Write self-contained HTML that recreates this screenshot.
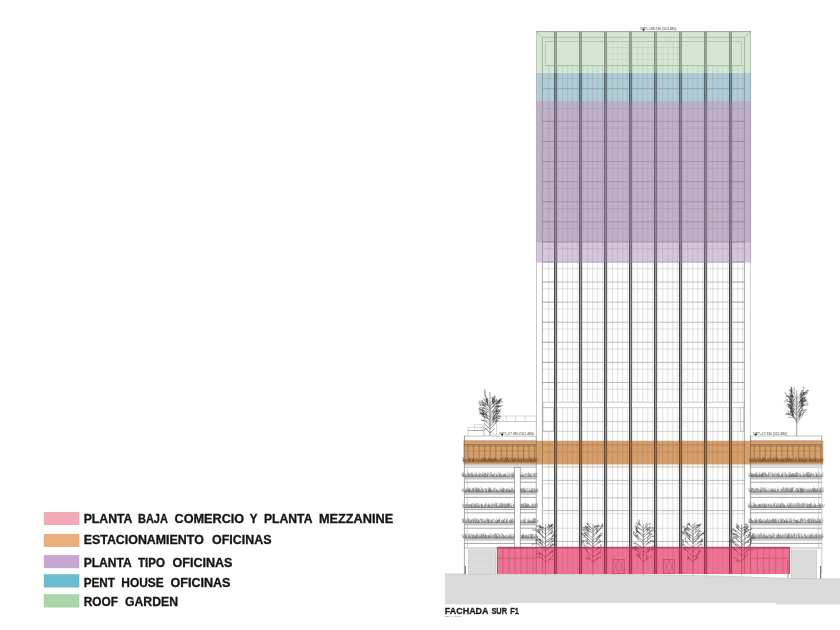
<!DOCTYPE html>
<html lang="es"><head><meta charset="utf-8"><title>Fachada Sur F1</title>
<style>html,body{margin:0;padding:0;background:#fff}body{width:840px;height:630px;overflow:hidden;font-family:"Liberation Sans",sans-serif}svg{display:block}</style>
</head><body>
<svg width="840" height="630" viewBox="0 0 840 630">
<rect width="840" height="630" fill="#fff"/>
<polygon points="445,574 600,574 720,576 790,578.5 840,579 840,604.6 776,604.6 776,603.0 510,603.0 510,604.3 445,604.3" fill="#dcdcdc"/>
<clipPath id="gc"><polygon points="445,574 600,574 720,576 790,578.5 840,579 840,604.6 776,604.6 776,603.0 510,603.0 510,604.3 445,604.3"/></clipPath>
<g stroke="#d3d3d3" stroke-width="0.5" clip-path="url(#gc)">
<line x1="400" y1="606" x2="434" y2="572"/>
<line x1="403" y1="606" x2="437" y2="572"/>
<line x1="406" y1="606" x2="440" y2="572"/>
<line x1="409" y1="606" x2="443" y2="572"/>
<line x1="412" y1="606" x2="446" y2="572"/>
<line x1="415" y1="606" x2="449" y2="572"/>
<line x1="418" y1="606" x2="452" y2="572"/>
<line x1="421" y1="606" x2="455" y2="572"/>
<line x1="424" y1="606" x2="458" y2="572"/>
<line x1="427" y1="606" x2="461" y2="572"/>
<line x1="430" y1="606" x2="464" y2="572"/>
<line x1="433" y1="606" x2="467" y2="572"/>
<line x1="436" y1="606" x2="470" y2="572"/>
<line x1="439" y1="606" x2="473" y2="572"/>
<line x1="442" y1="606" x2="476" y2="572"/>
<line x1="445" y1="606" x2="479" y2="572"/>
<line x1="448" y1="606" x2="482" y2="572"/>
<line x1="451" y1="606" x2="485" y2="572"/>
<line x1="454" y1="606" x2="488" y2="572"/>
<line x1="457" y1="606" x2="491" y2="572"/>
<line x1="460" y1="606" x2="494" y2="572"/>
<line x1="463" y1="606" x2="497" y2="572"/>
<line x1="466" y1="606" x2="500" y2="572"/>
<line x1="469" y1="606" x2="503" y2="572"/>
<line x1="472" y1="606" x2="506" y2="572"/>
<line x1="475" y1="606" x2="509" y2="572"/>
<line x1="478" y1="606" x2="512" y2="572"/>
<line x1="481" y1="606" x2="515" y2="572"/>
<line x1="484" y1="606" x2="518" y2="572"/>
<line x1="487" y1="606" x2="521" y2="572"/>
<line x1="490" y1="606" x2="524" y2="572"/>
<line x1="493" y1="606" x2="527" y2="572"/>
<line x1="496" y1="606" x2="530" y2="572"/>
<line x1="499" y1="606" x2="533" y2="572"/>
<line x1="502" y1="606" x2="536" y2="572"/>
<line x1="505" y1="606" x2="539" y2="572"/>
<line x1="508" y1="606" x2="542" y2="572"/>
<line x1="511" y1="606" x2="545" y2="572"/>
<line x1="514" y1="606" x2="548" y2="572"/>
<line x1="517" y1="606" x2="551" y2="572"/>
<line x1="520" y1="606" x2="554" y2="572"/>
<line x1="523" y1="606" x2="557" y2="572"/>
<line x1="526" y1="606" x2="560" y2="572"/>
<line x1="529" y1="606" x2="563" y2="572"/>
<line x1="532" y1="606" x2="566" y2="572"/>
<line x1="535" y1="606" x2="569" y2="572"/>
<line x1="538" y1="606" x2="572" y2="572"/>
<line x1="541" y1="606" x2="575" y2="572"/>
<line x1="544" y1="606" x2="578" y2="572"/>
<line x1="547" y1="606" x2="581" y2="572"/>
<line x1="550" y1="606" x2="584" y2="572"/>
<line x1="553" y1="606" x2="587" y2="572"/>
<line x1="556" y1="606" x2="590" y2="572"/>
<line x1="559" y1="606" x2="593" y2="572"/>
<line x1="562" y1="606" x2="596" y2="572"/>
<line x1="565" y1="606" x2="599" y2="572"/>
<line x1="568" y1="606" x2="602" y2="572"/>
<line x1="571" y1="606" x2="605" y2="572"/>
<line x1="574" y1="606" x2="608" y2="572"/>
<line x1="577" y1="606" x2="611" y2="572"/>
<line x1="580" y1="606" x2="614" y2="572"/>
<line x1="583" y1="606" x2="617" y2="572"/>
<line x1="586" y1="606" x2="620" y2="572"/>
<line x1="589" y1="606" x2="623" y2="572"/>
<line x1="592" y1="606" x2="626" y2="572"/>
<line x1="595" y1="606" x2="629" y2="572"/>
<line x1="598" y1="606" x2="632" y2="572"/>
<line x1="601" y1="606" x2="635" y2="572"/>
<line x1="604" y1="606" x2="638" y2="572"/>
<line x1="607" y1="606" x2="641" y2="572"/>
<line x1="610" y1="606" x2="644" y2="572"/>
<line x1="613" y1="606" x2="647" y2="572"/>
<line x1="616" y1="606" x2="650" y2="572"/>
<line x1="619" y1="606" x2="653" y2="572"/>
<line x1="622" y1="606" x2="656" y2="572"/>
<line x1="625" y1="606" x2="659" y2="572"/>
<line x1="628" y1="606" x2="662" y2="572"/>
<line x1="631" y1="606" x2="665" y2="572"/>
<line x1="634" y1="606" x2="668" y2="572"/>
<line x1="637" y1="606" x2="671" y2="572"/>
<line x1="640" y1="606" x2="674" y2="572"/>
<line x1="643" y1="606" x2="677" y2="572"/>
<line x1="646" y1="606" x2="680" y2="572"/>
<line x1="649" y1="606" x2="683" y2="572"/>
<line x1="652" y1="606" x2="686" y2="572"/>
<line x1="655" y1="606" x2="689" y2="572"/>
<line x1="658" y1="606" x2="692" y2="572"/>
<line x1="661" y1="606" x2="695" y2="572"/>
<line x1="664" y1="606" x2="698" y2="572"/>
<line x1="667" y1="606" x2="701" y2="572"/>
<line x1="670" y1="606" x2="704" y2="572"/>
<line x1="673" y1="606" x2="707" y2="572"/>
<line x1="676" y1="606" x2="710" y2="572"/>
<line x1="679" y1="606" x2="713" y2="572"/>
<line x1="682" y1="606" x2="716" y2="572"/>
<line x1="685" y1="606" x2="719" y2="572"/>
<line x1="688" y1="606" x2="722" y2="572"/>
<line x1="691" y1="606" x2="725" y2="572"/>
<line x1="694" y1="606" x2="728" y2="572"/>
<line x1="697" y1="606" x2="731" y2="572"/>
<line x1="700" y1="606" x2="734" y2="572"/>
<line x1="703" y1="606" x2="737" y2="572"/>
<line x1="706" y1="606" x2="740" y2="572"/>
<line x1="709" y1="606" x2="743" y2="572"/>
<line x1="712" y1="606" x2="746" y2="572"/>
<line x1="715" y1="606" x2="749" y2="572"/>
<line x1="718" y1="606" x2="752" y2="572"/>
<line x1="721" y1="606" x2="755" y2="572"/>
<line x1="724" y1="606" x2="758" y2="572"/>
<line x1="727" y1="606" x2="761" y2="572"/>
<line x1="730" y1="606" x2="764" y2="572"/>
<line x1="733" y1="606" x2="767" y2="572"/>
<line x1="736" y1="606" x2="770" y2="572"/>
<line x1="739" y1="606" x2="773" y2="572"/>
<line x1="742" y1="606" x2="776" y2="572"/>
<line x1="745" y1="606" x2="779" y2="572"/>
<line x1="748" y1="606" x2="782" y2="572"/>
<line x1="751" y1="606" x2="785" y2="572"/>
<line x1="754" y1="606" x2="788" y2="572"/>
<line x1="757" y1="606" x2="791" y2="572"/>
<line x1="760" y1="606" x2="794" y2="572"/>
<line x1="763" y1="606" x2="797" y2="572"/>
<line x1="766" y1="606" x2="800" y2="572"/>
<line x1="769" y1="606" x2="803" y2="572"/>
<line x1="772" y1="606" x2="806" y2="572"/>
<line x1="775" y1="606" x2="809" y2="572"/>
<line x1="778" y1="606" x2="812" y2="572"/>
<line x1="781" y1="606" x2="815" y2="572"/>
<line x1="784" y1="606" x2="818" y2="572"/>
<line x1="787" y1="606" x2="821" y2="572"/>
<line x1="790" y1="606" x2="824" y2="572"/>
<line x1="793" y1="606" x2="827" y2="572"/>
<line x1="796" y1="606" x2="830" y2="572"/>
<line x1="799" y1="606" x2="833" y2="572"/>
<line x1="802" y1="606" x2="836" y2="572"/>
<line x1="805" y1="606" x2="839" y2="572"/>
<line x1="808" y1="606" x2="842" y2="572"/>
<line x1="811" y1="606" x2="845" y2="572"/>
<line x1="814" y1="606" x2="848" y2="572"/>
<line x1="817" y1="606" x2="851" y2="572"/>
<line x1="820" y1="606" x2="854" y2="572"/>
<line x1="823" y1="606" x2="857" y2="572"/>
<line x1="826" y1="606" x2="860" y2="572"/>
<line x1="829" y1="606" x2="863" y2="572"/>
<line x1="832" y1="606" x2="866" y2="572"/>
<line x1="835" y1="606" x2="869" y2="572"/>
<line x1="838" y1="606" x2="872" y2="572"/>
<line x1="841" y1="606" x2="875" y2="572"/>
<line x1="844" y1="606" x2="878" y2="572"/>
<line x1="847" y1="606" x2="881" y2="572"/>
<line x1="850" y1="606" x2="884" y2="572"/>
<line x1="853" y1="606" x2="887" y2="572"/>
<line x1="856" y1="606" x2="890" y2="572"/>
<line x1="859" y1="606" x2="893" y2="572"/>
</g>
<polyline points="445,574 600,574 720,576 790,578.5 840,579" fill="none" stroke="#c4c4c4" stroke-width="0.7"/>
<g id="tower">
<rect x="536.50" y="31.60" width="214.50" height="542.40" fill="#fff"/>
<g stroke="#8a8a8a" stroke-width="0.26">
<line x1="557.60" y1="65.7" x2="557.60" y2="574.0"/>
<line x1="562.62" y1="65.7" x2="562.62" y2="574.0"/>
<line x1="567.64" y1="65.7" x2="567.64" y2="574.0"/>
<line x1="572.66" y1="65.7" x2="572.66" y2="574.0"/>
<line x1="577.68" y1="65.7" x2="577.68" y2="574.0"/>
<line x1="582.63" y1="65.7" x2="582.63" y2="574.0"/>
<line x1="587.65" y1="65.7" x2="587.65" y2="574.0"/>
<line x1="592.67" y1="65.7" x2="592.67" y2="574.0"/>
<line x1="597.69" y1="65.7" x2="597.69" y2="574.0"/>
<line x1="602.71" y1="65.7" x2="602.71" y2="574.0"/>
<line x1="607.66" y1="65.7" x2="607.66" y2="574.0"/>
<line x1="612.68" y1="65.7" x2="612.68" y2="574.0"/>
<line x1="617.70" y1="65.7" x2="617.70" y2="574.0"/>
<line x1="622.72" y1="65.7" x2="622.72" y2="574.0"/>
<line x1="627.74" y1="65.7" x2="627.74" y2="574.0"/>
<line x1="632.69" y1="65.7" x2="632.69" y2="574.0"/>
<line x1="637.71" y1="65.7" x2="637.71" y2="574.0"/>
<line x1="642.73" y1="65.7" x2="642.73" y2="574.0"/>
<line x1="647.75" y1="65.7" x2="647.75" y2="574.0"/>
<line x1="652.77" y1="65.7" x2="652.77" y2="574.0"/>
<line x1="657.72" y1="65.7" x2="657.72" y2="574.0"/>
<line x1="662.74" y1="65.7" x2="662.74" y2="574.0"/>
<line x1="667.76" y1="65.7" x2="667.76" y2="574.0"/>
<line x1="672.78" y1="65.7" x2="672.78" y2="574.0"/>
<line x1="677.80" y1="65.7" x2="677.80" y2="574.0"/>
<line x1="682.75" y1="65.7" x2="682.75" y2="574.0"/>
<line x1="687.77" y1="65.7" x2="687.77" y2="574.0"/>
<line x1="692.79" y1="65.7" x2="692.79" y2="574.0"/>
<line x1="697.81" y1="65.7" x2="697.81" y2="574.0"/>
<line x1="702.83" y1="65.7" x2="702.83" y2="574.0"/>
<line x1="707.78" y1="65.7" x2="707.78" y2="574.0"/>
<line x1="712.80" y1="65.7" x2="712.80" y2="574.0"/>
<line x1="717.82" y1="65.7" x2="717.82" y2="574.0"/>
<line x1="722.84" y1="65.7" x2="722.84" y2="574.0"/>
<line x1="727.86" y1="65.7" x2="727.86" y2="574.0"/>
<line x1="732.81" y1="65.7" x2="732.81" y2="574.0"/>
<line x1="737.83" y1="65.7" x2="737.83" y2="574.0"/>
<line x1="742.85" y1="65.7" x2="742.85" y2="574.0"/>
<line x1="548.70" y1="65.7" x2="548.70" y2="574.0"/>
</g>
<g stroke="#747474" stroke-width="0.45">
<line x1="542.4" y1="78.60" x2="744.6" y2="78.60" stroke-opacity="0.5"/>
<line x1="542.4" y1="88.70" x2="744.6" y2="88.70"/>
<line x1="542.4" y1="108.60" x2="744.6" y2="108.60" stroke-opacity="0.5"/>
<line x1="542.4" y1="121.40" x2="744.6" y2="121.40"/>
<line x1="542.4" y1="128.20" x2="744.6" y2="128.20" stroke-opacity="0.5"/>
<line x1="542.4" y1="141.48" x2="744.6" y2="141.48"/>
<line x1="542.4" y1="148.28" x2="744.6" y2="148.28" stroke-opacity="0.5"/>
<line x1="542.4" y1="161.56" x2="744.6" y2="161.56"/>
<line x1="542.4" y1="168.36" x2="744.6" y2="168.36" stroke-opacity="0.5"/>
<line x1="542.4" y1="181.64" x2="744.6" y2="181.64"/>
<line x1="542.4" y1="188.44" x2="744.6" y2="188.44" stroke-opacity="0.5"/>
<line x1="542.4" y1="201.72" x2="744.6" y2="201.72"/>
<line x1="542.4" y1="208.52" x2="744.6" y2="208.52" stroke-opacity="0.5"/>
<line x1="542.4" y1="221.80" x2="744.6" y2="221.80"/>
<line x1="542.4" y1="228.60" x2="744.6" y2="228.60" stroke-opacity="0.5"/>
<line x1="542.4" y1="241.88" x2="744.6" y2="241.88"/>
<line x1="542.4" y1="248.68" x2="744.6" y2="248.68" stroke-opacity="0.5"/>
<line x1="542.4" y1="261.96" x2="744.6" y2="261.96"/>
<line x1="542.4" y1="268.76" x2="744.6" y2="268.76" stroke-opacity="0.5"/>
<line x1="542.4" y1="282.04" x2="744.6" y2="282.04"/>
<line x1="542.4" y1="288.84" x2="744.6" y2="288.84" stroke-opacity="0.5"/>
<line x1="542.4" y1="302.12" x2="744.6" y2="302.12"/>
<line x1="542.4" y1="308.92" x2="744.6" y2="308.92" stroke-opacity="0.5"/>
<line x1="542.4" y1="322.20" x2="744.6" y2="322.20"/>
<line x1="542.4" y1="329.00" x2="744.6" y2="329.00" stroke-opacity="0.5"/>
<line x1="542.4" y1="342.28" x2="744.6" y2="342.28"/>
<line x1="542.4" y1="349.08" x2="744.6" y2="349.08" stroke-opacity="0.5"/>
<line x1="542.4" y1="362.36" x2="744.6" y2="362.36"/>
<line x1="542.4" y1="369.16" x2="744.6" y2="369.16" stroke-opacity="0.5"/>
<line x1="542.4" y1="382.44" x2="744.6" y2="382.44"/>
<line x1="542.4" y1="389.24" x2="744.6" y2="389.24" stroke-opacity="0.5"/>
<line x1="542.4" y1="445.00" x2="744.6" y2="445.00"/>
<line x1="542.4" y1="452.00" x2="744.6" y2="452.00" stroke-opacity="0.5"/>
<line x1="542.4" y1="466.90" x2="744.6" y2="466.90"/>
<line x1="542.4" y1="480.40" x2="744.6" y2="480.40"/>
<line x1="542.4" y1="483.90" x2="744.6" y2="483.90" stroke-opacity="0.5"/>
<line x1="542.4" y1="497.90" x2="744.6" y2="497.90"/>
<line x1="542.4" y1="510.60" x2="744.6" y2="510.60"/>
<line x1="542.4" y1="513.70" x2="744.6" y2="513.70" stroke-opacity="0.5"/>
<line x1="542.4" y1="528.30" x2="744.6" y2="528.30" stroke-opacity="0.5"/>
<line x1="542.4" y1="541.50" x2="744.6" y2="541.50"/>
</g>
<g stroke="#888" stroke-width="0.4">
<line x1="542.4" y1="121.40" x2="554.50" y2="121.40"/>
<line x1="732.51" y1="121.40" x2="744.6" y2="121.40"/>
<line x1="542.4" y1="141.48" x2="554.50" y2="141.48"/>
<line x1="732.51" y1="141.48" x2="744.6" y2="141.48"/>
<line x1="542.4" y1="161.56" x2="554.50" y2="161.56"/>
<line x1="732.51" y1="161.56" x2="744.6" y2="161.56"/>
<line x1="542.4" y1="181.64" x2="554.50" y2="181.64"/>
<line x1="732.51" y1="181.64" x2="744.6" y2="181.64"/>
<line x1="542.4" y1="201.72" x2="554.50" y2="201.72"/>
<line x1="732.51" y1="201.72" x2="744.6" y2="201.72"/>
<line x1="542.4" y1="221.80" x2="554.50" y2="221.80"/>
<line x1="732.51" y1="221.80" x2="744.6" y2="221.80"/>
<line x1="542.4" y1="241.88" x2="554.50" y2="241.88"/>
<line x1="732.51" y1="241.88" x2="744.6" y2="241.88"/>
<line x1="542.4" y1="261.96" x2="554.50" y2="261.96"/>
<line x1="732.51" y1="261.96" x2="744.6" y2="261.96"/>
<line x1="542.4" y1="282.04" x2="554.50" y2="282.04"/>
<line x1="732.51" y1="282.04" x2="744.6" y2="282.04"/>
<line x1="542.4" y1="302.12" x2="554.50" y2="302.12"/>
<line x1="732.51" y1="302.12" x2="744.6" y2="302.12"/>
<line x1="542.4" y1="322.20" x2="554.50" y2="322.20"/>
<line x1="732.51" y1="322.20" x2="744.6" y2="322.20"/>
<line x1="542.4" y1="342.28" x2="554.50" y2="342.28"/>
<line x1="732.51" y1="342.28" x2="744.6" y2="342.28"/>
<line x1="542.4" y1="362.36" x2="554.50" y2="362.36"/>
<line x1="732.51" y1="362.36" x2="744.6" y2="362.36"/>
<line x1="542.4" y1="382.44" x2="554.50" y2="382.44"/>
<line x1="732.51" y1="382.44" x2="744.6" y2="382.44"/>
</g>
<rect x="543.00" y="402.20" width="201.00" height="5.60" fill="#fff" stroke="#aaa" stroke-width="0.6"/>
<rect x="543.00" y="407.80" width="10.40" height="23.40" fill="#fff" stroke="#aaa" stroke-width="0.6"/>
<rect x="740.30" y="407.80" width="3.40" height="23.40" fill="#fff" stroke="#aaa" stroke-width="0.6"/>
<line x1="542.40" y1="421.70" x2="744.60" y2="421.70" stroke="#999" stroke-width="0.5"/>
<line x1="542.40" y1="431.40" x2="744.60" y2="431.40" stroke="#aaa" stroke-width="0.5"/>
<line x1="536.50" y1="31.60" x2="542.40" y2="37.30" stroke="#888" stroke-width="0.5"/>
<line x1="751.00" y1="31.60" x2="744.60" y2="37.30" stroke="#888" stroke-width="0.5"/>
<line x1="542.40" y1="37.30" x2="744.60" y2="37.30" stroke="#888" stroke-width="0.5"/>
<rect x="545.80" y="41.60" width="195.40" height="24.10" fill="none" stroke="#999" stroke-width="0.5"/>
<line x1="542.40" y1="65.70" x2="744.60" y2="65.70" stroke="#aaa" stroke-width="0.4"/>
<g stroke="#aab8a8" stroke-width="0.25">
<line x1="607.66" y1="41.6" x2="607.66" y2="65.7"/>
<line x1="612.68" y1="41.6" x2="612.68" y2="65.7"/>
<line x1="617.70" y1="41.6" x2="617.70" y2="65.7"/>
<line x1="622.72" y1="41.6" x2="622.72" y2="65.7"/>
<line x1="627.74" y1="41.6" x2="627.74" y2="65.7"/>
<line x1="632.76" y1="41.6" x2="632.76" y2="65.7"/>
<line x1="637.78" y1="41.6" x2="637.78" y2="65.7"/>
<line x1="642.80" y1="41.6" x2="642.80" y2="65.7"/>
<line x1="647.82" y1="41.6" x2="647.82" y2="65.7"/>
<line x1="652.84" y1="41.6" x2="652.84" y2="65.7"/>
<line x1="657.86" y1="41.6" x2="657.86" y2="65.7"/>
<line x1="662.88" y1="41.6" x2="662.88" y2="65.7"/>
<line x1="667.90" y1="41.6" x2="667.90" y2="65.7"/>
<line x1="672.92" y1="41.6" x2="672.92" y2="65.7"/>
<line x1="677.94" y1="41.6" x2="677.94" y2="65.7"/>
<line x1="605.96" y1="47.5" x2="681.05" y2="47.5"/>
<line x1="605.96" y1="53.5" x2="681.05" y2="53.5"/>
<line x1="605.96" y1="59.5" x2="681.05" y2="59.5"/>
</g>
<line x1="536.50" y1="31.60" x2="536.50" y2="574.00" stroke="#aaa" stroke-width="0.6"/>
<line x1="750.30" y1="31.60" x2="750.30" y2="574.00" stroke="#aaa" stroke-width="0.6"/>
<line x1="542.40" y1="37.30" x2="542.40" y2="574.00" stroke="#777" stroke-width="0.6"/>
<line x1="744.60" y1="37.30" x2="744.60" y2="574.00" stroke="#777" stroke-width="0.6"/>
<line x1="536.50" y1="31.60" x2="751.00" y2="31.60" stroke="#777" stroke-width="0.7"/>
<rect x="554.00" y="73.00" width="2.90" height="189.50" fill="#8e8e8e"/>
<rect x="554.00" y="262.50" width="2.90" height="311.50" fill="#a6a6a6"/>
<rect x="554.00" y="73.00" width="1.00" height="501.00" fill="#464646"/>
<rect x="555.90" y="73.00" width="1.00" height="501.00" fill="#5c5c5c"/>
<rect x="554.00" y="31.60" width="2.90" height="41.40" fill="#a4a4a4"/>
<rect x="554.00" y="31.60" width="1.00" height="41.40" fill="#7c7c7c"/>
<rect x="555.90" y="31.60" width="1.00" height="41.40" fill="#8a8a8a"/>
<rect x="579.00" y="73.00" width="2.90" height="189.50" fill="#8e8e8e"/>
<rect x="579.00" y="262.50" width="2.90" height="311.50" fill="#a6a6a6"/>
<rect x="579.00" y="73.00" width="1.00" height="501.00" fill="#464646"/>
<rect x="580.90" y="73.00" width="1.00" height="501.00" fill="#5c5c5c"/>
<rect x="579.00" y="31.60" width="2.90" height="41.40" fill="#a4a4a4"/>
<rect x="579.00" y="31.60" width="1.00" height="41.40" fill="#7c7c7c"/>
<rect x="580.90" y="31.60" width="1.00" height="41.40" fill="#8a8a8a"/>
<rect x="604.00" y="73.00" width="2.90" height="189.50" fill="#8e8e8e"/>
<rect x="604.00" y="262.50" width="2.90" height="311.50" fill="#a6a6a6"/>
<rect x="604.00" y="73.00" width="1.00" height="501.00" fill="#464646"/>
<rect x="605.90" y="73.00" width="1.00" height="501.00" fill="#5c5c5c"/>
<rect x="604.00" y="31.60" width="2.90" height="41.40" fill="#a4a4a4"/>
<rect x="604.00" y="31.60" width="1.00" height="41.40" fill="#7c7c7c"/>
<rect x="605.90" y="31.60" width="1.00" height="41.40" fill="#8a8a8a"/>
<rect x="629.00" y="73.00" width="2.90" height="189.50" fill="#8e8e8e"/>
<rect x="629.00" y="262.50" width="2.90" height="311.50" fill="#a6a6a6"/>
<rect x="629.00" y="73.00" width="1.00" height="501.00" fill="#464646"/>
<rect x="630.90" y="73.00" width="1.00" height="501.00" fill="#5c5c5c"/>
<rect x="629.00" y="31.60" width="2.90" height="41.40" fill="#a4a4a4"/>
<rect x="629.00" y="31.60" width="1.00" height="41.40" fill="#7c7c7c"/>
<rect x="630.90" y="31.60" width="1.00" height="41.40" fill="#8a8a8a"/>
<rect x="654.00" y="73.00" width="2.90" height="189.50" fill="#8e8e8e"/>
<rect x="654.00" y="262.50" width="2.90" height="311.50" fill="#a6a6a6"/>
<rect x="654.00" y="73.00" width="1.00" height="501.00" fill="#464646"/>
<rect x="655.90" y="73.00" width="1.00" height="501.00" fill="#5c5c5c"/>
<rect x="654.00" y="31.60" width="2.90" height="41.40" fill="#a4a4a4"/>
<rect x="654.00" y="31.60" width="1.00" height="41.40" fill="#7c7c7c"/>
<rect x="655.90" y="31.60" width="1.00" height="41.40" fill="#8a8a8a"/>
<rect x="679.00" y="73.00" width="2.90" height="189.50" fill="#8e8e8e"/>
<rect x="679.00" y="262.50" width="2.90" height="311.50" fill="#a6a6a6"/>
<rect x="679.00" y="73.00" width="1.00" height="501.00" fill="#464646"/>
<rect x="680.90" y="73.00" width="1.00" height="501.00" fill="#5c5c5c"/>
<rect x="679.00" y="31.60" width="2.90" height="41.40" fill="#a4a4a4"/>
<rect x="679.00" y="31.60" width="1.00" height="41.40" fill="#7c7c7c"/>
<rect x="680.90" y="31.60" width="1.00" height="41.40" fill="#8a8a8a"/>
<rect x="704.00" y="73.00" width="2.90" height="189.50" fill="#8e8e8e"/>
<rect x="704.00" y="262.50" width="2.90" height="311.50" fill="#a6a6a6"/>
<rect x="704.00" y="73.00" width="1.00" height="501.00" fill="#464646"/>
<rect x="705.90" y="73.00" width="1.00" height="501.00" fill="#5c5c5c"/>
<rect x="704.00" y="31.60" width="2.90" height="41.40" fill="#a4a4a4"/>
<rect x="704.00" y="31.60" width="1.00" height="41.40" fill="#7c7c7c"/>
<rect x="705.90" y="31.60" width="1.00" height="41.40" fill="#8a8a8a"/>
<rect x="729.00" y="73.00" width="2.90" height="189.50" fill="#8e8e8e"/>
<rect x="729.00" y="262.50" width="2.90" height="311.50" fill="#a6a6a6"/>
<rect x="729.00" y="73.00" width="1.00" height="501.00" fill="#464646"/>
<rect x="730.90" y="73.00" width="1.00" height="501.00" fill="#5c5c5c"/>
<rect x="729.00" y="31.60" width="2.90" height="41.40" fill="#a4a4a4"/>
<rect x="729.00" y="31.60" width="1.00" height="41.40" fill="#7c7c7c"/>
<rect x="730.90" y="31.60" width="1.00" height="41.40" fill="#8a8a8a"/>
</g>
<rect x="464.40" y="436.00" width="71.80" height="138.00" fill="#fff"/>
<rect x="464.40" y="436.00" width="71.80" height="4.80" fill="#fff" stroke="#999" stroke-width="0.6"/>
<line x1="464.40" y1="444.50" x2="536.20" y2="444.50" stroke="#555" stroke-width="0.5"/>
<line x1="464.40" y1="446.00" x2="536.20" y2="446.00" stroke="#555" stroke-width="0.5"/>
<line x1="464.40" y1="451.00" x2="536.20" y2="451.00" stroke="#999" stroke-width="0.4"/>
<g stroke="#444" stroke-width="0.45">
<line x1="468.0" y1="445.3" x2="468.0" y2="461"/>
<line x1="473.6" y1="445.3" x2="473.6" y2="461"/>
<line x1="479.1" y1="445.3" x2="479.1" y2="461"/>
<line x1="484.7" y1="445.3" x2="484.7" y2="461"/>
<line x1="490.2" y1="445.3" x2="490.2" y2="461"/>
<line x1="495.8" y1="445.3" x2="495.8" y2="461"/>
<line x1="501.3" y1="445.3" x2="501.3" y2="461"/>
<line x1="506.9" y1="445.3" x2="506.9" y2="461"/>
<line x1="512.4" y1="445.3" x2="512.4" y2="461"/>
<line x1="518.0" y1="445.3" x2="518.0" y2="461"/>
<line x1="523.5" y1="445.3" x2="523.5" y2="461"/>
<line x1="529.0" y1="445.3" x2="529.0" y2="461"/>
<line x1="534.6" y1="445.3" x2="534.6" y2="461"/>
</g>
<path d="M463.4 461.6q0.5 -2.6 -0.2 -4.3M463.4 461.6q0.2 -1.0 -0.1 -1.7M463.4 461.6q-0.9 -1.5 -0.7 -2.5M464.7 461.6q1.3 -1.5 1.7 -2.6M464.7 461.6q0.4 -1.6 0.5 -2.6M464.7 461.6q-1.0 -2.5 -1.6 -4.2M464.7 461.6q0.0 -1.6 1.0 -2.6M465.9 461.6q-1.0 -1.4 -0.7 -2.3M465.9 461.6q0.6 -0.9 -0.8 -1.6M467.4 461.6q0.3 -2.3 0.9 -3.8M467.4 461.6q0.1 -0.9 1.0 -1.5M468.8 461.6q-0.4 -1.3 1.3 -2.2M468.8 461.6q0.7 -1.5 -0.1 -2.5M468.8 461.6q-0.4 -1.8 0.2 -3.0M470.0 461.6q-0.7 -1.3 -1.7 -2.2M470.0 461.6q-0.9 -2.6 -0.9 -4.4M470.0 461.6q-0.3 -1.3 -1.2 -2.2M471.1 461.6q-0.3 -2.7 -0.3 -4.6M471.1 461.6q0.0 -1.8 -1.8 -3.0M472.6 461.6q-0.5 -1.7 -1.0 -2.8M472.6 461.6q-0.6 -1.8 0.3 -3.0M472.6 461.6q0.2 -1.4 -0.9 -2.4M472.6 461.6q-0.8 -1.7 -0.4 -2.9M473.4 461.6q0.1 -1.1 -0.5 -1.8M473.4 461.6q0.1 -1.0 -0.1 -1.6M473.4 461.6q-0.2 -2.6 0.5 -4.3M473.4 461.6q-0.8 -1.1 -0.9 -1.8M474.7 461.6q0.6 -1.5 1.4 -2.5M474.7 461.6q-0.4 -1.9 -1.4 -3.1M474.7 461.6q-0.2 -1.1 0.7 -1.9M474.7 461.6q0.0 -1.7 -0.0 -2.9M476.2 461.6q0.6 -1.4 0.2 -2.3M476.2 461.6q0.4 -2.2 -1.0 -3.6M477.5 461.6q-1.0 -1.6 -0.9 -2.7M477.5 461.6q-0.5 -1.1 0.3 -1.9M478.5 461.6q0.3 -1.9 0.8 -3.2M478.5 461.6q-1.3 -1.9 -1.7 -3.1M478.5 461.6q-0.9 -1.8 -0.7 -3.1M479.6 461.6q-0.8 -1.4 -0.7 -2.3M479.6 461.6q0.4 -1.3 0.2 -2.2M481.1 461.6q1.0 -2.3 1.1 -3.9M481.1 461.6q-0.7 -1.2 -0.1 -2.0M481.1 461.6q0.5 -2.5 1.3 -4.2M481.1 461.6q-0.9 -2.2 -0.4 -3.6M481.8 461.6q0.8 -2.2 1.4 -3.7M481.8 461.6q0.1 -1.3 0.7 -2.1M482.9 461.6q-0.3 -0.9 -1.7 -1.6M482.9 461.6q-0.1 -2.0 1.6 -3.3M482.9 461.6q0.1 -1.7 1.5 -2.8M482.9 461.6q-0.2 -1.2 -1.3 -2.0M484.0 461.6q-0.4 -2.2 -0.0 -3.7M484.0 461.6q-0.4 -1.8 -1.1 -3.1M484.0 461.6q0.2 -2.5 1.4 -4.1M485.2 461.6q0.5 -1.5 -0.0 -2.5M485.2 461.6q0.3 -1.8 -1.6 -2.9M485.2 461.6q-0.4 -2.5 -0.2 -4.1M486.0 461.6q-0.3 -1.3 -0.0 -2.1M486.0 461.6q-0.7 -1.8 -0.2 -2.9M486.0 461.6q-0.2 -0.9 -1.7 -1.5M487.2 461.6q-1.1 -1.5 -1.7 -2.6M487.2 461.6q-0.1 -1.9 1.0 -3.2M487.2 461.6q-0.1 -2.4 1.7 -4.0M488.0 461.6q0.8 -2.2 1.7 -3.7M488.0 461.6q0.1 -1.5 -0.9 -2.5M488.0 461.6q-0.3 -1.7 0.8 -2.8M488.0 461.6q0.8 -1.6 0.1 -2.7M489.1 461.6q-0.2 -1.3 1.5 -2.1M489.1 461.6q-0.2 -1.9 -0.4 -3.1M489.9 461.6q0.2 -1.3 0.5 -2.1M489.9 461.6q0.2 -2.5 -0.1 -4.1M490.8 461.6q-0.1 -1.8 1.5 -3.0M490.8 461.6q1.3 -1.6 1.7 -2.6M490.8 461.6q0.1 -2.0 -0.9 -3.4M490.8 461.6q-0.5 -0.9 -1.5 -1.4M491.9 461.6q0.3 -2.0 -1.0 -3.3M491.9 461.6q-0.6 -1.9 -1.2 -3.1M491.9 461.6q0.8 -2.4 -0.1 -4.0M493.4 461.6q0.5 -1.8 -0.2 -2.9M493.4 461.6q-0.9 -1.5 -1.5 -2.5M493.4 461.6q0.5 -2.0 1.2 -3.4M493.4 461.6q0.5 -1.0 1.2 -1.7M494.3 461.6q0.2 -1.9 -1.1 -3.1M494.3 461.6q-0.2 -1.9 -0.8 -3.2M494.3 461.6q0.2 -1.8 0.0 -3.1M495.0 461.6q0.8 -2.0 0.2 -3.3M495.0 461.6q-0.5 -1.4 0.7 -2.3M496.2 461.6q-0.3 -2.6 -0.8 -4.4M496.2 461.6q1.1 -1.4 1.4 -2.3M496.2 461.6q-0.7 -1.8 -0.7 -3.1M497.4 461.6q-1.1 -1.4 -1.7 -2.3M497.4 461.6q-0.4 -1.2 -0.6 -2.0M497.4 461.6q0.1 -2.2 -0.0 -3.6M498.7 461.6q0.8 -1.6 0.7 -2.7M498.7 461.6q-0.0 -0.9 -0.3 -1.4M498.7 461.6q0.4 -1.4 1.3 -2.4M498.7 461.6q0.6 -1.5 1.3 -2.6M500.1 461.6q1.0 -1.8 1.1 -3.1M500.1 461.6q-0.1 -1.7 1.4 -2.8M501.5 461.6q-0.2 -2.6 1.4 -4.3M501.5 461.6q0.1 -1.3 -1.5 -2.2M502.5 461.6q0.6 -1.4 0.5 -2.3M502.5 461.6q0.9 -0.9 0.7 -1.6M502.5 461.6q0.4 -2.7 0.7 -4.5M502.5 461.6q0.8 -1.2 1.2 -2.0M503.6 461.6q0.8 -0.9 0.4 -1.5M503.6 461.6q-0.8 -2.0 -1.1 -3.3M504.9 461.6q-0.5 -2.6 0.3 -4.4M504.9 461.6q0.0 -2.3 1.0 -3.8M504.9 461.6q-0.6 -1.3 -0.5 -2.2M505.9 461.6q-0.4 -2.3 -1.1 -3.8M505.9 461.6q0.6 -2.4 1.5 -3.9M505.9 461.6q-0.9 -1.3 -0.6 -2.2M505.9 461.6q0.6 -1.8 1.6 -2.9M506.8 461.6q-0.9 -2.7 -0.8 -4.6M506.8 461.6q0.2 -2.4 1.1 -3.9M506.8 461.6q0.6 -1.8 0.7 -3.0M506.8 461.6q-0.8 -2.4 -1.1 -4.0M508.1 461.6q1.2 -1.9 1.4 -3.2M508.1 461.6q0.4 -2.6 -1.0 -4.3M508.1 461.6q-0.5 -2.2 -1.0 -3.7M509.0 461.6q0.5 -1.8 0.5 -3.0M509.0 461.6q-0.3 -1.7 -1.7 -2.8M510.3 461.6q-1.0 -1.3 -1.6 -2.2M510.3 461.6q-0.6 -1.8 -0.9 -3.0M510.3 461.6q0.8 -1.2 0.0 -2.0M511.4 461.6q-0.3 -1.5 -1.5 -2.6M511.4 461.6q0.6 -2.4 -0.4 -4.0M512.4 461.6q-0.6 -1.8 0.4 -3.0M512.4 461.6q-0.4 -2.7 -0.8 -4.5M513.4 461.6q0.4 -1.2 -0.8 -1.9M513.4 461.6q-1.0 -1.6 -0.7 -2.6M513.4 461.6q-0.0 -1.6 0.5 -2.6M513.4 461.6q0.8 -2.3 1.4 -3.8M514.1 461.6q-0.1 -2.7 1.1 -4.5M514.1 461.6q0.1 -2.3 1.7 -3.9M514.1 461.6q-0.1 -1.4 1.5 -2.4M514.1 461.6q-0.5 -2.7 0.4 -4.5M515.3 461.6q-0.7 -1.4 -0.5 -2.3M515.3 461.6q0.1 -1.8 0.6 -2.9M515.3 461.6q-0.0 -1.1 0.7 -1.9M516.6 461.6q-0.4 -1.9 -1.3 -3.1M516.6 461.6q0.5 -2.0 1.0 -3.3M517.6 461.6q0.2 -1.5 0.2 -2.5M517.6 461.6q-0.7 -2.2 -1.1 -3.6M517.6 461.6q-0.3 -2.7 1.4 -4.5M518.4 461.6q-0.5 -1.6 0.4 -2.7M518.4 461.6q0.9 -2.0 0.9 -3.4M518.4 461.6q-0.1 -1.5 0.5 -2.4M519.4 461.6q0.8 -1.7 0.9 -2.9M519.4 461.6q0.5 -1.3 -0.2 -2.2M520.8 461.6q0.2 -1.3 -0.9 -2.2M520.8 461.6q0.5 -1.2 1.2 -2.1M521.7 461.6q-0.3 -2.5 -0.3 -4.1M521.7 461.6q-1.1 -1.4 -1.5 -2.3M521.7 461.6q0.3 -2.1 1.1 -3.5M521.7 461.6q-0.9 -2.5 -1.5 -4.1M523.0 461.6q0.6 -2.3 0.8 -3.8M523.0 461.6q-0.1 -1.6 -1.0 -2.7M523.9 461.6q0.7 -1.7 0.2 -2.8M523.9 461.6q0.4 -2.7 -0.2 -4.4M524.9 461.6q0.0 -1.1 1.4 -1.8M524.9 461.6q-0.2 -1.8 -1.7 -2.9M524.9 461.6q0.0 -2.1 0.9 -3.5M525.9 461.6q-1.0 -1.8 -1.2 -2.9M525.9 461.6q-0.1 -1.9 1.1 -3.2M526.6 461.6q0.7 -2.1 0.5 -3.5M526.6 461.6q-0.1 -0.9 -0.7 -1.5M527.6 461.6q-0.2 -2.3 -1.5 -3.9M527.6 461.6q0.2 -1.0 1.1 -1.7M527.6 461.6q0.3 -2.3 1.0 -3.9M528.9 461.6q0.2 -1.7 0.6 -2.9M528.9 461.6q-0.3 -1.4 -1.5 -2.4M528.9 461.6q-1.0 -0.9 -0.5 -1.5M529.9 461.6q0.2 -1.8 0.5 -3.0M529.9 461.6q-0.2 -2.3 -0.3 -3.8M530.7 461.6q-0.7 -1.0 -0.4 -1.7M530.7 461.6q-0.3 -1.5 0.1 -2.5M530.7 461.6q-0.8 -2.6 -0.7 -4.3M530.7 461.6q0.9 -2.2 1.5 -3.7M531.5 461.6q-0.7 -2.6 -0.7 -4.4M531.5 461.6q0.1 -1.2 -1.0 -2.1M531.5 461.6q0.6 -2.1 -0.2 -3.5M532.5 461.6q-0.4 -1.5 -0.1 -2.5M532.5 461.6q0.6 -2.6 0.6 -4.3M532.5 461.6q-0.6 -1.3 -0.4 -2.2M533.3 461.6q0.8 -1.9 1.0 -3.2M533.3 461.6q1.0 -1.3 1.4 -2.2M533.3 461.6q0.7 -2.6 1.1 -4.4M534.5 461.6q0.3 -1.8 -1.3 -3.1M534.5 461.6q0.9 -2.5 0.5 -4.1M535.4 461.6q-0.5 -0.9 1.0 -1.5M535.4 461.6q-0.3 -2.5 1.2 -4.1M535.4 461.6q0.7 -1.1 0.1 -1.9M535.4 461.6q0.6 -2.3 1.6 -3.8M536.8 461.6q0.6 -1.2 -0.3 -2.0M536.8 461.6q-0.2 -1.3 -1.0 -2.2M536.8 461.6q1.2 -2.0 1.6 -3.4" fill="none" stroke="#333" stroke-width="0.3"/>
<path d="M463.4 459.8l0.2 1.2M464.5 460.9l-1.3 -0.9M465.6 459.0l0.7 0.7M466.2 459.7l1.1 0.5M467.1 460.2l-1.2 0.7M468.4 458.5l0.7 1.0M469.0 459.2l1.3 0.6M470.4 458.8l0.2 -1.0M471.1 459.9l-1.2 -0.5M471.8 459.6l0.4 -0.1M472.7 460.8l0.4 -0.9M473.7 460.5l-0.9 -1.1M474.6 458.9l-1.2 -1.1M476.0 459.8l0.8 -0.4M477.3 458.2l-1.1 -0.7M477.9 459.0l-0.1 1.0M479.0 458.8l0.3 -0.4M480.2 460.3l1.5 0.1M480.9 460.5l-0.6 -0.1M481.9 460.5l-0.5 -0.5M482.5 458.9l-0.7 0.1M483.3 460.4l0.3 0.0M484.3 460.5l1.3 1.2M485.4 458.2l0.2 -1.1M486.5 458.7l-1.1 -0.1M487.4 460.1l-1.2 0.9M488.1 458.4l-0.1 0.6M488.9 459.3l0.1 -1.0M490.2 460.6l0.7 1.0M491.0 460.6l1.3 -1.2M492.1 460.0l0.8 -0.3M492.7 459.2l0.9 -0.1M493.6 458.7l1.3 1.2M494.2 458.8l1.0 1.0M495.3 459.1l0.8 -0.8M496.2 461.0l0.1 -0.9M497.0 460.1l-1.1 -0.6M498.4 460.9l0.9 0.5M499.6 459.9l-0.0 -1.0M500.4 458.3l1.2 0.2M501.2 460.2l1.2 -0.1M502.6 459.0l1.0 -0.9M503.2 458.2l-0.5 0.0M504.0 461.0l1.2 -0.5M505.1 459.8l-0.4 -0.4M506.3 458.4l1.1 -0.6M507.6 460.3l1.1 1.1M508.5 460.8l1.2 0.1M509.6 458.2l1.1 1.2M510.7 458.4l-0.4 0.1M511.8 460.6l0.4 -0.2M512.4 460.9l0.1 -0.9M513.7 459.3l-0.1 -0.5M514.8 461.0l-1.0 -0.1M515.7 459.5l-1.1 0.5M516.4 460.2l-0.1 -0.4M517.2 460.7l0.8 0.7M518.5 460.5l1.1 0.5M519.1 460.1l1.1 1.0M519.6 459.1l0.6 0.1M520.6 460.4l1.3 1.1M521.6 460.2l1.0 1.1M522.4 459.8l1.1 -0.4M523.8 458.7l-0.3 -0.8M525.0 460.7l0.6 -0.6M526.2 459.5l-0.6 -0.5M527.4 459.5l-1.2 0.0M528.8 458.3l-1.0 -0.7M529.4 459.0l-0.1 -1.0M530.7 460.9l1.2 -1.2M531.7 459.4l-0.2 0.2M532.4 458.0l-0.9 -0.8M533.6 461.0l0.9 -0.8M534.9 459.2l1.2 0.2M535.4 458.3l-1.3 -1.0M536.6 458.3l-0.5 -0.0M537.1 460.2l1.0 0.3" fill="none" stroke="#444" stroke-width="0.34"/>
<line x1="464.40" y1="462.00" x2="536.20" y2="462.00" stroke="#444" stroke-width="0.6"/>
<rect x="464.40" y="465.00" width="71.80" height="2.40" fill="#dde3ea" stroke="#aaa" stroke-width="0.4"/>
<path d="M462.9 477.0q0.5 -3.0 0.3 -5.0M462.9 477.0q-0.4 -1.4 -1.0 -2.4M462.9 477.0q-0.1 -1.9 1.0 -3.1M462.9 477.0q0.5 -2.1 1.3 -3.6M463.8 477.0q-0.6 -1.6 -1.6 -2.7M463.8 477.0q-1.1 -2.9 -1.3 -4.8M464.9 477.0q0.2 -1.5 -0.9 -2.5M464.9 477.0q0.1 -1.3 0.2 -2.2M464.9 477.0q-0.6 -2.7 0.4 -4.5M465.9 477.0q0.7 -1.3 0.9 -2.1M465.9 477.0q0.1 -2.7 -1.5 -4.4M465.9 477.0q-0.3 -1.5 -0.9 -2.5M465.9 477.0q-0.4 -1.7 1.0 -2.9M467.0 477.0q-0.2 -1.8 1.7 -3.0M467.0 477.0q-0.0 -1.5 1.8 -2.5M467.0 477.0q-0.3 -1.5 1.7 -2.4M468.0 477.0q0.0 -1.5 0.2 -2.5M468.0 477.0q0.5 -3.0 0.6 -5.0M468.0 477.0q-0.7 -2.2 -1.0 -3.6M468.0 477.0q-0.8 -2.3 -0.3 -3.8M468.9 477.0q-0.8 -1.3 -1.0 -2.2M468.9 477.0q0.4 -2.3 0.9 -3.9M468.9 477.0q-0.1 -2.1 1.5 -3.4M470.3 477.0q-0.6 -1.9 -1.0 -3.2M470.3 477.0q0.3 -1.1 1.1 -1.8M471.3 477.0q-0.0 -2.1 -0.1 -3.5M471.3 477.0q-0.1 -2.4 1.3 -4.0M471.3 477.0q-0.8 -1.9 -1.6 -3.2M471.3 477.0q-1.0 -2.1 -1.7 -3.5M472.2 477.0q-0.1 -1.6 0.8 -2.7M472.2 477.0q0.7 -1.9 0.8 -3.2M472.2 477.0q0.9 -1.5 0.8 -2.4M472.9 477.0q0.2 -2.8 -1.5 -4.7M472.9 477.0q-0.1 -1.3 0.6 -2.1M472.9 477.0q-1.1 -2.4 -1.7 -3.9M474.1 477.0q-0.0 -1.6 -0.3 -2.7M474.1 477.0q-0.2 -1.0 0.2 -1.7M475.2 477.0q0.4 -1.5 1.2 -2.5M475.2 477.0q0.5 -2.1 -0.4 -3.4M475.2 477.0q0.0 -1.6 -0.5 -2.7M476.0 477.0q0.6 -2.6 0.2 -4.4M476.0 477.0q-0.5 -3.1 0.6 -5.1M477.4 477.0q0.0 -1.8 -1.4 -2.9M477.4 477.0q0.2 -1.3 -0.9 -2.2M477.4 477.0q-0.7 -1.4 -1.6 -2.4M477.4 477.0q-0.2 -1.8 0.7 -3.1M478.8 477.0q0.2 -2.1 -0.5 -3.5M478.8 477.0q-0.3 -1.5 -0.6 -2.6M479.6 477.0q0.5 -1.2 -0.7 -2.0M479.6 477.0q-0.8 -2.9 -0.5 -4.9M479.6 477.0q0.4 -2.0 -0.4 -3.3M479.6 477.0q-0.6 -1.2 -0.6 -2.1M480.3 477.0q-0.3 -1.8 0.2 -3.0M480.3 477.0q-0.0 -2.5 0.5 -4.1M480.3 477.0q-0.2 -1.9 -1.7 -3.1M481.2 477.0q0.2 -1.7 0.2 -2.8M481.2 477.0q1.0 -1.3 1.2 -2.2M482.2 477.0q-0.2 -1.3 0.7 -2.1M482.2 477.0q-0.0 -2.2 1.7 -3.6M482.2 477.0q-0.7 -1.6 -0.9 -2.6M483.3 477.0q-0.3 -3.1 -0.9 -5.1M483.3 477.0q0.1 -1.7 -1.5 -2.9M483.3 477.0q0.2 -2.0 1.7 -3.4M483.3 477.0q0.1 -1.9 -0.7 -3.1M484.6 477.0q-0.2 -1.5 1.2 -2.5M484.6 477.0q-0.0 -2.4 1.1 -4.0M484.6 477.0q0.3 -2.0 0.9 -3.3M484.6 477.0q0.2 -1.7 -0.5 -2.8M486.0 477.0q1.0 -1.4 1.8 -2.4M486.0 477.0q-0.5 -2.9 -1.4 -4.8M486.0 477.0q-0.3 -2.7 -1.7 -4.5M486.0 477.0q-0.9 -2.0 -1.6 -3.3M487.1 477.0q-0.1 -1.4 0.5 -2.3M487.1 477.0q0.2 -2.5 -0.6 -4.2M487.1 477.0q-0.1 -2.8 0.2 -4.7M487.1 477.0q-0.1 -1.8 0.9 -3.0M488.0 477.0q0.0 -1.3 -0.7 -2.2M488.0 477.0q0.8 -3.1 0.3 -5.1M489.4 477.0q0.1 -1.7 -0.3 -2.9M489.4 477.0q-0.2 -1.4 1.8 -2.3M490.7 477.0q0.1 -2.9 -0.8 -4.8M490.7 477.0q0.5 -3.1 -0.3 -5.2M492.1 477.0q0.3 -1.5 -0.7 -2.5M492.1 477.0q0.1 -2.8 -1.0 -4.7M492.1 477.0q0.3 -2.0 1.7 -3.3M493.3 477.0q0.5 -1.7 -0.2 -2.9M493.3 477.0q0.3 -2.3 1.4 -3.8M493.3 477.0q-0.1 -1.5 -0.8 -2.5M493.3 477.0q-0.7 -1.7 -0.8 -2.9M494.4 477.0q-1.2 -1.6 -1.6 -2.6M494.4 477.0q-0.6 -2.9 0.6 -4.9M494.4 477.0q0.1 -1.8 1.8 -3.1M495.8 477.0q0.2 -1.3 1.1 -2.1M495.8 477.0q0.6 -0.9 0.4 -1.5M495.8 477.0q1.1 -1.7 1.6 -2.8M497.3 477.0q0.1 -1.6 -1.6 -2.7M497.3 477.0q-1.1 -2.1 -1.4 -3.5M497.3 477.0q-0.2 -1.3 -0.7 -2.2M498.0 477.0q-0.5 -1.3 -1.8 -2.2M498.0 477.0q-0.3 -1.9 -0.0 -3.2M499.1 477.0q0.4 -2.7 1.6 -4.5M499.1 477.0q0.4 -2.8 -0.9 -4.7M499.1 477.0q-0.7 -0.9 -1.3 -1.5M499.1 477.0q0.7 -1.8 0.6 -3.0M500.1 477.0q0.4 -2.1 -0.8 -3.4M500.1 477.0q-0.7 -1.8 -0.8 -3.0M500.1 477.0q0.3 -1.5 0.9 -2.6M500.1 477.0q-0.7 -2.5 -0.5 -4.2M501.1 477.0q-0.8 -2.0 -0.4 -3.4M501.1 477.0q0.8 -1.0 1.2 -1.6M501.8 477.0q0.4 -1.3 -1.4 -2.1M501.8 477.0q0.4 -2.0 -0.0 -3.4M503.2 477.0q0.2 -1.3 1.6 -2.2M503.2 477.0q-0.8 -1.6 0.1 -2.6M503.2 477.0q0.1 -1.8 -0.4 -3.0M504.1 477.0q0.6 -1.9 1.3 -3.1M504.1 477.0q-0.1 -1.5 1.5 -2.5M504.1 477.0q0.2 -1.8 -0.2 -3.1M504.1 477.0q-0.2 -2.0 0.0 -3.3M505.2 477.0q-0.0 -2.2 0.1 -3.6M505.2 477.0q0.8 -1.7 0.3 -2.9M506.1 477.0q-0.0 -1.8 0.9 -3.1M506.1 477.0q0.5 -1.8 -0.4 -3.1M506.1 477.0q-0.9 -1.4 -1.4 -2.4M507.5 477.0q0.8 -2.8 0.0 -4.7M507.5 477.0q-0.2 -1.3 0.8 -2.2M508.9 477.0q-0.1 -1.6 1.3 -2.7M508.9 477.0q-0.9 -1.2 -0.9 -2.0M508.9 477.0q-0.3 -2.0 1.4 -3.4M510.0 477.0q-0.2 -1.9 1.7 -3.1M510.0 477.0q-0.6 -3.0 -1.2 -5.0M511.4 477.0q0.1 -2.8 -0.3 -4.7M511.4 477.0q0.8 -0.9 0.4 -1.5M512.2 477.0q0.5 -1.1 -0.7 -1.9M512.2 477.0q0.1 -2.1 0.6 -3.6M512.2 477.0q0.8 -1.2 0.7 -2.0M512.2 477.0q0.4 -2.1 0.4 -3.5M513.0 477.0q-0.6 -1.1 -0.1 -1.8M513.0 477.0q-0.1 -1.4 0.4 -2.4M513.9 477.0q0.8 -1.8 0.8 -2.9M513.9 477.0q-0.2 -2.7 -1.3 -4.5M514.9 477.0q-1.0 -2.0 -1.3 -3.3M514.9 477.0q-0.2 -1.0 0.7 -1.6M514.9 477.0q0.2 -2.3 -1.4 -3.9M514.9 477.0q0.1 -3.0 0.6 -5.0M516.3 477.0q0.0 -1.6 0.4 -2.6M516.3 477.0q-0.0 -1.3 -0.6 -2.2M516.3 477.0q0.1 -2.5 -0.7 -4.1M517.6 477.0q0.2 -1.2 -1.3 -2.0M517.6 477.0q-0.9 -1.7 -0.8 -2.8M519.0 477.0q0.2 -1.0 -1.4 -1.6M519.0 477.0q-1.3 -1.4 -1.7 -2.3M519.0 477.0q0.5 -1.6 -0.6 -2.7M519.0 477.0q-0.4 -3.0 0.6 -5.0M519.7 477.0q0.2 -2.1 -0.1 -3.5M519.7 477.0q1.3 -1.3 1.7 -2.2M520.8 477.0q-1.1 -1.7 -1.4 -2.9M520.8 477.0q0.1 -2.2 -0.4 -3.6M521.6 477.0q0.4 -1.6 1.2 -2.7M521.6 477.0q0.2 -1.4 -1.8 -2.3M521.6 477.0q0.7 -1.8 1.5 -3.0M521.6 477.0q-0.3 -3.1 1.0 -5.1M522.7 477.0q1.1 -1.9 1.6 -3.2M522.7 477.0q0.0 -1.2 -0.3 -2.1M524.2 477.0q-0.6 -1.2 0.2 -2.1M524.2 477.0q-0.4 -1.2 -1.5 -1.9M525.1 477.0q0.7 -1.7 -0.1 -2.8M525.1 477.0q-0.0 -2.3 0.2 -3.9M526.5 477.0q0.4 -1.9 -1.2 -3.2M526.5 477.0q0.9 -2.2 0.4 -3.7M527.8 477.0q0.2 -2.0 -1.0 -3.3M527.8 477.0q-0.3 -1.0 0.8 -1.6M528.9 477.0q0.5 -2.0 -0.7 -3.3M528.9 477.0q-0.4 -2.4 -0.4 -4.1M529.8 477.0q-0.2 -1.4 -0.6 -2.4M529.8 477.0q0.6 -1.7 1.6 -2.9M529.8 477.0q-0.4 -2.2 -0.4 -3.6M529.8 477.0q-1.0 -2.6 -1.0 -4.4M531.1 477.0q-0.8 -1.9 -0.6 -3.1M531.1 477.0q-0.4 -1.3 -1.6 -2.1M531.1 477.0q0.6 -2.3 1.1 -3.8M532.4 477.0q0.5 -1.8 1.6 -3.0M532.4 477.0q-0.7 -1.5 -1.8 -2.6M533.8 477.0q0.3 -2.5 1.7 -4.2M533.8 477.0q-0.1 -2.3 1.2 -3.9M535.2 477.0q0.0 -1.8 -1.4 -3.0M535.2 477.0q-0.2 -1.9 -1.0 -3.1M536.5 477.0q-0.4 -2.4 -0.4 -4.1M536.5 477.0q-0.6 -2.5 -0.4 -4.2M536.5 477.0q0.3 -1.7 -0.7 -2.8" fill="none" stroke="#5a5a5a" stroke-width="0.28"/>
<path d="M462.9 474.1l-1.3 0.6M463.4 474.2l0.2 1.0M464.5 476.4l1.3 0.6M465.5 476.5l0.7 -0.2M466.7 472.9l1.3 -1.0M467.9 474.9l0.8 -0.3M468.8 474.9l-1.1 -0.4M469.9 476.2l-1.2 0.8M471.0 474.5l-1.2 -0.9M471.8 473.0l0.2 1.0M472.5 475.0l0.1 0.8M473.1 473.3l-0.1 -1.1M474.0 475.1l0.5 1.0M474.9 473.9l-0.3 0.7M475.5 473.8l-1.0 0.2M476.2 475.2l-1.0 -0.4M477.2 474.6l-0.3 0.2M478.5 475.2l0.3 -0.0M479.9 475.3l0.6 -0.6M480.6 473.8l0.2 -0.6M481.2 473.4l-0.4 0.5M482.1 474.2l0.2 1.1M483.4 474.8l-0.0 -0.6M484.6 476.1l-0.6 0.8M485.1 473.9l0.2 0.1M485.9 475.9l1.4 0.6M487.1 476.1l0.9 -0.7M487.8 474.5l0.3 -0.9M489.0 474.3l1.2 1.0M490.1 475.2l1.4 0.5M490.9 473.3l0.7 -0.6M491.6 476.4l0.1 -0.6M492.4 475.6l-1.1 -0.0M493.1 475.4l-0.7 0.0M494.4 475.9l1.1 0.9M495.4 474.5l0.7 0.1M496.5 473.1l0.8 -0.6M497.1 473.0l-0.4 0.7M497.8 474.8l-0.4 0.6M499.1 474.6l0.2 -0.4M499.8 473.0l-1.2 1.1M500.9 476.2l1.2 -1.0M501.9 476.1l1.5 -0.5M503.2 476.3l0.5 -1.0M503.8 474.4l1.4 0.4M505.0 473.6l0.1 -1.0M506.0 475.8l0.1 -0.3M507.0 475.8l0.6 -0.2M507.9 476.2l-0.0 0.1M509.3 474.4l-1.1 -0.5M510.1 473.9l1.3 1.1M511.4 473.1l1.1 1.0M511.9 474.7l0.3 0.4M513.0 474.2l1.3 -1.0M514.0 472.9l-1.4 -0.9M515.2 473.0l-1.4 -1.1M516.5 474.0l0.1 0.2M517.7 473.5l-1.5 -1.0M518.9 472.9l1.0 -0.2M519.7 475.2l-1.5 0.6M520.4 474.3l0.1 -0.4M521.5 474.8l-0.8 0.9M522.2 475.9l-0.7 -0.1M523.4 475.3l-0.8 0.4M524.1 474.6l-0.7 0.9M524.8 475.6l-0.6 -0.4M525.9 474.0l0.9 0.1M526.5 473.7l-0.8 -0.7M527.4 472.8l-0.4 -0.3M528.7 472.8l-0.3 -0.9M529.9 473.6l-0.5 0.7M530.8 475.4l0.3 0.6M531.7 473.5l-1.5 -0.0M532.5 476.3l1.2 -0.9M533.2 473.3l1.4 1.0M534.0 473.1l-1.1 0.5M535.4 475.8l-1.1 0.4M536.7 473.8l1.3 -0.1M537.5 476.1l-0.7 1.1" fill="none" stroke="#666" stroke-width="0.32"/>
<line x1="464.40" y1="477.00" x2="536.20" y2="477.00" stroke="#444" stroke-width="0.6"/>
<line x1="464.40" y1="478.80" x2="536.20" y2="478.80" stroke="#666" stroke-width="0.6"/>
<line x1="464.40" y1="482.20" x2="536.20" y2="482.20" stroke="#666" stroke-width="0.6"/>
<path d="M462.9 492.2q-0.8 -1.8 -1.6 -3.0M462.9 492.2q-0.2 -1.6 -0.8 -2.6M464.3 492.2q-0.9 -1.9 -0.9 -3.1M464.3 492.2q-0.8 -2.5 -1.5 -4.1M464.3 492.2q-0.5 -1.9 0.0 -3.1M465.2 492.2q1.1 -1.4 1.1 -2.3M465.2 492.2q0.5 -1.5 1.8 -2.4M465.2 492.2q1.2 -1.3 1.6 -2.1M465.2 492.2q-0.8 -0.9 -0.4 -1.5M466.0 492.2q-0.3 -2.0 1.7 -3.3M466.0 492.2q-0.6 -2.0 0.4 -3.4M466.8 492.2q0.2 -1.2 1.7 -2.0M466.8 492.2q-0.2 -2.0 -0.5 -3.3M466.8 492.2q-0.9 -2.4 -1.2 -4.0M467.9 492.2q-0.3 -1.4 0.3 -2.3M467.9 492.2q0.4 -3.0 -1.0 -5.0M467.9 492.2q-0.4 -2.0 -1.2 -3.3M467.9 492.2q1.0 -3.1 1.0 -5.2M468.9 492.2q-0.0 -2.3 0.7 -3.9M468.9 492.2q-0.0 -1.7 0.7 -2.8M468.9 492.2q0.7 -2.3 0.9 -3.8M468.9 492.2q-0.5 -1.7 -1.8 -2.9M469.8 492.2q-0.7 -2.0 -0.1 -3.3M469.8 492.2q-1.0 -2.2 -1.6 -3.6M469.8 492.2q-0.7 -0.9 -0.2 -1.5M469.8 492.2q-0.1 -2.7 0.3 -4.6M470.5 492.2q-0.7 -2.1 -1.4 -3.4M470.5 492.2q-0.0 -1.3 -0.0 -2.2M471.5 492.2q0.7 -2.2 1.5 -3.6M471.5 492.2q1.1 -2.5 1.1 -4.2M471.5 492.2q0.1 -2.1 -0.9 -3.5M471.5 492.2q-0.2 -1.7 1.1 -2.9M472.8 492.2q-0.3 -2.6 1.5 -4.3M472.8 492.2q0.2 -2.2 -0.1 -3.6M472.8 492.2q0.7 -2.5 1.6 -4.2M473.6 492.2q1.1 -1.5 1.7 -2.5M473.6 492.2q0.6 -1.8 0.4 -3.0M473.6 492.2q-0.5 -1.2 0.4 -2.0M473.6 492.2q-0.2 -2.6 -0.2 -4.3M474.6 492.2q0.1 -2.3 0.5 -3.8M474.6 492.2q0.1 -1.9 -1.7 -3.2M475.7 492.2q0.6 -1.2 1.0 -1.9M475.7 492.2q0.3 -2.2 -0.1 -3.7M476.4 492.2q0.5 -2.5 -0.6 -4.2M476.4 492.2q0.2 -3.0 0.1 -4.9M476.4 492.2q0.0 -1.8 1.0 -3.0M477.3 492.2q0.1 -3.1 -1.7 -5.2M477.3 492.2q0.3 -2.2 0.9 -3.7M477.3 492.2q-0.3 -1.2 -0.5 -2.0M477.3 492.2q-0.7 -2.0 -1.6 -3.3M478.4 492.2q-0.5 -2.2 -0.3 -3.7M478.4 492.2q-0.5 -2.1 -1.4 -3.5M478.4 492.2q0.3 -1.8 0.2 -2.9M478.4 492.2q-0.0 -3.0 0.3 -5.0M479.2 492.2q-0.4 -1.6 0.4 -2.6M479.2 492.2q0.8 -2.1 0.3 -3.6M480.1 492.2q-0.2 -1.3 -0.2 -2.1M480.1 492.2q-0.7 -1.4 -1.1 -2.3M480.1 492.2q-0.8 -2.1 -1.5 -3.4M480.1 492.2q1.2 -2.5 1.3 -4.2M481.2 492.2q0.3 -1.2 -0.9 -1.9M481.2 492.2q-0.4 -2.0 0.8 -3.3M481.2 492.2q-0.3 -1.3 -0.4 -2.2M481.2 492.2q-0.7 -1.8 -0.1 -3.1M482.6 492.2q1.1 -1.5 1.3 -2.5M482.6 492.2q-0.7 -2.4 -0.7 -4.0M482.6 492.2q0.5 -2.0 0.3 -3.3M482.6 492.2q0.2 -2.9 -0.9 -4.8M483.9 492.2q-0.1 -1.1 -0.2 -1.9M483.9 492.2q0.1 -1.3 -1.7 -2.1M483.9 492.2q-0.1 -2.4 -0.2 -4.0M485.3 492.2q1.2 -1.7 1.4 -2.9M485.3 492.2q-0.3 -2.7 1.4 -4.5M485.3 492.2q1.0 -1.6 0.8 -2.7M486.5 492.2q-0.3 -2.1 0.6 -3.5M486.5 492.2q0.5 -1.9 0.3 -3.1M486.5 492.2q-0.7 -2.3 -1.7 -3.8M486.5 492.2q-0.6 -2.7 -1.5 -4.5M487.9 492.2q0.2 -3.1 0.9 -5.2M487.9 492.2q0.9 -2.2 1.2 -3.6M487.9 492.2q0.9 -1.4 1.7 -2.3M488.9 492.2q0.0 -2.3 -0.9 -3.9M488.9 492.2q-0.1 -2.0 1.8 -3.3M488.9 492.2q0.3 -2.7 1.1 -4.5M489.6 492.2q0.5 -1.9 -0.6 -3.1M489.6 492.2q-0.2 -2.7 0.6 -4.5M489.6 492.2q-0.5 -2.7 0.6 -4.6M489.6 492.2q0.8 -1.3 0.1 -2.2M490.8 492.2q-0.8 -1.9 -1.5 -3.1M490.8 492.2q-0.6 -1.8 -0.5 -2.9M490.8 492.2q-0.1 -2.6 -0.5 -4.3M491.5 492.2q-0.7 -2.0 -1.3 -3.3M491.5 492.2q-0.8 -2.0 -0.9 -3.4M491.5 492.2q-0.6 -1.4 0.5 -2.4M492.3 492.2q0.4 -1.5 0.3 -2.5M492.3 492.2q0.0 -1.8 -1.0 -2.9M493.6 492.2q0.7 -2.8 1.2 -4.6M493.6 492.2q-0.2 -0.9 -0.8 -1.5M493.6 492.2q-0.1 -1.3 -1.0 -2.2M494.4 492.2q-0.9 -2.7 -1.2 -4.5M494.4 492.2q0.1 -2.3 -0.1 -3.9M494.4 492.2q-0.0 -1.9 1.3 -3.1M495.4 492.2q-0.2 -1.5 -1.6 -2.5M495.4 492.2q0.2 -0.9 0.2 -1.5M496.2 492.2q0.7 -2.3 0.4 -3.9M496.2 492.2q0.6 -1.3 -0.3 -2.2M497.4 492.2q-0.1 -1.2 -1.3 -2.0M497.4 492.2q-1.1 -1.3 -1.0 -2.2M497.4 492.2q-0.6 -1.7 -0.9 -2.8M497.4 492.2q-0.3 -1.7 -0.5 -2.8M498.2 492.2q-0.0 -1.4 -0.1 -2.4M498.2 492.2q0.2 -1.3 1.1 -2.1M499.5 492.2q-0.5 -2.0 -0.5 -3.3M499.5 492.2q0.5 -1.4 0.1 -2.4M500.9 492.2q-1.0 -1.7 -0.7 -2.9M500.9 492.2q-0.0 -1.9 -0.2 -3.2M501.9 492.2q0.6 -1.8 -0.5 -2.9M501.9 492.2q0.7 -1.0 0.2 -1.6M501.9 492.2q-0.9 -3.1 -1.5 -5.2M501.9 492.2q0.0 -2.1 -0.3 -3.6M502.6 492.2q-0.6 -2.2 0.1 -3.7M502.6 492.2q0.6 -2.9 0.8 -4.8M502.6 492.2q0.2 -2.1 0.3 -3.4M503.4 492.2q-0.1 -1.5 0.9 -2.6M503.4 492.2q0.7 -2.2 0.5 -3.6M503.4 492.2q-0.7 -2.2 0.4 -3.6M503.4 492.2q-0.3 -2.6 0.4 -4.3M504.3 492.2q0.8 -2.1 0.1 -3.5M504.3 492.2q0.7 -1.6 1.1 -2.6M505.6 492.2q-0.3 -1.3 1.1 -2.2M505.6 492.2q0.9 -1.6 0.9 -2.6M506.8 492.2q-0.1 -1.9 -1.1 -3.2M506.8 492.2q-0.4 -1.7 -1.6 -2.8M506.8 492.2q0.1 -1.4 -0.9 -2.3M507.7 492.2q-0.6 -2.5 -0.9 -4.1M507.7 492.2q-0.8 -2.1 -1.5 -3.5M507.7 492.2q0.3 -2.5 -0.8 -4.2M509.0 492.2q0.9 -1.7 0.7 -2.9M509.0 492.2q-0.5 -1.8 -1.6 -3.0M509.0 492.2q-0.9 -1.4 -0.9 -2.3M509.0 492.2q-0.4 -1.3 -0.5 -2.2M509.8 492.2q-0.3 -1.7 -1.2 -2.8M509.8 492.2q-0.3 -1.5 0.2 -2.5M509.8 492.2q-0.4 -1.1 -1.6 -1.8M509.8 492.2q-0.4 -3.0 -1.1 -5.1M511.1 492.2q0.6 -1.9 0.9 -3.2M511.1 492.2q-0.9 -1.3 -1.3 -2.2M511.1 492.2q-0.0 -1.3 -0.9 -2.1M511.1 492.2q0.1 -1.0 -1.6 -1.7M512.3 492.2q-0.7 -2.3 -0.8 -3.9M512.3 492.2q-0.4 -1.4 -1.5 -2.4M513.1 492.2q-0.3 -2.7 -1.3 -4.5M513.1 492.2q-0.8 -2.2 -1.8 -3.6M513.1 492.2q-0.6 -3.1 -1.1 -5.2M513.1 492.2q0.0 -0.9 1.3 -1.4M514.0 492.2q0.9 -1.5 1.1 -2.4M514.0 492.2q-0.3 -3.0 1.5 -5.0M514.0 492.2q0.5 -1.7 -0.9 -2.9M514.0 492.2q-0.0 -1.0 1.5 -1.6M515.0 492.2q-0.5 -2.7 0.2 -4.4M515.0 492.2q0.0 -1.4 -0.5 -2.3M515.0 492.2q0.1 -2.1 1.4 -3.5M515.9 492.2q-0.5 -1.7 -1.3 -2.9M515.9 492.2q0.5 -2.3 1.0 -3.8M515.9 492.2q-0.5 -1.4 -0.8 -2.4M517.1 492.2q1.2 -1.2 1.3 -2.0M517.1 492.2q0.2 -1.7 0.0 -2.8M518.2 492.2q0.5 -1.1 0.4 -1.8M518.2 492.2q-0.8 -1.0 -1.8 -1.7M518.2 492.2q-0.5 -1.2 0.5 -2.0M519.5 492.2q0.8 -2.7 0.8 -4.6M519.5 492.2q-0.2 -3.0 -0.8 -5.0M520.4 492.2q0.2 -2.6 0.1 -4.4M520.4 492.2q0.0 -2.1 1.7 -3.4M520.4 492.2q0.1 -2.4 0.7 -4.0M520.4 492.2q0.4 -2.0 0.8 -3.3M521.6 492.2q-0.1 -1.3 1.6 -2.2M521.6 492.2q0.3 -2.5 0.7 -4.2M521.6 492.2q-0.2 -2.8 1.6 -4.7M521.6 492.2q-1.0 -2.4 -1.0 -4.1M522.5 492.2q-0.2 -1.5 -1.3 -2.5M522.5 492.2q0.2 -2.8 1.5 -4.6M523.7 492.2q-0.3 -2.0 0.5 -3.4M523.7 492.2q0.2 -0.9 1.7 -1.5M523.7 492.2q-0.5 -1.9 -0.3 -3.1M524.7 492.2q-0.7 -1.5 -1.2 -2.5M524.7 492.2q0.4 -2.2 0.4 -3.7M524.7 492.2q-0.3 -2.2 -0.8 -3.6M525.8 492.2q-0.2 -1.4 -0.1 -2.3M525.8 492.2q-1.1 -2.1 -1.5 -3.5M525.8 492.2q-0.2 -1.8 -1.5 -3.0M526.7 492.2q0.5 -2.3 0.4 -3.8M526.7 492.2q-0.4 -2.1 -0.7 -3.4M528.1 492.2q-0.6 -1.2 -0.1 -2.0M528.1 492.2q0.4 -1.0 0.8 -1.7M528.1 492.2q0.1 -1.5 -0.2 -2.5M528.1 492.2q-0.7 -1.3 -0.6 -2.2M529.4 492.2q-0.3 -1.6 -0.6 -2.6M529.4 492.2q1.0 -3.0 1.2 -4.9M530.3 492.2q-0.1 -1.8 -1.0 -3.0M530.3 492.2q0.7 -1.3 1.6 -2.2M530.3 492.2q0.6 -1.3 -0.3 -2.1M531.7 492.2q0.1 -1.2 0.1 -1.9M531.7 492.2q-0.2 -1.7 0.2 -2.9M531.7 492.2q-0.7 -1.1 -0.9 -1.8M531.7 492.2q0.0 -1.7 1.6 -2.9M532.5 492.2q-0.4 -1.4 -0.9 -2.3M532.5 492.2q-0.4 -2.8 -0.5 -4.7M532.5 492.2q-0.5 -1.1 0.4 -1.8M532.5 492.2q0.8 -1.8 0.1 -3.0M533.9 492.2q1.2 -1.4 1.7 -2.3M533.9 492.2q-0.1 -2.7 0.5 -4.5M533.9 492.2q0.6 -1.9 1.1 -3.1M535.2 492.2q-0.6 -2.5 -0.9 -4.2M535.2 492.2q0.1 -1.4 1.5 -2.3M535.2 492.2q1.0 -1.9 0.7 -3.2M536.4 492.2q0.3 -1.4 1.0 -2.3M536.4 492.2q-0.2 -1.4 -0.5 -2.3M536.4 492.2q1.0 -1.6 1.6 -2.6M536.4 492.2q-0.3 -1.8 -1.7 -3.0M537.7 492.2q-1.1 -2.2 -1.4 -3.6M537.7 492.2q-0.4 -1.9 0.2 -3.2M537.7 492.2q-0.9 -2.1 -0.7 -3.5" fill="none" stroke="#5a5a5a" stroke-width="0.28"/>
<path d="M462.9 490.4l1.4 -0.3M464.2 488.5l0.2 -0.9M465.5 491.4l0.2 -1.0M466.0 490.2l-1.0 1.2M467.1 488.4l1.4 0.6M468.1 489.9l0.8 0.4M468.8 489.7l-0.3 0.0M469.9 489.2l0.2 0.7M471.2 491.4l-1.1 -1.1M471.8 488.2l-0.6 -0.1M472.7 489.6l-0.7 0.7M473.5 488.6l0.9 -1.2M474.5 491.4l1.2 -1.0M475.3 488.9l0.3 0.4M476.1 489.8l-0.9 -0.1M476.9 489.2l-1.2 -0.9M477.5 489.7l0.2 -1.2M478.9 488.6l-0.4 -0.8M480.2 488.1l-1.0 0.6M481.4 488.2l-0.9 -0.9M482.1 490.8l1.2 1.0M483.0 491.2l-0.4 -0.6M484.1 489.0l0.8 -0.2M485.0 490.0l-0.4 -0.1M486.1 489.1l-0.5 0.2M486.7 491.5l-0.3 -0.3M487.3 491.4l-0.2 1.1M488.5 491.6l-0.5 -0.3M489.3 491.2l0.3 0.8M490.1 491.0l-1.2 -1.2M491.3 490.8l0.7 0.7M491.9 491.0l-0.6 0.6M493.1 490.6l-0.1 -0.3M494.0 488.8l-0.7 0.7M495.3 489.5l1.4 1.1M496.0 488.0l-0.9 0.7M496.6 490.6l-0.2 0.8M497.7 490.9l1.2 0.9M498.7 491.5l-0.6 -0.5M499.5 488.2l0.3 0.8M500.1 490.8l0.7 -0.4M500.8 491.5l-1.3 -0.2M501.8 490.2l0.2 -0.5M502.3 489.2l-0.5 -0.0M503.1 490.7l-1.3 -0.5M503.9 491.3l-1.4 -0.0M504.4 488.4l-0.4 -0.1M505.4 491.6l-1.2 0.7M506.4 489.9l-0.5 0.6M507.4 488.8l1.0 0.9M508.5 489.2l-0.1 0.1M509.5 489.8l1.0 0.9M510.1 488.9l0.3 0.2M511.4 491.5l-0.1 -0.3M512.7 491.1l0.2 -0.9M513.9 489.9l0.7 -0.5M515.2 491.7l-0.8 0.6M516.5 488.8l-0.7 -1.0M517.7 489.0l-1.3 1.0M518.6 491.6l-0.1 -0.4M519.2 488.4l1.3 -0.9M520.1 490.7l0.5 -0.9M520.9 490.2l-0.1 -0.2M522.0 488.2l1.3 1.0M523.2 490.9l-0.8 -0.1M524.3 489.5l-0.5 1.2M525.1 491.6l-1.2 -0.7M526.2 488.6l-1.4 -0.6M526.9 488.8l1.2 -0.6M527.5 488.1l1.4 0.5M528.5 488.9l0.8 0.0M529.2 489.8l0.5 -0.4M530.3 491.2l1.4 -0.7M531.0 488.1l1.4 1.0M532.2 488.6l1.0 0.2M532.8 489.0l1.0 0.8M533.3 491.5l0.7 -0.0M534.6 488.0l-0.2 0.4M535.7 489.1l-0.4 0.3M536.3 488.4l0.7 0.7M537.2 490.9l-0.1 0.4" fill="none" stroke="#666" stroke-width="0.32"/>
<line x1="464.40" y1="492.20" x2="536.20" y2="492.20" stroke="#444" stroke-width="0.6"/>
<line x1="464.40" y1="494.00" x2="536.20" y2="494.00" stroke="#666" stroke-width="0.6"/>
<line x1="464.40" y1="497.40" x2="536.20" y2="497.40" stroke="#666" stroke-width="0.6"/>
<path d="M462.9 507.6q1.0 -1.5 1.5 -2.5M462.9 507.6q0.5 -1.5 1.2 -2.4M463.7 507.6q0.5 -1.7 0.4 -2.9M463.7 507.6q-0.2 -2.4 -1.5 -4.0M464.7 507.6q0.7 -2.0 1.5 -3.3M464.7 507.6q1.0 -2.4 1.7 -3.9M466.2 507.6q0.3 -1.9 0.4 -3.1M466.2 507.6q-0.8 -2.0 -0.5 -3.3M466.2 507.6q0.9 -2.4 0.4 -4.1M467.4 507.6q0.6 -2.7 -0.1 -4.5M467.4 507.6q0.7 -2.0 0.2 -3.3M468.1 507.6q0.1 -2.0 -1.6 -3.3M468.1 507.6q-0.7 -1.6 -0.4 -2.7M468.1 507.6q-0.9 -2.3 -0.5 -3.9M468.1 507.6q-0.3 -1.7 -1.1 -2.8M469.0 507.6q0.1 -2.2 1.4 -3.7M469.0 507.6q0.4 -1.5 0.4 -2.5M470.0 507.6q0.9 -1.9 1.6 -3.1M470.0 507.6q-0.7 -1.9 -1.3 -3.2M470.0 507.6q-0.0 -1.9 -1.3 -3.2M471.3 507.6q-0.3 -2.7 1.2 -4.5M471.3 507.6q0.4 -2.0 -1.3 -3.4M471.3 507.6q-0.6 -2.2 -1.6 -3.6M471.3 507.6q-0.2 -1.9 0.6 -3.2M472.2 507.6q0.1 -2.1 -0.6 -3.5M472.2 507.6q1.1 -2.9 1.4 -4.9M472.2 507.6q-0.3 -1.7 -1.5 -2.8M473.0 507.6q-0.1 -1.5 -1.3 -2.5M473.0 507.6q-0.2 -2.2 1.2 -3.7M474.4 507.6q-0.1 -2.2 -0.0 -3.6M474.4 507.6q0.7 -1.2 0.1 -2.0M474.4 507.6q-0.7 -2.5 -0.6 -4.2M474.4 507.6q0.4 -1.4 1.0 -2.3M475.4 507.6q-0.1 -2.8 0.7 -4.7M475.4 507.6q-0.6 -1.4 -0.5 -2.3M475.4 507.6q1.0 -1.2 0.9 -2.0M475.4 507.6q0.6 -2.3 -0.1 -3.9M476.6 507.6q-0.9 -2.4 -0.8 -4.0M476.6 507.6q-0.2 -1.2 -1.2 -2.1M476.6 507.6q0.2 -1.4 1.6 -2.3M478.0 507.6q-0.3 -2.0 -1.7 -3.4M478.0 507.6q-0.9 -2.9 -0.9 -4.8M478.0 507.6q-0.6 -1.3 -1.1 -2.1M478.0 507.6q1.1 -2.2 1.5 -3.6M479.1 507.6q-0.8 -2.8 -1.6 -4.6M479.1 507.6q1.0 -1.3 1.3 -2.1M479.9 507.6q-0.5 -1.2 -1.0 -1.9M479.9 507.6q0.4 -1.8 -0.2 -3.0M479.9 507.6q-0.4 -1.7 -0.9 -2.8M481.2 507.6q0.4 -2.2 0.1 -3.7M481.2 507.6q0.8 -2.1 -0.1 -3.5M482.0 507.6q-0.2 -1.6 0.0 -2.7M482.0 507.6q0.3 -2.0 -1.4 -3.3M482.0 507.6q0.7 -2.0 -0.4 -3.3M482.8 507.6q-1.1 -1.4 -1.0 -2.4M482.8 507.6q0.4 -1.4 -0.6 -2.4M482.8 507.6q-0.2 -2.8 -1.4 -4.7M482.8 507.6q-0.9 -1.5 -1.7 -2.4M484.3 507.6q-0.2 -1.5 -0.2 -2.4M484.3 507.6q0.7 -1.5 1.3 -2.6M484.3 507.6q-0.1 -2.8 1.4 -4.6M484.3 507.6q-0.1 -1.5 1.1 -2.5M485.2 507.6q0.7 -2.1 -0.1 -3.4M485.2 507.6q1.0 -1.8 1.0 -2.9M486.2 507.6q-0.1 -2.9 -0.7 -4.8M486.2 507.6q-0.6 -2.2 0.0 -3.6M487.3 507.6q0.2 -1.9 0.9 -3.2M487.3 507.6q0.3 -1.6 1.3 -2.7M488.4 507.6q-0.1 -3.0 0.3 -5.0M488.4 507.6q-0.3 -1.5 0.8 -2.5M489.5 507.6q-1.1 -2.0 -1.4 -3.4M489.5 507.6q-0.5 -1.3 0.2 -2.2M489.5 507.6q0.3 -1.2 0.3 -2.0M489.5 507.6q-0.8 -2.4 -1.7 -4.0M490.3 507.6q-1.0 -2.1 -1.6 -3.5M490.3 507.6q0.6 -1.6 -0.3 -2.7M490.3 507.6q-0.5 -1.6 -1.0 -2.7M490.3 507.6q-1.1 -1.4 -1.2 -2.3M491.4 507.6q0.8 -1.6 1.5 -2.6M491.4 507.6q-0.3 -1.2 0.2 -2.0M492.3 507.6q-0.2 -2.0 -1.0 -3.3M492.3 507.6q-0.3 -1.1 0.3 -1.8M492.3 507.6q0.7 -2.4 0.8 -4.1M492.3 507.6q-0.9 -2.3 -0.9 -3.9M493.6 507.6q-0.5 -2.9 -0.8 -4.9M493.6 507.6q1.1 -2.1 1.2 -3.5M494.8 507.6q-0.5 -1.7 0.4 -2.8M494.8 507.6q-0.0 -2.4 -0.9 -3.9M496.2 507.6q-0.7 -2.0 -1.7 -3.4M496.2 507.6q0.4 -1.4 -0.7 -2.4M496.2 507.6q0.3 -2.8 0.6 -4.6M496.2 507.6q-0.1 -2.3 -0.7 -3.8M497.1 507.6q-0.7 -3.0 -1.7 -5.0M497.1 507.6q0.1 -3.0 -1.2 -5.0M497.9 507.6q-0.3 -2.5 -1.8 -4.2M497.9 507.6q-0.1 -1.1 -1.2 -1.8M499.1 507.6q-0.2 -2.7 0.4 -4.5M499.1 507.6q-0.3 -1.5 0.1 -2.4M499.1 507.6q0.2 -1.4 0.4 -2.3M499.1 507.6q0.2 -2.7 -0.7 -4.5M500.2 507.6q1.3 -2.3 1.6 -3.8M500.2 507.6q-0.1 -2.2 0.4 -3.6M500.2 507.6q0.2 -1.4 -0.7 -2.3M500.2 507.6q0.2 -2.8 1.0 -4.7M501.5 507.6q0.3 -2.0 0.2 -3.3M501.5 507.6q0.5 -2.3 1.3 -3.8M501.5 507.6q0.5 -1.3 1.7 -2.2M501.5 507.6q-0.2 -1.1 0.4 -1.8M502.2 507.6q-0.2 -1.1 -1.1 -1.8M502.2 507.6q0.1 -1.6 -1.5 -2.7M502.9 507.6q0.0 -2.9 -1.5 -4.9M502.9 507.6q-0.5 -3.1 -0.5 -5.1M504.2 507.6q-0.5 -2.2 1.1 -3.7M504.2 507.6q0.5 -2.3 -0.6 -3.8M504.2 507.6q-0.1 -2.3 -0.6 -3.9M504.2 507.6q-0.5 -1.6 -0.9 -2.7M505.3 507.6q-0.5 -1.6 -1.0 -2.7M505.3 507.6q0.1 -2.9 0.4 -4.8M505.3 507.6q0.5 -2.7 -0.9 -4.5M506.5 507.6q0.1 -1.9 0.8 -3.2M506.5 507.6q0.3 -2.5 0.4 -4.2M506.5 507.6q-0.2 -1.9 -0.4 -3.2M507.3 507.6q0.9 -2.0 1.6 -3.4M507.3 507.6q-1.2 -1.4 -1.7 -2.3M507.3 507.6q1.0 -2.8 1.7 -4.6M507.3 507.6q-0.4 -3.0 1.2 -5.0M508.1 507.6q-0.2 -2.5 -0.7 -4.2M508.1 507.6q-0.2 -2.1 0.8 -3.6M508.9 507.6q-0.2 -2.5 -0.1 -4.2M508.9 507.6q0.4 -2.6 1.5 -4.3M509.8 507.6q-0.1 -2.6 -0.8 -4.4M509.8 507.6q-0.8 -1.4 -1.6 -2.3M509.8 507.6q0.0 -2.0 -1.0 -3.3M510.9 507.6q-0.0 -1.8 -0.2 -3.1M510.9 507.6q1.0 -1.5 0.9 -2.6M512.3 507.6q0.1 -1.0 -1.7 -1.6M512.3 507.6q-0.6 -1.9 -0.2 -3.2M513.6 507.6q-0.2 -2.4 0.8 -4.0M513.6 507.6q-0.1 -2.6 1.0 -4.4M513.6 507.6q-0.3 -2.7 1.3 -4.5M513.6 507.6q-0.3 -1.1 0.2 -1.9M515.0 507.6q0.4 -2.1 1.6 -3.5M515.0 507.6q0.1 -2.7 1.7 -4.5M515.0 507.6q-0.1 -2.0 0.7 -3.3M516.1 507.6q-0.5 -2.8 1.0 -4.7M516.1 507.6q0.3 -1.5 1.2 -2.5M516.1 507.6q-0.8 -2.3 -1.7 -3.9M517.2 507.6q-0.2 -2.5 0.1 -4.2M517.2 507.6q-0.4 -2.6 -0.0 -4.3M517.2 507.6q0.4 -1.2 -0.1 -2.1M517.2 507.6q0.3 -1.0 1.5 -1.7M518.6 507.6q0.3 -0.9 1.7 -1.5M518.6 507.6q-0.5 -0.9 -0.0 -1.4M518.6 507.6q-0.9 -2.3 -1.6 -3.8M518.6 507.6q-0.8 -2.7 -0.1 -4.5M519.8 507.6q0.1 -2.2 -1.0 -3.7M519.8 507.6q-0.1 -1.2 -0.0 -2.0M521.0 507.6q0.5 -2.4 -0.1 -4.1M521.0 507.6q1.0 -1.9 1.7 -3.2M521.0 507.6q0.5 -1.9 1.5 -3.1M521.0 507.6q-0.2 -2.3 0.6 -3.9M522.2 507.6q-0.5 -2.0 -0.3 -3.4M522.2 507.6q-1.1 -1.2 -1.8 -2.1M522.2 507.6q-0.2 -1.5 -0.2 -2.4M522.2 507.6q0.8 -2.4 1.0 -4.0M523.5 507.6q-0.3 -2.1 0.1 -3.4M523.5 507.6q0.0 -1.6 -0.3 -2.7M523.5 507.6q0.3 -2.2 -0.8 -3.7M524.7 507.6q0.3 -3.0 -1.5 -5.0M524.7 507.6q-1.0 -0.9 -0.8 -1.6M524.7 507.6q0.2 -2.9 1.6 -4.8M524.7 507.6q0.9 -1.7 1.2 -2.8M525.5 507.6q-0.6 -2.9 -1.0 -4.9M525.5 507.6q-0.4 -1.8 0.6 -3.1M525.5 507.6q0.7 -1.7 1.7 -2.8M525.5 507.6q0.6 -1.7 -0.3 -2.9M526.8 507.6q0.4 -2.3 0.1 -3.8M526.8 507.6q-0.5 -1.3 0.6 -2.2M526.8 507.6q0.3 -3.0 -1.0 -5.0M526.8 507.6q0.5 -2.2 1.3 -3.7M527.7 507.6q-0.0 -1.7 -0.5 -2.8M527.7 507.6q-0.5 -1.5 -1.1 -2.5M527.7 507.6q0.1 -2.4 0.9 -4.0M529.1 507.6q0.4 -1.9 -0.8 -3.2M529.1 507.6q0.4 -1.3 -0.9 -2.2M529.1 507.6q-1.1 -2.5 -1.5 -4.2M529.1 507.6q-0.4 -1.8 -0.4 -3.0M530.1 507.6q0.0 -1.1 -1.5 -1.8M530.1 507.6q0.3 -1.3 -1.2 -2.2M531.0 507.6q1.1 -2.6 1.5 -4.3M531.0 507.6q-0.8 -1.4 -0.1 -2.3M532.1 507.6q0.5 -2.4 1.7 -4.0M532.1 507.6q0.5 -2.7 -0.1 -4.5M532.1 507.6q0.2 -2.4 1.6 -4.0M533.4 507.6q-0.4 -1.4 -0.2 -2.3M533.4 507.6q-0.6 -1.8 -0.5 -3.0M534.5 507.6q0.6 -2.5 1.2 -4.1M534.5 507.6q0.8 -1.9 0.8 -3.1M534.5 507.6q-0.7 -1.7 -1.2 -2.8M534.5 507.6q0.0 -1.5 0.7 -2.6M535.8 507.6q0.0 -1.7 -0.1 -2.9M535.8 507.6q0.2 -2.5 -0.7 -4.2M536.9 507.6q0.0 -1.8 -1.7 -3.0M536.9 507.6q0.2 -1.9 0.6 -3.2M536.9 507.6q0.2 -2.0 -1.5 -3.4M536.9 507.6q0.4 -3.0 0.2 -5.0" fill="none" stroke="#5a5a5a" stroke-width="0.28"/>
<path d="M462.9 505.3l-1.0 0.3M463.8 504.6l-1.4 -0.5M464.4 504.3l-0.1 -0.5M465.6 505.2l-0.6 -0.3M466.1 506.9l-1.4 1.1M467.4 505.1l1.3 0.1M468.5 506.7l-0.2 0.3M469.4 504.7l-0.5 0.4M470.1 505.3l-0.2 0.1M470.6 506.2l0.6 -0.8M471.5 503.4l0.3 0.6M472.7 503.5l-0.3 -0.3M473.9 507.0l-0.1 -0.5M474.9 504.4l1.1 0.0M476.0 506.8l0.5 1.0M477.1 505.3l0.0 -0.2M477.8 506.4l0.9 0.0M478.3 504.8l1.0 0.4M479.0 503.6l-1.0 0.0M479.9 506.5l-0.7 -0.8M480.5 506.9l0.4 0.4M481.2 503.6l-0.2 -0.1M482.6 504.7l-0.1 0.6M483.7 506.0l-1.3 0.6M484.9 504.9l-1.1 0.6M485.6 504.1l0.4 0.3M486.1 505.7l0.7 -0.9M486.7 505.6l1.1 0.3M487.4 506.8l1.0 0.8M488.5 506.3l0.8 -1.2M489.2 505.9l1.4 -1.1M489.8 504.4l0.8 -0.6M490.4 503.9l1.4 1.0M491.4 506.8l0.7 0.4M492.6 504.3l0.0 1.1M493.6 505.4l0.4 0.7M494.6 503.6l-0.7 1.0M495.9 505.8l-1.4 0.2M496.9 503.5l0.2 0.5M498.1 506.5l0.5 -0.1M498.8 506.1l-0.4 0.6M499.8 505.9l-1.3 0.7M501.0 504.0l0.9 -1.0M501.7 505.4l-0.6 0.8M502.4 507.0l-0.1 -1.1M503.0 504.9l0.3 0.1M503.5 505.0l0.1 -0.5M504.2 506.5l-0.1 -0.3M505.2 504.6l-0.7 0.3M506.0 504.3l-0.9 0.2M507.1 504.1l0.1 1.0M508.5 504.2l-0.4 -0.6M509.6 506.6l-1.0 -1.0M510.7 505.7l1.3 0.7M511.7 505.8l-0.5 -1.1M512.3 503.9l-0.6 -1.2M513.6 505.7l0.8 -0.1M515.0 506.8l-0.1 0.4M515.5 503.7l-0.5 0.4M516.1 506.8l-1.2 0.7M517.4 503.7l0.1 -1.0M518.6 505.2l0.8 0.3M519.7 506.5l-1.1 -1.0M520.5 506.0l1.4 -1.1M521.7 506.7l-1.2 1.0M522.4 504.9l0.3 -0.2M523.2 506.6l0.6 -0.3M524.3 504.1l-1.3 -0.2M525.1 503.7l0.4 -0.7M526.0 507.0l0.0 -1.0M526.6 505.2l0.1 -0.7M527.7 505.9l0.6 -1.1M528.9 505.4l-1.0 -0.5M530.0 506.7l1.2 -0.7M530.9 506.8l-0.1 1.1M531.5 506.4l0.1 0.3M532.1 506.3l0.3 -0.6M532.7 504.5l1.1 0.7M533.9 506.3l-0.6 0.2M535.0 504.8l0.2 -0.6M535.7 506.8l-1.3 0.2M536.3 503.9l1.4 -0.8M537.7 504.8l-1.5 -0.3" fill="none" stroke="#666" stroke-width="0.32"/>
<line x1="464.40" y1="507.60" x2="536.20" y2="507.60" stroke="#444" stroke-width="0.6"/>
<line x1="464.40" y1="509.40" x2="536.20" y2="509.40" stroke="#666" stroke-width="0.6"/>
<line x1="464.40" y1="512.80" x2="536.20" y2="512.80" stroke="#666" stroke-width="0.6"/>
<path d="M462.9 523.0q-0.8 -2.7 -0.1 -4.5M462.9 523.0q0.4 -2.4 -1.0 -4.0M462.9 523.0q0.5 -2.9 1.8 -4.8M464.3 523.0q-1.0 -2.7 -1.3 -4.5M464.3 523.0q-0.4 -2.7 -0.3 -4.6M464.3 523.0q0.5 -1.3 -0.0 -2.1M465.5 523.0q-0.8 -1.8 -0.1 -3.0M465.5 523.0q1.0 -1.5 1.1 -2.5M466.6 523.0q-1.0 -3.0 -0.9 -5.0M466.6 523.0q0.4 -2.3 0.8 -3.8M466.6 523.0q0.1 -1.2 -1.2 -2.0M467.7 523.0q0.3 -2.1 1.6 -3.5M467.7 523.0q0.3 -1.3 0.4 -2.1M467.7 523.0q-0.2 -1.7 0.5 -2.8M467.7 523.0q0.3 -2.5 -0.9 -4.2M468.8 523.0q0.2 -3.1 -1.0 -5.2M468.8 523.0q0.7 -3.0 0.3 -5.0M469.6 523.0q-0.2 -1.6 1.5 -2.7M469.6 523.0q-1.2 -3.1 -1.3 -5.1M470.7 523.0q1.1 -1.8 1.0 -3.0M470.7 523.0q-0.6 -1.0 -0.7 -1.6M470.7 523.0q0.5 -2.2 -0.7 -3.7M470.7 523.0q-0.2 -1.2 0.3 -2.0M471.5 523.0q-0.3 -1.9 1.1 -3.2M471.5 523.0q-0.1 -2.2 -0.5 -3.6M472.8 523.0q0.7 -1.8 1.0 -3.1M472.8 523.0q0.5 -1.9 1.5 -3.1M473.9 523.0q0.8 -3.0 0.2 -5.0M473.9 523.0q0.3 -1.3 0.2 -2.1M473.9 523.0q-0.7 -1.3 -1.5 -2.2M473.9 523.0q-1.0 -2.5 -1.6 -4.2M475.4 523.0q-1.2 -1.5 -1.8 -2.5M475.4 523.0q-0.1 -1.9 1.5 -3.2M475.4 523.0q0.1 -2.4 -1.1 -4.0M475.4 523.0q-0.1 -2.8 1.6 -4.7M476.4 523.0q0.0 -3.1 -1.7 -5.2M476.4 523.0q-0.2 -2.4 1.4 -4.1M477.4 523.0q0.6 -2.1 1.0 -3.5M477.4 523.0q-0.8 -1.0 -0.3 -1.7M477.4 523.0q-0.3 -2.2 -0.8 -3.7M477.4 523.0q0.2 -1.6 1.3 -2.6M478.7 523.0q-0.4 -1.1 1.0 -1.9M478.7 523.0q0.5 -1.3 -0.3 -2.1M478.7 523.0q0.1 -2.0 -0.1 -3.4M478.7 523.0q-0.5 -1.7 -0.2 -2.8M479.9 523.0q-1.3 -1.7 -1.7 -2.8M479.9 523.0q-0.9 -1.9 -1.7 -3.1M480.8 523.0q0.8 -2.7 0.7 -4.4M480.8 523.0q-0.4 -1.5 -1.8 -2.4M481.9 523.0q-1.3 -2.8 -1.7 -4.7M481.9 523.0q-0.5 -1.8 -0.6 -3.1M483.0 523.0q-0.8 -2.9 -0.3 -4.8M483.0 523.0q-0.5 -2.4 -1.4 -3.9M483.9 523.0q0.6 -1.4 0.8 -2.3M483.9 523.0q-0.3 -1.3 0.5 -2.2M484.7 523.0q1.2 -1.4 1.3 -2.4M484.7 523.0q-1.3 -2.8 -1.7 -4.6M484.7 523.0q0.9 -1.4 0.6 -2.3M484.7 523.0q-0.6 -2.5 0.6 -4.2M486.1 523.0q0.0 -1.3 0.1 -2.1M486.1 523.0q0.2 -1.5 1.2 -2.6M486.1 523.0q0.8 -2.8 1.5 -4.7M487.4 523.0q1.0 -1.7 1.7 -2.8M487.4 523.0q0.9 -2.1 1.7 -3.5M487.4 523.0q0.6 -2.9 -0.3 -4.8M488.6 523.0q0.3 -1.3 -0.6 -2.2M488.6 523.0q0.3 -2.0 0.7 -3.4M488.6 523.0q-0.5 -2.7 0.2 -4.5M488.6 523.0q0.2 -2.8 -1.3 -4.6M490.1 523.0q0.3 -2.2 0.8 -3.6M490.1 523.0q-0.4 -1.9 -0.5 -3.2M490.1 523.0q-0.1 -1.6 1.8 -2.7M491.0 523.0q0.6 -1.2 1.0 -2.1M491.0 523.0q1.0 -1.8 1.6 -3.1M491.8 523.0q-0.0 -2.6 0.9 -4.3M491.8 523.0q-0.5 -1.4 -1.1 -2.3M491.8 523.0q0.3 -1.8 0.7 -2.9M493.0 523.0q0.6 -2.8 0.8 -4.7M493.0 523.0q-0.1 -1.4 -1.6 -2.3M494.4 523.0q-0.3 -1.9 1.4 -3.2M494.4 523.0q0.7 -1.6 1.6 -2.7M495.4 523.0q0.4 -2.1 0.7 -3.4M495.4 523.0q-0.7 -1.5 -0.9 -2.5M496.6 523.0q-0.3 -1.6 1.1 -2.7M496.6 523.0q-0.4 -1.8 0.9 -3.0M496.6 523.0q0.7 -1.6 1.5 -2.6M496.6 523.0q-0.5 -1.2 0.4 -2.0M497.6 523.0q-0.8 -1.4 -0.1 -2.3M497.6 523.0q0.4 -2.2 1.2 -3.7M497.6 523.0q0.2 -3.1 -1.4 -5.2M497.6 523.0q0.4 -2.5 1.0 -4.2M499.0 523.0q-0.6 -1.7 -1.5 -2.9M499.0 523.0q-0.1 -2.3 0.5 -3.9M499.0 523.0q-0.3 -1.4 -1.6 -2.3M499.0 523.0q0.8 -3.0 0.5 -5.0M499.7 523.0q0.5 -2.2 -0.5 -3.7M499.7 523.0q-0.6 -1.5 -1.1 -2.4M501.0 523.0q0.4 -1.7 0.4 -2.8M501.0 523.0q-0.5 -1.3 -1.7 -2.1M501.0 523.0q0.7 -2.1 1.8 -3.5M502.3 523.0q-0.5 -2.2 -0.4 -3.7M502.3 523.0q0.1 -1.8 1.3 -2.9M502.3 523.0q0.8 -1.5 -0.0 -2.5M503.4 523.0q-0.4 -2.6 1.0 -4.4M503.4 523.0q0.3 -2.7 1.2 -4.6M504.2 523.0q-0.7 -2.1 0.1 -3.5M504.2 523.0q1.2 -1.2 1.7 -2.0M504.2 523.0q-0.9 -1.5 -1.8 -2.4M504.2 523.0q0.9 -2.6 0.5 -4.4M505.6 523.0q1.1 -0.9 1.6 -1.6M505.6 523.0q0.6 -2.1 1.0 -3.6M505.6 523.0q0.4 -1.4 1.7 -2.3M506.3 523.0q0.2 -1.4 0.8 -2.4M506.3 523.0q1.0 -3.0 1.0 -5.0M507.7 523.0q-1.1 -3.0 -1.5 -5.0M507.7 523.0q-0.7 -1.0 -0.7 -1.7M507.7 523.0q-0.2 -1.7 -1.6 -2.9M509.1 523.0q1.0 -1.6 0.9 -2.6M509.1 523.0q0.5 -2.0 -0.1 -3.4M509.1 523.0q0.8 -1.9 0.6 -3.2M510.4 523.0q-0.1 -2.2 0.9 -3.6M510.4 523.0q-0.9 -1.6 -1.2 -2.6M511.7 523.0q-0.0 -3.0 1.5 -5.1M511.7 523.0q-0.1 -2.8 -1.4 -4.7M511.7 523.0q-0.2 -2.3 -0.2 -3.8M511.7 523.0q0.5 -1.6 -0.6 -2.7M512.4 523.0q-0.5 -0.9 0.6 -1.4M512.4 523.0q-0.8 -1.4 -0.3 -2.3M513.8 523.0q-1.0 -2.8 -1.7 -4.6M513.8 523.0q-1.3 -1.6 -1.7 -2.7M513.8 523.0q-0.5 -1.9 0.4 -3.2M514.6 523.0q-0.2 -2.6 -0.3 -4.4M514.6 523.0q-0.2 -2.4 -0.1 -4.1M514.6 523.0q-0.3 -1.5 -0.1 -2.4M514.6 523.0q0.6 -3.1 1.2 -5.1M515.5 523.0q0.3 -1.2 1.6 -2.0M515.5 523.0q0.0 -2.9 0.7 -4.8M516.8 523.0q0.2 -1.8 0.0 -3.1M516.8 523.0q0.9 -1.8 1.2 -2.9M516.8 523.0q0.6 -1.1 0.6 -1.9M516.8 523.0q-0.4 -1.6 -1.7 -2.7M518.3 523.0q0.4 -2.1 1.3 -3.4M518.3 523.0q-0.1 -1.4 -0.2 -2.4M518.3 523.0q-0.4 -1.3 -0.4 -2.1M519.0 523.0q0.8 -1.1 0.5 -1.8M519.0 523.0q-0.4 -2.8 0.0 -4.7M519.0 523.0q-0.4 -1.2 -0.0 -2.0M520.2 523.0q0.9 -1.8 1.7 -3.0M520.2 523.0q-0.2 -1.7 -1.3 -2.8M520.2 523.0q0.0 -1.5 -0.4 -2.4M521.1 523.0q-0.6 -1.6 -1.7 -2.6M521.1 523.0q0.3 -1.3 -1.3 -2.1M521.1 523.0q-0.4 -2.1 -1.7 -3.5M521.1 523.0q0.4 -1.7 -0.8 -2.8M522.0 523.0q1.0 -1.4 1.5 -2.3M522.0 523.0q0.8 -1.9 1.6 -3.2M523.4 523.0q0.8 -2.1 0.2 -3.4M523.4 523.0q-0.1 -1.9 -0.7 -3.2M524.4 523.0q0.1 -1.9 -0.0 -3.1M524.4 523.0q0.2 -1.7 0.7 -2.8M525.6 523.0q-0.7 -2.9 -0.2 -4.8M525.6 523.0q-0.4 -2.7 -1.5 -4.5M525.6 523.0q-0.3 -1.2 -1.4 -2.0M526.9 523.0q0.1 -1.2 0.9 -2.0M526.9 523.0q0.1 -0.9 0.9 -1.5M528.0 523.0q0.9 -1.4 0.9 -2.3M528.0 523.0q0.2 -2.9 0.5 -4.8M528.0 523.0q-0.1 -1.8 0.4 -3.0M528.0 523.0q-0.1 -1.1 1.0 -1.8M529.5 523.0q-0.0 -1.7 -0.4 -2.8M529.5 523.0q-0.5 -2.2 0.5 -3.6M530.2 523.0q0.4 -1.3 -1.0 -2.2M530.2 523.0q0.5 -1.8 1.7 -2.9M530.2 523.0q-0.1 -1.6 -0.9 -2.7M531.2 523.0q0.1 -1.5 -0.2 -2.4M531.2 523.0q-0.1 -1.7 -1.4 -2.8M531.2 523.0q-0.7 -0.9 -0.9 -1.5M532.6 523.0q0.4 -2.8 1.2 -4.7M532.6 523.0q-0.9 -1.9 -1.7 -3.2M532.6 523.0q-0.1 -1.3 1.2 -2.2M532.6 523.0q-0.7 -1.2 -1.6 -2.0M533.4 523.0q-0.5 -1.5 -0.2 -2.5M533.4 523.0q0.4 -3.0 -0.4 -5.0M533.4 523.0q0.3 -2.9 -1.0 -4.9M533.4 523.0q0.3 -1.2 -1.6 -2.1M534.1 523.0q0.1 -1.0 0.3 -1.7M534.1 523.0q-0.3 -3.0 1.6 -5.0M535.0 523.0q-0.4 -3.0 -0.7 -5.0M535.0 523.0q-1.1 -1.5 -1.1 -2.6M535.0 523.0q0.1 -2.7 0.9 -4.4M535.0 523.0q0.0 -1.8 0.8 -3.0M536.1 523.0q-0.2 -2.9 -0.9 -4.9M536.1 523.0q1.1 -1.7 1.6 -2.9M537.1 523.0q-0.2 -2.0 0.6 -3.4M537.1 523.0q0.9 -1.6 0.8 -2.6" fill="none" stroke="#5a5a5a" stroke-width="0.28"/>
<path d="M462.9 522.1l0.1 0.6M463.7 521.1l0.8 1.0M464.7 520.7l-0.1 -0.9M465.6 522.0l-0.4 0.3M466.2 521.1l1.4 -1.0M467.2 521.2l-1.2 0.9M468.4 521.4l0.5 0.1M469.5 520.7l0.7 0.4M470.4 521.5l1.1 0.3M471.2 519.7l1.5 0.4M471.8 520.3l-1.5 0.8M472.4 519.8l1.2 -0.7M473.2 519.8l-0.7 0.6M474.1 519.8l0.7 0.8M474.9 519.2l0.0 -1.0M476.1 520.1l0.5 -0.8M477.5 522.5l-0.2 -0.9M478.3 519.3l-0.9 -0.2M479.6 519.3l-0.5 0.1M480.1 519.9l0.9 -0.0M480.7 519.3l1.2 0.6M481.4 520.0l0.9 -0.3M482.4 521.4l1.1 0.3M483.6 521.4l-1.4 -0.0M484.6 521.6l0.9 -0.8M485.3 519.6l0.8 0.0M485.9 520.6l-0.5 -0.7M486.5 520.5l-1.2 -0.7M487.0 520.3l1.3 0.1M487.6 520.1l0.1 0.7M488.7 519.5l-0.2 0.6M489.2 522.4l0.7 1.2M489.9 519.0l0.5 0.7M491.1 519.7l-1.1 0.7M491.9 519.0l1.4 0.2M493.1 519.7l-0.2 0.9M493.8 519.5l-0.5 -0.0M495.1 518.8l0.7 0.2M495.7 522.1l0.3 0.1M496.4 522.1l-1.1 1.1M497.5 520.0l0.9 0.7M498.8 521.3l1.2 0.2M499.8 520.6l-0.9 -0.4M501.2 520.7l-0.2 -1.1M502.3 521.9l-1.2 0.1M503.3 521.6l-1.1 0.7M504.5 521.3l-1.0 0.0M505.4 521.8l-1.1 0.9M506.3 520.4l0.8 0.1M507.5 519.5l0.1 0.9M508.7 520.9l-0.7 0.9M509.7 521.0l0.9 1.2M510.3 520.1l0.9 -0.1M511.4 522.3l-0.5 -0.8M512.2 519.7l0.5 0.9M513.2 520.0l-1.2 -0.1M514.0 519.5l0.9 1.1M515.2 519.3l-0.9 -0.6M516.3 521.5l1.2 0.0M517.2 521.7l0.9 -0.8M518.2 519.0l0.3 1.2M518.9 521.0l1.2 0.7M519.6 520.9l0.6 0.0M520.2 522.4l-0.5 -0.4M520.8 521.0l0.3 1.0M521.3 519.8l-0.5 0.2M522.6 520.4l0.2 0.4M523.7 519.2l0.8 1.1M524.3 519.1l-1.2 -0.8M525.2 521.8l-1.0 1.1M526.4 519.1l1.3 0.3M527.8 520.6l-1.1 0.3M528.9 521.6l-0.7 -1.1M529.8 519.4l-0.4 -1.1M530.6 521.1l-0.8 0.7M531.9 522.4l0.9 0.9M533.1 519.8l-0.8 0.8M534.0 519.3l0.8 0.3M535.2 520.1l-1.1 -0.6M536.2 519.7l-1.3 1.0M537.3 522.4l0.9 -0.5" fill="none" stroke="#666" stroke-width="0.32"/>
<line x1="464.40" y1="523.00" x2="536.20" y2="523.00" stroke="#444" stroke-width="0.6"/>
<line x1="464.40" y1="524.80" x2="536.20" y2="524.80" stroke="#666" stroke-width="0.6"/>
<line x1="464.40" y1="528.20" x2="536.20" y2="528.20" stroke="#666" stroke-width="0.6"/>
<path d="M462.9 538.2q0.5 -1.6 0.4 -2.7M462.9 538.2q-0.5 -2.0 -1.8 -3.4M463.7 538.2q-0.1 -2.5 -1.4 -4.2M463.7 538.2q0.1 -1.1 1.8 -1.8M463.7 538.2q-0.2 -1.1 0.5 -1.8M464.8 538.2q0.3 -2.6 0.1 -4.3M464.8 538.2q-0.4 -1.9 0.7 -3.1M464.8 538.2q0.7 -2.3 -0.2 -3.8M464.8 538.2q0.5 -1.3 1.7 -2.1M465.8 538.2q-0.1 -2.6 0.1 -4.4M465.8 538.2q-0.1 -1.0 1.7 -1.7M466.8 538.2q-0.9 -1.8 -1.7 -3.1M466.8 538.2q-1.1 -2.3 -1.6 -3.9M466.8 538.2q-0.2 -2.1 -0.5 -3.5M468.0 538.2q-0.1 -2.1 1.1 -3.6M468.0 538.2q1.0 -1.2 1.7 -1.9M468.0 538.2q-0.4 -1.6 1.2 -2.6M469.1 538.2q-0.5 -3.0 0.6 -4.9M469.1 538.2q-0.3 -2.8 -0.3 -4.6M469.1 538.2q-0.1 -1.9 -1.0 -3.2M470.4 538.2q-0.2 -2.2 1.7 -3.6M470.4 538.2q-0.7 -1.5 -1.2 -2.5M470.4 538.2q-0.2 -1.5 -0.5 -2.5M471.7 538.2q-0.5 -1.7 -1.7 -2.8M471.7 538.2q-0.1 -2.1 -0.4 -3.5M472.6 538.2q0.9 -2.9 0.8 -4.8M472.6 538.2q0.6 -2.2 1.1 -3.6M472.6 538.2q-0.6 -2.7 -1.2 -4.6M473.4 538.2q-0.7 -0.9 -0.7 -1.4M473.4 538.2q0.2 -1.7 -1.1 -2.8M473.4 538.2q-0.0 -1.7 -0.4 -2.9M473.4 538.2q-0.4 -1.8 0.1 -2.9M474.4 538.2q-0.5 -1.7 -1.2 -2.8M474.4 538.2q1.0 -1.0 1.1 -1.7M475.2 538.2q0.3 -1.4 0.4 -2.4M475.2 538.2q-0.4 -2.0 0.4 -3.4M475.2 538.2q0.4 -1.5 -0.7 -2.6M475.2 538.2q-0.6 -1.9 -0.7 -3.2M476.4 538.2q0.1 -3.1 0.9 -5.1M476.4 538.2q0.2 -1.7 1.3 -2.8M476.4 538.2q-0.7 -2.0 0.1 -3.3M476.4 538.2q-0.2 -1.3 1.7 -2.2M477.2 538.2q0.4 -2.7 -1.1 -4.5M477.2 538.2q-1.1 -2.2 -1.4 -3.7M477.2 538.2q-0.6 -2.9 0.5 -4.8M477.2 538.2q0.0 -0.9 1.2 -1.5M478.7 538.2q-0.2 -1.4 0.4 -2.3M478.7 538.2q-0.5 -3.0 -1.1 -4.9M479.4 538.2q-0.4 -2.5 0.8 -4.2M479.4 538.2q-0.0 -1.4 0.2 -2.3M479.4 538.2q-0.3 -1.1 0.9 -1.8M480.6 538.2q0.9 -2.6 1.5 -4.4M480.6 538.2q1.3 -2.7 1.8 -4.5M480.6 538.2q0.4 -1.7 1.3 -2.8M480.6 538.2q-0.6 -3.0 0.6 -4.9M481.6 538.2q-0.4 -1.3 1.2 -2.1M481.6 538.2q0.1 -2.4 1.2 -4.1M482.6 538.2q-0.4 -2.5 0.7 -4.2M482.6 538.2q0.3 -1.5 -1.0 -2.6M482.6 538.2q0.8 -0.9 0.2 -1.6M484.1 538.2q1.1 -2.0 1.8 -3.3M484.1 538.2q-0.8 -2.0 -1.1 -3.3M484.1 538.2q0.6 -2.6 1.8 -4.3M484.1 538.2q-0.6 -2.5 -0.8 -4.2M484.8 538.2q0.1 -1.4 -0.2 -2.4M484.8 538.2q-0.9 -3.0 -1.4 -5.0M485.8 538.2q0.4 -1.5 -0.9 -2.5M485.8 538.2q-0.5 -2.2 -0.3 -3.6M485.8 538.2q-0.4 -2.6 -0.2 -4.3M485.8 538.2q-0.2 -1.8 -0.3 -3.1M486.8 538.2q-0.1 -1.9 1.0 -3.1M486.8 538.2q0.3 -1.6 -0.8 -2.6M486.8 538.2q-0.0 -2.1 -0.9 -3.6M488.0 538.2q-0.3 -1.2 0.1 -2.1M488.0 538.2q0.1 -3.0 1.7 -5.1M488.8 538.2q-0.5 -1.7 0.7 -2.9M488.8 538.2q-0.6 -1.2 0.5 -2.1M488.8 538.2q-0.2 -2.1 0.6 -3.4M488.8 538.2q-0.4 -1.9 -0.7 -3.2M490.2 538.2q-0.3 -1.8 -1.6 -2.9M490.2 538.2q0.4 -1.5 0.5 -2.5M490.2 538.2q0.0 -3.1 0.8 -5.1M490.2 538.2q-1.2 -1.2 -1.6 -2.0M491.4 538.2q1.3 -2.1 1.7 -3.4M491.4 538.2q-0.5 -1.3 -0.5 -2.2M492.8 538.2q-0.4 -2.6 -1.2 -4.4M492.8 538.2q-0.8 -2.2 -1.6 -3.6M493.8 538.2q0.6 -1.9 -0.2 -3.1M493.8 538.2q0.1 -0.9 1.7 -1.4M493.8 538.2q-0.2 -2.5 1.3 -4.1M493.8 538.2q1.0 -1.6 1.4 -2.7M494.8 538.2q0.6 -1.1 -0.3 -1.8M494.8 538.2q0.1 -2.6 -1.1 -4.3M495.5 538.2q0.1 -2.4 -1.5 -4.0M495.5 538.2q0.1 -2.9 0.1 -4.8M496.7 538.2q-0.1 -2.2 -1.0 -3.6M496.7 538.2q-0.3 -1.3 -0.5 -2.1M496.7 538.2q-0.1 -2.8 -1.1 -4.7M496.7 538.2q-0.6 -3.1 -0.9 -5.2M497.8 538.2q-0.1 -1.6 -1.2 -2.6M497.8 538.2q-0.1 -1.8 -1.6 -3.1M497.8 538.2q-0.6 -1.5 -0.3 -2.5M499.2 538.2q-1.3 -3.1 -1.7 -5.1M499.2 538.2q0.7 -2.3 -0.0 -3.8M499.2 538.2q0.4 -2.9 -1.3 -4.8M500.2 538.2q-0.8 -2.1 -0.9 -3.4M500.2 538.2q0.8 -1.2 0.8 -2.0M500.2 538.2q0.2 -2.2 -1.6 -3.7M501.3 538.2q-0.3 -1.4 1.7 -2.4M501.3 538.2q-0.4 -2.7 -0.8 -4.5M501.3 538.2q0.3 -1.9 0.7 -3.1M502.6 538.2q-0.3 -3.1 -0.8 -5.2M502.6 538.2q0.6 -2.0 -0.0 -3.3M503.7 538.2q-0.4 -1.7 0.3 -2.8M503.7 538.2q-0.2 -2.4 -0.8 -4.0M503.7 538.2q0.2 -2.0 -0.2 -3.4M503.7 538.2q0.3 -1.7 -0.1 -2.9M504.8 538.2q-0.3 -1.5 0.0 -2.4M504.8 538.2q-0.4 -2.2 0.9 -3.6M504.8 538.2q0.7 -1.4 0.1 -2.4M506.2 538.2q-0.6 -1.2 -1.4 -2.1M506.2 538.2q-1.1 -0.9 -1.4 -1.5M506.2 538.2q0.3 -1.9 0.7 -3.1M507.2 538.2q-0.1 -1.0 -0.5 -1.7M507.2 538.2q0.2 -1.4 1.3 -2.4M507.2 538.2q-0.9 -1.9 -0.9 -3.2M508.6 538.2q0.2 -1.5 1.5 -2.6M508.6 538.2q0.8 -2.7 0.8 -4.5M508.6 538.2q0.6 -1.1 0.4 -1.9M508.6 538.2q-0.5 -1.6 -0.7 -2.6M509.5 538.2q-0.4 -1.8 1.2 -3.0M509.5 538.2q0.4 -0.9 -0.0 -1.5M509.5 538.2q0.7 -2.9 0.2 -4.8M510.9 538.2q0.2 -1.3 -1.8 -2.2M510.9 538.2q-0.0 -2.4 0.7 -4.0M510.9 538.2q-0.0 -1.1 -0.7 -1.8M511.7 538.2q-0.4 -1.6 -0.5 -2.7M511.7 538.2q0.1 -1.7 1.6 -2.8M511.7 538.2q-0.1 -1.1 -0.7 -1.9M512.6 538.2q-0.2 -2.0 1.5 -3.3M512.6 538.2q0.2 -1.3 -1.0 -2.1M513.7 538.2q-0.1 -1.0 1.0 -1.7M513.7 538.2q-0.5 -2.5 0.9 -4.2M513.7 538.2q-0.2 -1.4 0.2 -2.4M513.7 538.2q0.8 -1.2 1.1 -2.0M514.8 538.2q-0.6 -2.0 0.3 -3.3M514.8 538.2q-0.3 -2.1 -0.5 -3.5M514.8 538.2q-0.1 -2.6 -0.6 -4.3M514.8 538.2q0.3 -2.5 -0.5 -4.1M515.9 538.2q0.7 -0.9 0.2 -1.5M515.9 538.2q-0.6 -1.4 -1.7 -2.3M515.9 538.2q-0.2 -1.6 -0.6 -2.6M515.9 538.2q-0.8 -2.2 -1.6 -3.6M517.4 538.2q0.6 -1.9 -0.5 -3.2M517.4 538.2q-0.8 -1.8 -0.3 -3.0M518.5 538.2q-0.1 -2.3 0.3 -3.8M518.5 538.2q-0.4 -2.8 1.3 -4.6M518.5 538.2q-0.0 -1.4 -1.2 -2.4M520.0 538.2q-0.3 -1.7 -1.8 -2.9M520.0 538.2q0.2 -2.0 1.3 -3.4M521.4 538.2q-0.2 -2.2 -1.7 -3.7M521.4 538.2q0.7 -1.7 0.2 -2.8M522.1 538.2q0.7 -1.9 1.7 -3.2M522.1 538.2q-0.3 -2.3 0.8 -3.9M522.1 538.2q0.4 -1.2 1.1 -2.1M522.1 538.2q0.1 -1.4 -0.6 -2.4M522.8 538.2q-0.5 -2.6 0.7 -4.3M522.8 538.2q-0.7 -2.8 0.0 -4.7M522.8 538.2q0.5 -2.1 -0.2 -3.5M522.8 538.2q-0.1 -1.9 -0.0 -3.2M524.0 538.2q0.5 -1.4 -0.7 -2.4M524.0 538.2q-0.7 -1.4 -1.0 -2.4M524.0 538.2q-0.4 -2.1 1.4 -3.6M524.0 538.2q0.5 -2.0 -0.9 -3.3M525.4 538.2q-0.8 -1.0 -0.3 -1.6M525.4 538.2q0.1 -1.4 1.0 -2.3M526.1 538.2q-0.2 -1.8 -1.4 -3.1M526.1 538.2q-0.7 -1.7 -0.2 -2.9M526.1 538.2q-0.4 -2.1 0.2 -3.5M526.1 538.2q0.8 -1.6 1.2 -2.7M527.0 538.2q1.1 -0.9 1.1 -1.5M527.0 538.2q-0.0 -1.6 0.0 -2.7M527.0 538.2q0.5 -1.7 -0.8 -2.8M527.8 538.2q-0.3 -1.9 -1.7 -3.1M527.8 538.2q0.4 -2.4 1.1 -4.0M528.7 538.2q-0.5 -1.8 1.1 -2.9M528.7 538.2q-0.3 -2.2 -0.9 -3.7M528.7 538.2q-0.7 -1.7 -1.1 -2.8M530.1 538.2q-0.4 -1.3 -0.1 -2.2M530.1 538.2q0.3 -1.5 -1.2 -2.5M530.9 538.2q0.3 -1.9 0.6 -3.2M530.9 538.2q0.4 -1.6 0.3 -2.6M530.9 538.2q-0.8 -2.1 -1.1 -3.5M530.9 538.2q0.4 -2.1 1.2 -3.6M531.6 538.2q0.4 -0.9 1.6 -1.5M531.6 538.2q-0.1 -2.1 1.7 -3.5M531.6 538.2q-1.0 -2.9 -1.0 -4.8M531.6 538.2q-0.7 -2.7 -1.0 -4.5M532.5 538.2q-0.0 -1.2 1.2 -2.1M532.5 538.2q-0.8 -2.5 -0.7 -4.1M532.5 538.2q0.7 -1.7 0.6 -2.9M532.5 538.2q-0.0 -1.7 -1.7 -2.8M533.9 538.2q1.0 -1.8 1.7 -3.0M533.9 538.2q-1.0 -2.8 -0.8 -4.7M534.6 538.2q-0.2 -2.8 1.4 -4.6M534.6 538.2q0.2 -1.5 0.8 -2.5M535.4 538.2q1.0 -1.3 1.1 -2.2M535.4 538.2q-0.8 -1.3 -0.9 -2.2M535.4 538.2q0.6 -1.7 1.6 -2.8M536.8 538.2q-0.9 -3.0 -0.3 -5.0M536.8 538.2q0.6 -1.6 -0.1 -2.6M536.8 538.2q0.2 -2.1 -1.2 -3.5M536.8 538.2q-0.2 -1.4 1.6 -2.3M537.6 538.2q0.2 -1.5 -0.0 -2.5M537.6 538.2q0.0 -1.3 -0.9 -2.1" fill="none" stroke="#5a5a5a" stroke-width="0.28"/>
<path d="M462.9 535.6l0.4 -0.3M464.1 536.6l-0.1 1.0M464.8 535.9l-1.0 -0.9M466.0 534.2l0.6 0.8M466.8 534.2l-1.3 -0.7M467.7 534.2l0.6 0.9M468.9 535.8l0.4 1.0M470.1 535.1l1.4 -0.9M470.7 537.0l-1.1 1.1M472.0 535.0l0.8 0.6M472.6 535.9l1.2 -0.8M473.5 534.7l-0.7 -0.8M474.7 536.5l0.8 0.0M475.8 535.1l0.2 -0.2M476.7 537.3l-0.4 0.6M478.0 536.3l1.0 -0.6M478.9 535.2l1.0 -0.8M479.8 536.3l1.3 0.2M481.1 536.0l1.4 0.3M482.2 535.7l0.2 0.8M482.9 535.2l0.7 0.3M484.0 535.9l0.0 0.9M484.8 534.0l-1.3 -0.1M485.7 535.8l1.3 -0.2M486.7 537.0l1.1 0.1M487.3 535.6l0.1 -0.1M488.7 536.6l1.4 -0.3M489.3 536.4l1.1 -0.8M490.0 536.1l1.2 0.7M490.9 536.7l1.3 -0.6M492.2 536.8l-0.9 0.5M493.0 534.8l-1.1 0.8M494.4 536.6l-1.1 0.6M495.3 534.7l-0.4 -1.0M496.3 537.4l0.8 0.8M497.5 534.5l-1.1 0.3M498.4 536.9l-1.3 -0.2M499.0 536.9l0.8 -0.0M499.7 536.5l0.3 -0.5M500.3 534.1l1.3 -0.4M500.9 537.5l0.1 0.6M502.3 534.6l-0.6 0.3M503.4 534.9l-1.0 -0.2M504.6 537.0l-1.3 1.1M505.5 536.5l1.1 1.1M506.5 535.7l0.3 -1.1M507.8 535.1l-0.9 0.6M508.5 537.5l0.3 -0.8M509.6 535.3l1.4 0.4M510.3 537.0l-0.7 0.9M511.7 534.2l1.1 0.8M512.4 534.5l0.6 -0.2M513.5 536.4l0.3 -0.7M514.2 536.6l1.2 -0.6M515.3 535.4l0.7 -1.2M516.3 534.0l1.0 -1.1M517.3 535.9l0.8 0.5M518.5 534.5l1.1 1.1M519.6 534.3l1.2 -0.7M520.4 537.6l0.7 -0.2M521.7 535.7l0.1 0.4M522.7 536.4l0.6 1.2M523.8 535.4l0.4 -1.1M524.4 536.0l0.5 0.9M525.4 536.7l0.2 -0.8M526.0 534.7l-0.1 0.0M526.8 534.2l0.7 -0.3M528.2 534.4l0.9 0.2M529.1 537.5l-0.1 -1.0M530.4 534.8l-0.5 -0.6M531.7 535.0l0.7 -1.0M532.6 534.9l-0.6 -0.1M534.0 534.6l-0.3 0.6M535.1 536.4l1.2 -0.1M535.9 537.0l1.1 -0.9M537.2 537.3l-1.0 -0.6" fill="none" stroke="#666" stroke-width="0.32"/>
<line x1="464.40" y1="538.20" x2="536.20" y2="538.20" stroke="#444" stroke-width="0.6"/>
<line x1="464.40" y1="540.00" x2="536.20" y2="540.00" stroke="#666" stroke-width="0.6"/>
<line x1="464.40" y1="543.40" x2="536.20" y2="543.40" stroke="#666" stroke-width="0.6"/>
<line x1="464.40" y1="548.00" x2="536.20" y2="548.00" stroke="#888" stroke-width="0.6"/>
<line x1="464.40" y1="436.00" x2="464.40" y2="574.00" stroke="#888" stroke-width="0.7"/>
<line x1="536.20" y1="436.00" x2="536.20" y2="574.00" stroke="#aaa" stroke-width="0.6"/>
<rect x="750.60" y="436.00" width="71.20" height="138.00" fill="#fff"/>
<rect x="750.60" y="436.00" width="71.20" height="4.80" fill="#fff" stroke="#999" stroke-width="0.6"/>
<line x1="750.60" y1="444.50" x2="821.80" y2="444.50" stroke="#555" stroke-width="0.5"/>
<line x1="750.60" y1="446.00" x2="821.80" y2="446.00" stroke="#555" stroke-width="0.5"/>
<line x1="750.60" y1="451.00" x2="821.80" y2="451.00" stroke="#999" stroke-width="0.4"/>
<g stroke="#444" stroke-width="0.45">
<line x1="754.2" y1="445.3" x2="754.2" y2="461"/>
<line x1="759.8" y1="445.3" x2="759.8" y2="461"/>
<line x1="765.3" y1="445.3" x2="765.3" y2="461"/>
<line x1="770.8" y1="445.3" x2="770.8" y2="461"/>
<line x1="776.4" y1="445.3" x2="776.4" y2="461"/>
<line x1="781.9" y1="445.3" x2="781.9" y2="461"/>
<line x1="787.5" y1="445.3" x2="787.5" y2="461"/>
<line x1="793.0" y1="445.3" x2="793.0" y2="461"/>
<line x1="798.6" y1="445.3" x2="798.6" y2="461"/>
<line x1="804.1" y1="445.3" x2="804.1" y2="461"/>
<line x1="809.7" y1="445.3" x2="809.7" y2="461"/>
<line x1="815.2" y1="445.3" x2="815.2" y2="461"/>
<line x1="820.8" y1="445.3" x2="820.8" y2="461"/>
</g>
<path d="M749.6 461.6q-0.5 -1.9 -0.0 -3.2M749.6 461.6q1.0 -1.6 1.4 -2.6M749.6 461.6q-0.3 -2.0 1.7 -3.3M750.8 461.6q0.2 -1.6 -1.3 -2.7M750.8 461.6q-0.0 -1.5 -1.4 -2.4M750.8 461.6q-0.0 -2.7 0.2 -4.6M751.7 461.6q-1.3 -2.2 -1.8 -3.7M751.7 461.6q-0.5 -1.4 -0.1 -2.4M751.7 461.6q0.3 -1.8 0.7 -3.0M752.9 461.6q-0.5 -1.1 -0.8 -1.9M752.9 461.6q0.1 -1.5 -1.0 -2.5M752.9 461.6q-0.2 -1.8 0.5 -3.0M754.2 461.6q-0.8 -2.0 -1.8 -3.3M754.2 461.6q0.6 -0.9 1.3 -1.4M754.2 461.6q-0.3 -1.2 -0.8 -2.0M755.5 461.6q0.0 -1.6 1.6 -2.7M755.5 461.6q-0.0 -1.3 0.1 -2.2M755.5 461.6q-0.7 -2.4 -1.2 -4.0M755.5 461.6q-0.5 -2.5 -0.9 -4.1M756.6 461.6q0.1 -2.6 1.5 -4.4M756.6 461.6q-0.8 -1.9 -0.5 -3.2M756.6 461.6q-0.5 -2.1 -0.4 -3.4M758.0 461.6q-0.3 -1.8 0.0 -2.9M758.0 461.6q0.5 -2.1 1.3 -3.6M759.0 461.6q-1.1 -2.4 -1.8 -4.0M759.0 461.6q0.3 -2.6 1.4 -4.4M759.7 461.6q-0.2 -1.0 0.1 -1.6M759.7 461.6q-0.7 -1.3 -1.6 -2.1M761.0 461.6q0.4 -1.4 1.7 -2.3M761.0 461.6q0.1 -2.5 -0.9 -4.1M761.0 461.6q0.2 -1.5 0.2 -2.4M761.0 461.6q-0.6 -1.9 -0.4 -3.2M762.0 461.6q-0.8 -1.5 -0.4 -2.4M762.0 461.6q0.2 -1.5 0.6 -2.5M762.0 461.6q0.8 -2.6 1.0 -4.4M762.9 461.6q0.7 -2.6 0.9 -4.4M762.9 461.6q0.4 -2.2 0.3 -3.7M763.8 461.6q-0.5 -2.7 -0.3 -4.6M763.8 461.6q0.9 -1.1 0.9 -1.9M763.8 461.6q0.6 -2.2 0.7 -3.7M763.8 461.6q-0.2 -2.0 1.2 -3.4M764.9 461.6q-0.6 -1.1 -0.9 -1.8M764.9 461.6q-0.4 -1.4 1.2 -2.4M764.9 461.6q0.4 -1.9 -0.6 -3.1M766.3 461.6q1.1 -2.5 1.7 -4.2M766.3 461.6q-1.0 -1.0 -1.5 -1.7M766.3 461.6q-0.8 -2.7 -1.6 -4.5M766.3 461.6q0.5 -1.5 1.3 -2.5M767.3 461.6q0.0 -1.7 1.8 -2.9M767.3 461.6q1.0 -1.4 1.7 -2.3M768.4 461.6q-0.1 -2.4 1.3 -4.0M768.4 461.6q-0.7 -2.1 -1.2 -3.5M768.4 461.6q1.3 -1.4 1.7 -2.3M768.4 461.6q1.0 -1.9 1.7 -3.2M769.4 461.6q-0.1 -1.8 -0.8 -3.1M769.4 461.6q1.0 -2.7 1.2 -4.5M770.7 461.6q0.1 -1.3 -0.9 -2.2M770.7 461.6q0.2 -1.5 0.3 -2.5M770.7 461.6q0.6 -1.5 0.7 -2.5M772.0 461.6q0.0 -1.1 0.3 -1.8M772.0 461.6q-0.4 -1.4 -0.5 -2.3M772.0 461.6q-0.6 -1.8 -1.1 -3.0M772.9 461.6q-0.1 -2.6 1.0 -4.3M772.9 461.6q-0.2 -1.3 1.7 -2.2M773.9 461.6q-0.3 -1.7 -0.0 -2.9M773.9 461.6q-0.4 -1.7 -0.6 -2.8M774.7 461.6q0.4 -1.9 -1.3 -3.2M774.7 461.6q-0.5 -2.1 -1.5 -3.5M774.7 461.6q-1.2 -2.0 -1.5 -3.4M774.7 461.6q0.5 -2.6 0.7 -4.4M775.8 461.6q1.0 -2.7 1.8 -4.5M775.8 461.6q-0.5 -1.4 -0.2 -2.3M776.7 461.6q-0.4 -2.2 -0.6 -3.7M776.7 461.6q-0.7 -1.8 -1.7 -3.0M776.7 461.6q0.9 -1.4 1.7 -2.4M778.0 461.6q0.0 -1.4 -1.1 -2.4M778.0 461.6q-0.5 -2.7 -1.3 -4.4M778.0 461.6q-0.4 -1.7 -1.3 -2.8M778.0 461.6q0.4 -1.9 -0.7 -3.2M779.3 461.6q-0.6 -1.4 -1.1 -2.3M779.3 461.6q-0.1 -1.5 -1.0 -2.5M779.3 461.6q-0.3 -1.7 -1.1 -2.8M780.1 461.6q0.6 -2.2 0.2 -3.7M780.1 461.6q0.9 -1.5 1.0 -2.4M780.1 461.6q-0.2 -1.9 -0.0 -3.2M781.4 461.6q1.0 -0.9 1.7 -1.5M781.4 461.6q0.8 -1.0 1.4 -1.7M781.4 461.6q-0.3 -1.5 1.6 -2.5M782.7 461.6q-0.6 -1.9 -1.3 -3.2M782.7 461.6q0.8 -2.4 0.7 -3.9M782.7 461.6q-0.8 -1.8 -0.9 -3.0M782.7 461.6q-0.3 -1.5 0.9 -2.6M783.7 461.6q0.1 -1.5 -1.1 -2.5M783.7 461.6q-0.3 -2.2 0.9 -3.6M783.7 461.6q0.2 -1.9 1.1 -3.2M784.8 461.6q-0.3 -1.3 1.6 -2.2M784.8 461.6q0.7 -1.6 0.9 -2.6M784.8 461.6q0.8 -2.5 1.5 -4.2M786.2 461.6q0.8 -2.4 1.6 -3.9M786.2 461.6q-0.5 -1.9 -0.3 -3.1M786.2 461.6q0.5 -2.6 -0.6 -4.4M787.3 461.6q0.5 -1.3 0.6 -2.2M787.3 461.6q-0.2 -2.4 1.8 -4.0M788.7 461.6q0.2 -2.7 0.3 -4.5M788.7 461.6q-0.7 -1.3 -1.0 -2.2M788.7 461.6q1.1 -1.9 1.1 -3.2M788.7 461.6q0.1 -1.8 -1.2 -3.1M790.1 461.6q0.5 -2.4 -0.5 -4.0M790.1 461.6q-0.2 -1.4 -1.5 -2.3M790.1 461.6q0.3 -1.9 1.7 -3.1M790.1 461.6q-0.4 -2.3 0.1 -3.8M791.1 461.6q-0.0 -1.7 0.3 -2.8M791.1 461.6q-0.3 -1.7 1.5 -2.9M791.1 461.6q0.6 -1.7 0.8 -2.9M792.3 461.6q-0.1 -0.9 1.1 -1.5M792.3 461.6q-0.3 -2.0 -1.5 -3.4M793.1 461.6q-0.1 -0.8 1.0 -1.4M793.1 461.6q-0.3 -2.0 0.9 -3.4M794.1 461.6q0.4 -1.4 0.7 -2.3M794.1 461.6q-0.6 -1.4 -0.8 -2.3M795.4 461.6q-0.5 -2.0 1.0 -3.3M795.4 461.6q0.4 -2.7 0.5 -4.5M795.4 461.6q0.4 -2.4 1.2 -3.9M796.9 461.6q-1.1 -1.6 -1.4 -2.7M796.9 461.6q-0.3 -1.3 -0.1 -2.1M796.9 461.6q0.1 -1.0 -1.2 -1.7M798.0 461.6q-0.5 -1.5 0.3 -2.5M798.0 461.6q0.4 -0.9 0.9 -1.5M799.5 461.6q-0.6 -2.7 -1.1 -4.5M799.5 461.6q0.4 -1.8 0.3 -2.9M799.5 461.6q-0.0 -1.9 0.2 -3.2M799.5 461.6q-0.4 -1.7 0.3 -2.9M800.8 461.6q0.4 -2.1 -0.5 -3.5M800.8 461.6q1.1 -1.5 1.6 -2.4M800.8 461.6q-0.1 -1.4 -1.1 -2.4M800.8 461.6q-0.1 -1.3 0.3 -2.2M801.8 461.6q0.1 -1.5 -0.4 -2.5M801.8 461.6q-0.2 -2.4 0.5 -3.9M801.8 461.6q0.3 -1.2 1.3 -2.1M801.8 461.6q-0.1 -1.9 0.4 -3.2M803.1 461.6q0.5 -1.4 0.0 -2.3M803.1 461.6q-0.6 -2.3 -1.5 -3.9M803.1 461.6q0.8 -1.8 0.7 -3.1M803.1 461.6q0.6 -1.5 0.9 -2.4M804.3 461.6q1.0 -1.8 0.9 -3.0M804.3 461.6q0.9 -0.9 1.3 -1.5M804.3 461.6q-0.4 -0.9 0.3 -1.4M805.4 461.6q0.4 -2.5 1.0 -4.1M805.4 461.6q0.3 -1.0 0.7 -1.7M805.4 461.6q0.4 -1.4 0.9 -2.4M805.4 461.6q0.3 -1.9 1.0 -3.2M806.5 461.6q-0.2 -1.2 -1.6 -2.0M806.5 461.6q-0.3 -2.5 0.5 -4.1M807.8 461.6q0.3 -2.4 -0.8 -4.0M807.8 461.6q-0.4 -2.4 0.8 -3.9M808.6 461.6q-0.4 -1.8 0.6 -2.9M808.6 461.6q1.3 -1.6 1.7 -2.7M809.9 461.6q0.4 -1.2 -0.1 -2.0M809.9 461.6q0.8 -1.3 0.4 -2.2M809.9 461.6q0.6 -1.9 -0.1 -3.2M809.9 461.6q0.2 -1.2 -0.3 -2.0M811.0 461.6q0.4 -2.0 0.9 -3.4M811.0 461.6q-0.9 -2.4 -0.9 -4.0M812.1 461.6q0.3 -1.7 -0.7 -2.9M812.1 461.6q0.2 -2.0 -1.5 -3.3M812.9 461.6q0.1 -1.7 -0.3 -2.8M812.9 461.6q0.2 -2.2 0.6 -3.6M812.9 461.6q-0.2 -1.1 -0.5 -1.9M812.9 461.6q0.9 -2.3 1.4 -3.8M814.3 461.6q0.6 -1.4 -0.2 -2.3M814.3 461.6q0.4 -2.3 0.5 -3.8M814.3 461.6q0.8 -1.9 0.5 -3.1M815.4 461.6q-0.2 -2.1 1.3 -3.5M815.4 461.6q-0.2 -1.0 -0.2 -1.7M815.4 461.6q0.7 -2.5 -0.2 -4.2M816.4 461.6q-0.6 -2.4 0.4 -4.0M816.4 461.6q-0.6 -1.0 -1.4 -1.7M817.5 461.6q0.3 -1.3 0.5 -2.2M817.5 461.6q-0.7 -1.5 -0.4 -2.5M818.9 461.6q-0.5 -2.0 -0.3 -3.3M818.9 461.6q1.0 -1.8 1.1 -3.0M818.9 461.6q-0.4 -1.8 -1.5 -3.0M820.1 461.6q0.7 -1.5 -0.1 -2.6M820.1 461.6q0.0 -2.4 1.2 -4.1M820.1 461.6q-0.6 -1.2 -1.6 -2.0M821.1 461.6q0.7 -1.2 1.7 -2.0M821.1 461.6q0.4 -1.8 0.9 -3.1M821.1 461.6q-0.3 -1.3 1.1 -2.2M821.1 461.6q-0.3 -1.5 0.4 -2.6M822.4 461.6q0.1 -1.4 0.2 -2.3M822.4 461.6q-0.6 -1.0 0.1 -1.6M822.4 461.6q0.1 -2.0 -0.1 -3.4M822.4 461.6q0.1 -2.1 1.1 -3.6" fill="none" stroke="#333" stroke-width="0.3"/>
<path d="M749.6 460.7l0.9 -0.2M750.8 460.8l1.1 -0.7M751.3 460.3l0.2 1.2M752.2 460.1l0.8 -0.6M752.8 460.8l0.5 0.8M753.5 458.3l-0.3 0.6M754.5 460.7l-0.4 -0.4M755.2 458.3l-0.8 0.1M756.4 458.4l0.7 0.3M757.1 460.2l1.2 0.2M758.5 459.1l-0.6 -0.2M759.5 459.8l0.6 0.8M760.0 459.2l0.3 0.5M760.6 460.3l1.2 -0.5M761.9 459.1l-0.5 1.2M763.2 459.3l-1.1 -0.8M763.9 460.8l-1.3 -0.6M764.5 459.3l-0.7 0.9M765.3 459.0l0.8 1.0M766.6 460.6l-1.4 0.8M767.8 460.2l-1.0 0.4M768.6 459.7l-0.5 -0.5M769.5 458.6l0.2 0.6M770.5 459.1l1.3 -0.7M771.4 460.0l1.0 -0.7M772.6 459.1l-0.8 0.1M773.9 460.2l1.5 1.1M774.5 458.6l-0.9 0.6M775.5 458.1l0.1 -1.1M776.6 459.1l1.3 1.2M777.4 458.7l-1.3 0.1M778.3 460.7l0.1 0.3M779.6 458.4l0.0 0.8M780.6 460.5l-1.1 -0.8M781.6 460.1l-1.1 -0.1M782.9 459.6l-0.8 0.6M783.4 460.6l1.5 0.4M783.9 458.4l-0.2 0.2M784.6 458.9l-0.2 -1.0M785.6 460.8l1.2 0.9M786.4 458.3l0.3 0.2M787.6 460.4l1.3 -0.3M788.2 458.9l-0.9 -0.3M789.1 459.3l-1.3 0.6M789.8 459.5l0.4 -0.7M790.6 459.0l-1.1 -0.4M791.9 459.5l0.7 -0.7M792.7 459.7l0.1 -0.7M793.4 459.4l-0.7 0.9M794.7 458.9l-0.8 -0.3M795.8 459.1l0.1 -1.1M796.9 460.6l-1.3 -0.8M797.7 458.1l1.5 0.2M799.1 458.4l0.9 0.8M800.1 458.8l1.4 -0.7M800.7 459.5l-0.1 0.3M802.0 458.9l-1.4 -1.1M802.6 459.7l-0.6 0.1M803.7 460.2l-0.4 1.0M804.9 458.4l-0.8 0.5M805.5 458.2l-0.3 -0.6M806.1 458.6l0.5 1.2M806.9 459.3l0.3 0.3M808.0 460.7l1.0 -1.0M808.8 460.5l0.8 0.2M809.7 458.6l-1.1 -0.9M810.8 460.6l1.1 1.1M811.9 460.9l-0.3 -1.0M813.1 460.2l-1.2 0.8M814.3 460.0l-1.2 -1.1M815.1 460.8l-0.8 0.0M816.3 460.4l-1.1 -0.8M817.4 459.3l0.8 0.9M818.2 459.5l-0.5 -0.1M819.5 458.4l0.7 0.8M820.7 459.6l-0.1 -0.6M821.6 460.7l1.4 -0.7" fill="none" stroke="#444" stroke-width="0.34"/>
<line x1="750.60" y1="462.00" x2="821.80" y2="462.00" stroke="#444" stroke-width="0.6"/>
<rect x="750.60" y="465.00" width="71.20" height="2.40" fill="#dde3ea" stroke="#aaa" stroke-width="0.4"/>
<path d="M749.1 477.0q-0.4 -2.2 1.3 -3.6M749.1 477.0q-0.0 -1.4 -1.4 -2.4M750.2 477.0q0.8 -2.5 1.5 -4.2M750.2 477.0q0.6 -2.9 -0.0 -4.8M750.2 477.0q-0.4 -1.7 -1.7 -2.9M751.2 477.0q0.0 -1.7 1.4 -2.9M751.2 477.0q-0.3 -1.6 -0.9 -2.6M751.2 477.0q0.2 -0.9 0.7 -1.6M751.2 477.0q-0.1 -1.0 1.1 -1.6M751.9 477.0q0.0 -1.9 -1.5 -3.2M751.9 477.0q-0.6 -1.7 -0.8 -2.8M751.9 477.0q1.3 -1.2 1.6 -2.0M751.9 477.0q-0.1 -1.8 1.3 -3.0M752.6 477.0q0.8 -1.9 0.5 -3.2M752.6 477.0q-0.3 -1.0 -1.1 -1.6M752.6 477.0q0.7 -1.8 0.8 -3.0M752.6 477.0q-0.5 -2.3 -1.1 -3.8M753.7 477.0q-0.9 -2.5 -1.7 -4.1M753.7 477.0q-0.1 -1.3 -0.9 -2.2M753.7 477.0q0.8 -1.4 0.7 -2.4M753.7 477.0q-0.7 -2.0 -0.8 -3.3M755.2 477.0q-0.3 -2.0 -0.3 -3.3M755.2 477.0q-0.3 -2.0 0.5 -3.3M755.2 477.0q-0.6 -2.5 -0.0 -4.1M756.0 477.0q0.3 -2.2 -1.4 -3.6M756.0 477.0q-0.3 -2.9 1.4 -4.8M756.0 477.0q-0.8 -1.9 -1.7 -3.2M756.0 477.0q0.6 -1.5 -0.6 -2.5M757.0 477.0q0.3 -3.1 -1.6 -5.2M757.0 477.0q0.8 -1.2 0.9 -2.0M757.0 477.0q0.0 -1.4 -1.3 -2.3M757.0 477.0q-0.3 -1.6 -0.2 -2.7M758.3 477.0q-0.4 -2.6 -1.6 -4.3M758.3 477.0q-0.9 -1.5 -1.8 -2.5M758.3 477.0q-0.4 -1.6 -0.8 -2.7M759.2 477.0q0.4 -2.7 -0.1 -4.5M759.2 477.0q0.9 -1.9 0.7 -3.2M759.2 477.0q-0.1 -3.0 1.1 -4.9M759.2 477.0q0.4 -1.3 0.6 -2.2M760.4 477.0q-0.2 -1.6 -1.3 -2.7M760.4 477.0q0.2 -2.0 1.4 -3.4M761.1 477.0q-0.2 -1.5 -0.7 -2.5M761.1 477.0q0.2 -2.0 -0.4 -3.3M761.1 477.0q0.1 -1.9 1.4 -3.2M762.0 477.0q0.4 -1.5 -0.3 -2.6M762.0 477.0q0.0 -1.7 -1.8 -2.8M762.0 477.0q0.2 -2.9 1.1 -4.8M762.0 477.0q-0.3 -2.0 1.2 -3.4M762.8 477.0q0.6 -2.1 -0.4 -3.6M762.8 477.0q-0.3 -3.0 -0.7 -4.9M762.8 477.0q0.2 -1.3 -1.8 -2.2M762.8 477.0q0.6 -1.6 -0.4 -2.6M763.5 477.0q1.2 -2.3 1.8 -3.8M763.5 477.0q0.2 -2.0 -0.4 -3.3M763.5 477.0q0.6 -2.8 0.4 -4.7M764.9 477.0q-0.2 -2.9 1.0 -4.9M764.9 477.0q0.4 -2.6 -0.8 -4.3M766.3 477.0q-0.4 -2.0 -1.4 -3.4M766.3 477.0q-1.2 -3.0 -1.3 -5.0M766.3 477.0q0.3 -1.8 -0.2 -3.0M767.2 477.0q-0.9 -1.6 -1.6 -2.7M767.2 477.0q0.6 -2.0 -0.6 -3.3M767.2 477.0q0.2 -1.9 -1.0 -3.2M768.6 477.0q-0.1 -2.5 0.7 -4.2M768.6 477.0q-0.7 -3.0 0.1 -5.0M768.6 477.0q0.1 -1.8 -1.2 -3.0M770.0 477.0q0.7 -1.8 1.3 -3.1M770.0 477.0q-1.0 -3.0 -1.2 -5.0M771.4 477.0q0.3 -1.3 1.6 -2.1M771.4 477.0q-0.9 -2.7 -1.2 -4.5M772.8 477.0q-0.5 -1.5 -0.7 -2.5M772.8 477.0q-0.6 -2.8 -0.6 -4.7M772.8 477.0q0.3 -2.7 -1.5 -4.5M773.8 477.0q-1.0 -2.1 -1.1 -3.5M773.8 477.0q-0.2 -2.2 0.6 -3.7M774.7 477.0q0.9 -2.0 1.6 -3.4M774.7 477.0q-0.4 -1.6 -0.0 -2.7M774.7 477.0q0.7 -3.1 -0.0 -5.1M774.7 477.0q-0.3 -1.5 -1.0 -2.5M776.2 477.0q0.6 -1.8 0.1 -3.0M776.2 477.0q0.3 -1.8 -0.3 -3.1M776.2 477.0q0.7 -1.9 1.6 -3.2M777.6 477.0q-0.2 -2.6 0.6 -4.4M777.6 477.0q0.8 -2.8 1.3 -4.6M777.6 477.0q0.9 -1.0 1.5 -1.6M777.6 477.0q0.5 -2.0 0.9 -3.3M778.6 477.0q-0.8 -0.9 -1.4 -1.6M778.6 477.0q0.1 -2.5 -1.7 -4.1M778.6 477.0q0.8 -1.3 1.1 -2.1M779.4 477.0q0.1 -1.4 -1.3 -2.3M779.4 477.0q0.6 -2.0 0.1 -3.3M780.7 477.0q0.5 -1.3 1.8 -2.2M780.7 477.0q0.0 -1.5 -1.8 -2.5M780.7 477.0q-0.9 -1.8 -1.5 -3.1M780.7 477.0q0.3 -1.4 1.1 -2.4M782.1 477.0q0.7 -1.3 0.6 -2.1M782.1 477.0q0.1 -1.8 -0.5 -3.0M782.1 477.0q0.1 -1.2 -0.2 -2.1M782.1 477.0q-0.5 -2.9 0.3 -4.8M783.0 477.0q-0.3 -1.9 -0.8 -3.1M783.0 477.0q-0.3 -2.1 -1.7 -3.4M783.0 477.0q0.4 -2.6 -1.3 -4.3M784.5 477.0q0.1 -2.7 -0.6 -4.6M784.5 477.0q0.0 -1.3 -1.0 -2.2M786.0 477.0q-0.1 -1.9 -0.2 -3.2M786.0 477.0q0.6 -1.0 1.5 -1.6M786.0 477.0q-0.5 -2.5 -0.3 -4.2M786.0 477.0q-0.2 -1.7 1.4 -2.9M787.0 477.0q-0.6 -2.2 -1.6 -3.6M787.0 477.0q0.3 -1.3 -0.2 -2.2M787.0 477.0q-0.2 -1.4 -0.1 -2.3M787.0 477.0q-0.9 -1.6 -0.7 -2.6M788.4 477.0q0.4 -2.9 -0.0 -4.8M788.4 477.0q1.0 -1.5 1.2 -2.5M788.4 477.0q-0.5 -1.5 -0.8 -2.6M789.4 477.0q-0.3 -2.0 0.4 -3.4M789.4 477.0q0.2 -1.7 1.0 -2.9M790.2 477.0q0.3 -2.6 0.5 -4.3M790.2 477.0q-0.0 -2.7 -1.1 -4.5M790.2 477.0q0.0 -1.1 1.8 -1.8M790.2 477.0q-1.0 -1.8 -0.9 -2.9M791.3 477.0q0.0 -2.1 0.9 -3.5M791.3 477.0q0.2 -1.9 1.1 -3.2M791.3 477.0q1.0 -2.1 1.3 -3.5M791.3 477.0q-0.6 -1.6 -0.3 -2.6M792.1 477.0q0.4 -1.8 -0.9 -3.0M792.1 477.0q0.7 -2.6 0.0 -4.3M792.1 477.0q-0.5 -1.2 0.5 -1.9M793.4 477.0q0.7 -1.5 0.2 -2.4M793.4 477.0q0.5 -2.2 -0.2 -3.6M793.4 477.0q-0.5 -1.3 -1.5 -2.2M794.4 477.0q-1.0 -1.4 -1.6 -2.4M794.4 477.0q-1.0 -2.2 -1.3 -3.7M794.4 477.0q-0.5 -2.1 -1.7 -3.5M794.4 477.0q0.6 -1.6 0.8 -2.7M795.2 477.0q1.1 -3.1 1.2 -5.1M795.2 477.0q-0.6 -1.8 -1.2 -3.1M795.2 477.0q-0.2 -1.7 0.3 -2.9M795.2 477.0q-0.8 -1.6 -0.5 -2.7M795.9 477.0q0.8 -3.0 1.6 -5.0M795.9 477.0q0.2 -1.6 0.0 -2.7M795.9 477.0q-0.5 -2.8 -1.7 -4.7M796.8 477.0q0.0 -1.4 1.0 -2.3M796.8 477.0q-0.5 -2.9 0.5 -4.9M796.8 477.0q0.1 -2.7 -0.0 -4.5M796.8 477.0q0.5 -2.1 0.9 -3.6M798.2 477.0q-1.0 -1.6 -1.3 -2.7M798.2 477.0q0.1 -1.2 1.0 -2.0M798.2 477.0q-0.1 -2.0 0.7 -3.4M799.7 477.0q0.2 -1.5 0.6 -2.5M799.7 477.0q0.1 -2.4 -0.5 -4.0M800.4 477.0q-0.2 -2.8 0.3 -4.7M800.4 477.0q-0.2 -1.3 1.7 -2.1M801.4 477.0q-0.3 -1.2 -0.2 -2.0M801.4 477.0q-0.8 -1.7 -1.4 -2.9M802.7 477.0q0.7 -2.1 -0.1 -3.5M802.7 477.0q0.0 -3.1 0.7 -5.2M803.8 477.0q0.8 -2.1 1.7 -3.5M803.8 477.0q-0.1 -1.0 -0.0 -1.7M803.8 477.0q0.2 -1.9 -0.4 -3.1M805.0 477.0q-0.9 -2.2 -1.0 -3.6M805.0 477.0q-0.7 -1.4 -0.5 -2.4M805.0 477.0q-0.0 -1.6 1.5 -2.6M806.4 477.0q0.4 -2.2 1.1 -3.7M806.4 477.0q0.2 -3.0 0.2 -5.0M806.4 477.0q-0.0 -2.2 -1.0 -3.6M807.3 477.0q-0.2 -1.6 0.7 -2.6M807.3 477.0q-1.1 -1.9 -1.4 -3.2M807.3 477.0q0.1 -3.1 0.2 -5.1M807.3 477.0q-0.1 -1.5 -0.1 -2.4M808.3 477.0q0.6 -2.2 1.8 -3.6M808.3 477.0q-0.5 -2.5 -0.7 -4.1M808.3 477.0q-0.6 -3.1 0.3 -5.2M809.1 477.0q-0.4 -1.6 0.6 -2.7M809.1 477.0q0.2 -1.8 1.3 -2.9M809.1 477.0q-0.1 -1.8 -0.4 -2.9M809.1 477.0q-0.5 -3.0 -0.2 -5.0M810.2 477.0q-0.2 -0.8 1.1 -1.4M810.2 477.0q0.1 -2.9 -0.3 -4.8M810.2 477.0q1.0 -2.8 1.3 -4.6M810.2 477.0q1.1 -2.1 1.4 -3.5M811.0 477.0q-0.2 -1.8 -0.8 -3.0M811.0 477.0q0.5 -2.2 0.5 -3.7M812.1 477.0q-0.7 -1.2 -1.0 -2.0M812.1 477.0q-0.1 -2.2 0.8 -3.6M813.5 477.0q0.5 -2.6 -0.1 -4.4M813.5 477.0q-0.5 -1.8 -1.2 -3.1M814.7 477.0q-0.8 -1.7 -0.6 -2.9M814.7 477.0q-0.8 -1.4 -1.1 -2.3M815.6 477.0q0.5 -1.7 1.3 -2.8M815.6 477.0q1.0 -1.1 1.2 -1.9M816.5 477.0q-0.5 -2.9 -0.8 -4.8M816.5 477.0q-0.6 -1.1 -0.9 -1.8M816.5 477.0q-0.2 -2.1 -0.8 -3.4M817.2 477.0q-0.9 -1.9 -0.3 -3.2M817.2 477.0q-0.5 -1.6 -0.7 -2.7M818.0 477.0q0.3 -1.1 -1.3 -1.9M818.0 477.0q0.3 -3.1 -1.6 -5.1M818.0 477.0q0.7 -2.9 1.8 -4.8M819.2 477.0q0.5 -1.3 -0.6 -2.2M819.2 477.0q-0.7 -1.6 -1.1 -2.7M819.2 477.0q-0.7 -1.8 -0.3 -3.0M820.6 477.0q0.0 -1.2 -1.6 -2.0M820.6 477.0q0.8 -1.4 1.0 -2.4M821.3 477.0q0.0 -1.9 -1.0 -3.2M821.3 477.0q-0.5 -2.0 1.0 -3.3M822.6 477.0q0.3 -1.8 -1.6 -2.9M822.6 477.0q-0.5 -1.0 -0.5 -1.6M822.6 477.0q0.1 -1.8 0.3 -3.0" fill="none" stroke="#5a5a5a" stroke-width="0.28"/>
<path d="M749.1 473.7l-1.1 -0.7M750.0 473.2l0.5 -0.5M750.7 475.6l1.0 -0.1M751.3 475.8l-0.9 -0.8M752.7 476.4l-1.5 -0.7M753.5 474.0l-0.4 0.2M754.3 474.8l1.1 0.7M755.2 475.9l0.0 -0.7M756.0 475.7l1.0 -0.4M757.4 474.7l0.8 0.9M758.4 474.8l-0.6 0.6M758.9 476.3l1.4 0.2M759.5 475.2l-1.2 1.1M760.0 474.6l-1.3 -0.5M760.8 475.3l0.9 -0.9M762.0 475.1l1.5 0.3M762.9 473.5l0.1 0.6M763.7 473.1l-0.5 1.1M764.8 476.1l-1.3 -0.6M765.5 476.0l-0.2 -0.5M766.3 475.9l0.4 -0.7M767.1 476.4l-1.0 -0.8M767.8 472.8l-0.1 0.1M768.4 474.9l1.2 -0.4M769.4 474.2l-1.3 0.2M770.2 476.0l-1.4 -0.8M771.3 472.8l0.2 0.2M772.3 475.1l0.7 0.9M773.2 475.7l0.2 -1.1M774.1 474.4l-0.3 -1.0M775.2 474.8l0.5 -0.8M776.1 476.4l-0.4 -0.1M776.9 474.7l0.6 -0.7M777.6 474.7l-1.2 -0.7M778.2 473.3l0.4 -0.9M779.2 476.0l-0.6 1.0M780.4 476.2l1.0 -0.2M781.4 475.7l0.3 1.1M782.3 474.9l1.3 -0.8M783.6 473.0l-0.2 0.0M784.3 472.9l1.2 -0.1M785.3 474.7l-1.2 0.3M785.9 473.2l-1.0 -1.1M786.7 476.4l-1.1 0.0M787.7 476.2l1.3 -0.4M789.1 476.4l-0.4 0.9M790.0 473.0l0.9 -1.0M790.7 474.4l-0.7 0.2M791.9 475.3l-0.6 1.1M793.2 475.7l-1.4 -0.3M794.4 473.5l-0.5 -0.5M795.0 475.7l0.5 0.5M796.0 475.8l-1.1 1.0M796.5 473.1l-0.9 0.1M797.4 473.6l1.1 -0.6M798.4 474.4l0.8 -0.5M799.1 475.5l0.1 0.9M799.8 475.0l-0.8 -0.9M800.4 475.2l1.1 0.2M801.7 476.4l1.2 0.1M802.8 476.2l1.1 0.8M803.9 475.3l-0.5 0.0M804.9 475.1l-0.9 0.2M805.8 474.6l-1.0 0.5M806.8 473.2l-0.8 -0.4M807.9 475.9l0.1 -1.1M808.6 473.0l0.1 -1.1M809.1 476.4l-0.4 0.7M809.8 476.1l-0.9 0.6M810.9 473.3l0.5 -0.3M812.0 474.4l1.2 1.0M812.8 476.0l0.5 -0.1M813.9 475.3l-0.8 0.8M815.1 473.6l0.6 0.7M816.3 475.7l0.8 -0.7M816.9 474.1l-1.0 -1.1M818.2 474.6l0.9 0.7M818.7 476.0l0.3 1.0M819.9 475.7l1.3 -0.1M820.8 476.3l0.6 -1.2M821.6 474.9l-1.1 0.0M822.5 473.8l1.4 -0.8" fill="none" stroke="#666" stroke-width="0.32"/>
<line x1="750.60" y1="477.00" x2="821.80" y2="477.00" stroke="#444" stroke-width="0.6"/>
<line x1="750.60" y1="478.80" x2="821.80" y2="478.80" stroke="#666" stroke-width="0.6"/>
<line x1="750.60" y1="482.20" x2="821.80" y2="482.20" stroke="#666" stroke-width="0.6"/>
<path d="M749.1 492.2q1.1 -1.8 1.8 -3.0M749.1 492.2q-0.7 -2.3 -1.6 -3.9M750.2 492.2q-0.9 -2.4 -1.2 -4.0M750.2 492.2q0.3 -2.5 1.8 -4.1M750.9 492.2q-0.2 -1.1 0.0 -1.8M750.9 492.2q1.2 -2.2 1.5 -3.6M750.9 492.2q-0.0 -1.1 1.7 -1.9M750.9 492.2q0.2 -1.6 -1.2 -2.7M752.0 492.2q-0.7 -2.7 -1.0 -4.5M752.0 492.2q0.0 -1.1 -1.1 -1.8M752.0 492.2q-0.1 -2.0 -0.7 -3.4M752.0 492.2q0.1 -2.0 1.7 -3.3M753.5 492.2q0.0 -1.7 -0.2 -2.8M753.5 492.2q0.2 -2.5 -1.2 -4.2M753.5 492.2q-0.2 -2.5 -0.3 -4.2M754.3 492.2q0.3 -1.7 0.3 -2.8M754.3 492.2q0.3 -1.1 0.6 -1.8M754.3 492.2q1.2 -2.8 1.7 -4.7M755.1 492.2q-0.1 -2.0 1.2 -3.3M755.1 492.2q0.5 -2.6 1.5 -4.3M755.1 492.2q0.7 -1.7 1.1 -2.9M756.2 492.2q-0.4 -2.4 0.6 -4.0M756.2 492.2q-0.2 -2.1 -0.1 -3.4M757.4 492.2q-0.2 -1.6 0.2 -2.7M757.4 492.2q0.7 -2.6 0.4 -4.3M757.4 492.2q0.5 -2.1 0.1 -3.5M757.4 492.2q1.3 -1.2 1.7 -2.0M758.7 492.2q-0.1 -1.5 -1.4 -2.6M758.7 492.2q0.2 -2.8 -0.9 -4.7M759.6 492.2q0.5 -3.1 1.3 -5.1M759.6 492.2q-0.6 -1.4 -1.6 -2.3M760.6 492.2q0.8 -1.2 0.6 -2.0M760.6 492.2q-0.5 -1.9 -0.3 -3.1M760.6 492.2q0.3 -1.8 -1.6 -3.0M760.6 492.2q0.4 -2.6 1.5 -4.3M761.8 492.2q-0.2 -3.0 -0.2 -5.1M761.8 492.2q-0.2 -2.9 0.8 -4.8M761.8 492.2q-0.7 -1.1 -0.1 -1.8M761.8 492.2q1.1 -2.9 1.7 -4.8M763.1 492.2q-0.2 -2.1 1.2 -3.5M763.1 492.2q-1.1 -1.0 -1.2 -1.6M764.1 492.2q-0.3 -2.9 1.4 -4.9M764.1 492.2q0.7 -0.9 -0.1 -1.5M764.1 492.2q-0.1 -2.8 -0.4 -4.6M765.0 492.2q-0.2 -2.9 1.8 -4.8M765.0 492.2q-0.5 -1.2 -1.7 -2.1M765.0 492.2q0.7 -1.8 -0.1 -3.0M765.7 492.2q1.1 -0.9 1.7 -1.5M765.7 492.2q1.0 -1.4 1.4 -2.4M765.7 492.2q0.1 -1.6 0.4 -2.6M767.1 492.2q-0.3 -2.0 1.5 -3.4M767.1 492.2q-0.8 -1.8 -1.6 -3.0M768.4 492.2q0.2 -1.4 -1.1 -2.3M768.4 492.2q0.0 -1.4 -1.1 -2.4M769.6 492.2q-0.5 -2.4 -1.5 -4.0M769.6 492.2q-0.1 -1.5 1.0 -2.5M770.5 492.2q-0.4 -2.0 0.6 -3.3M770.5 492.2q-0.4 -1.3 0.7 -2.2M771.4 492.2q1.0 -1.4 1.4 -2.3M771.4 492.2q-0.1 -2.0 1.5 -3.4M771.4 492.2q0.9 -2.4 0.9 -4.0M771.4 492.2q-0.9 -2.0 -1.3 -3.4M772.5 492.2q0.0 -2.0 -1.3 -3.3M772.5 492.2q-0.4 -2.0 0.1 -3.4M773.8 492.2q-0.7 -2.3 -0.0 -3.9M773.8 492.2q-0.1 -1.8 -0.4 -3.0M773.8 492.2q-1.1 -1.3 -1.5 -2.1M773.8 492.2q1.3 -2.7 1.7 -4.5M774.6 492.2q0.1 -1.2 -0.9 -2.0M774.6 492.2q1.1 -1.4 1.8 -2.3M774.6 492.2q0.0 -2.0 0.7 -3.3M776.0 492.2q-0.6 -1.3 -0.5 -2.2M776.0 492.2q-0.3 -2.0 -1.0 -3.4M776.0 492.2q0.4 -1.5 -1.4 -2.5M777.4 492.2q0.1 -1.5 -0.2 -2.4M777.4 492.2q0.3 -2.9 -0.0 -4.9M777.4 492.2q-0.2 -2.2 0.9 -3.6M778.2 492.2q0.4 -2.1 -1.1 -3.5M778.2 492.2q0.4 -2.0 1.4 -3.3M779.5 492.2q0.5 -1.6 0.2 -2.7M779.5 492.2q-1.2 -1.3 -1.6 -2.1M780.8 492.2q0.2 -2.4 1.6 -4.0M780.8 492.2q-0.2 -1.5 1.0 -2.6M780.8 492.2q0.1 -0.9 0.4 -1.5M780.8 492.2q0.6 -1.9 0.4 -3.2M781.9 492.2q0.8 -1.7 0.7 -2.8M781.9 492.2q0.2 -2.3 -1.1 -3.8M781.9 492.2q0.8 -3.1 1.7 -5.1M783.4 492.2q-0.1 -2.8 1.7 -4.7M783.4 492.2q-0.4 -2.9 -0.5 -4.8M783.4 492.2q0.5 -1.0 1.0 -1.6M784.6 492.2q-0.5 -2.8 -1.5 -4.7M784.6 492.2q-1.0 -2.8 -0.8 -4.6M785.3 492.2q0.6 -2.1 1.3 -3.4M785.3 492.2q0.6 -1.9 0.0 -3.1M786.3 492.2q0.1 -1.7 -1.2 -2.8M786.3 492.2q0.9 -2.1 1.7 -3.4M786.3 492.2q0.5 -2.0 -0.8 -3.3M787.1 492.2q-1.1 -3.0 -1.3 -4.9M787.1 492.2q-0.6 -2.6 -0.7 -4.3M788.1 492.2q-0.2 -2.6 -0.8 -4.3M788.1 492.2q-0.2 -3.1 -0.9 -5.1M789.0 492.2q-0.8 -3.0 -1.1 -5.1M789.0 492.2q0.1 -1.8 -1.2 -3.0M789.0 492.2q-0.1 -2.8 0.8 -4.6M789.0 492.2q0.7 -1.8 1.0 -3.0M790.2 492.2q-0.2 -3.1 1.5 -5.1M790.2 492.2q-0.5 -2.0 0.8 -3.4M790.2 492.2q0.2 -2.1 0.0 -3.6M791.3 492.2q-0.1 -2.4 -0.0 -4.1M791.3 492.2q0.4 -3.0 1.3 -5.0M791.3 492.2q-0.5 -1.4 -1.3 -2.3M791.3 492.2q0.1 -2.3 1.7 -3.9M792.2 492.2q-0.3 -2.4 -0.7 -4.1M792.2 492.2q-0.0 -3.0 1.1 -5.1M792.2 492.2q0.1 -2.9 1.5 -4.9M792.2 492.2q0.3 -1.9 -1.4 -3.2M793.2 492.2q-0.5 -2.5 -1.0 -4.2M793.2 492.2q-0.1 -1.2 1.2 -2.0M794.6 492.2q-0.5 -1.3 -0.9 -2.1M794.6 492.2q0.5 -2.3 1.6 -3.8M795.4 492.2q0.4 -2.0 1.7 -3.3M795.4 492.2q0.5 -1.2 1.6 -1.9M796.2 492.2q-0.2 -1.0 1.8 -1.7M796.2 492.2q-0.6 -1.5 -1.3 -2.5M797.3 492.2q0.8 -1.1 0.3 -1.8M797.3 492.2q-0.3 -2.9 -1.3 -4.9M797.3 492.2q0.5 -1.6 -0.2 -2.7M797.3 492.2q0.3 -1.3 1.1 -2.2M798.4 492.2q0.1 -2.6 -0.6 -4.4M798.4 492.2q0.4 -2.2 -1.2 -3.7M798.4 492.2q0.5 -1.4 -0.6 -2.3M798.4 492.2q0.1 -3.1 0.8 -5.1M799.5 492.2q-0.9 -1.3 -1.1 -2.2M799.5 492.2q0.0 -2.3 0.4 -3.8M800.2 492.2q-0.2 -2.8 0.4 -4.7M800.2 492.2q0.7 -2.2 1.7 -3.7M801.0 492.2q-0.6 -2.7 -0.3 -4.5M801.0 492.2q-0.6 -1.6 -0.7 -2.6M801.0 492.2q0.2 -2.5 -0.5 -4.1M801.0 492.2q-0.1 -2.2 1.3 -3.6M801.8 492.2q-0.6 -2.4 -1.7 -4.0M801.8 492.2q0.7 -1.9 1.1 -3.2M801.8 492.2q-0.8 -2.7 -0.6 -4.5M801.8 492.2q-0.2 -2.7 1.3 -4.6M802.5 492.2q0.5 -2.3 0.6 -3.8M802.5 492.2q-0.1 -1.2 1.2 -2.1M802.5 492.2q-0.0 -2.4 -1.3 -3.9M802.5 492.2q1.0 -2.1 1.5 -3.5M803.6 492.2q-0.5 -1.9 -1.8 -3.2M803.6 492.2q0.4 -2.7 -1.0 -4.5M804.6 492.2q-0.9 -1.8 -0.7 -3.0M804.6 492.2q1.2 -2.5 1.5 -4.2M804.6 492.2q-0.7 -0.9 -1.7 -1.5M804.6 492.2q0.6 -1.7 1.0 -2.9M805.8 492.2q0.8 -2.1 0.5 -3.4M805.8 492.2q-0.9 -2.1 -1.7 -3.5M807.3 492.2q-0.3 -1.6 0.8 -2.7M807.3 492.2q0.4 -1.2 -0.2 -2.0M807.3 492.2q0.7 -2.0 0.6 -3.3M808.3 492.2q0.5 -1.7 -0.1 -2.8M808.3 492.2q0.6 -2.0 0.9 -3.4M808.3 492.2q-0.7 -0.9 -0.4 -1.5M808.3 492.2q-0.5 -1.5 -0.4 -2.5M809.1 492.2q0.6 -1.6 1.6 -2.7M809.1 492.2q0.6 -2.0 1.4 -3.4M810.0 492.2q-1.1 -1.6 -1.2 -2.7M810.0 492.2q0.3 -1.4 0.4 -2.4M810.0 492.2q0.2 -1.3 0.5 -2.2M810.0 492.2q-0.8 -1.2 -0.1 -2.0M811.2 492.2q-0.2 -0.9 0.9 -1.5M811.2 492.2q0.9 -2.3 1.7 -3.8M812.0 492.2q-0.7 -2.5 -1.7 -4.2M812.0 492.2q0.4 -1.2 -1.0 -1.9M812.0 492.2q0.4 -2.3 1.6 -3.9M813.3 492.2q-0.3 -2.7 0.1 -4.5M813.3 492.2q-1.1 -1.4 -1.5 -2.3M813.3 492.2q0.0 -1.7 0.3 -2.8M813.3 492.2q0.0 -2.9 0.3 -4.9M814.2 492.2q0.7 -1.9 -0.1 -3.2M814.2 492.2q0.5 -2.7 -0.3 -4.5M814.2 492.2q-0.7 -1.3 -0.9 -2.2M814.2 492.2q-0.9 -1.8 -1.1 -3.1M815.1 492.2q-0.8 -1.7 -1.0 -2.8M815.1 492.2q0.2 -2.4 0.3 -3.9M815.1 492.2q0.2 -1.2 -1.1 -2.0M816.0 492.2q-0.3 -1.7 0.2 -2.9M816.0 492.2q-0.8 -2.5 -1.7 -4.2M816.0 492.2q0.3 -1.4 -0.9 -2.3M816.9 492.2q-0.8 -1.4 -1.7 -2.4M816.9 492.2q0.4 -2.0 0.5 -3.3M816.9 492.2q-0.0 -1.8 -1.1 -3.0M816.9 492.2q0.2 -2.5 0.1 -4.2M818.3 492.2q-0.4 -2.2 -0.8 -3.7M818.3 492.2q-0.2 -2.9 0.1 -4.8M818.3 492.2q-0.7 -1.5 -1.7 -2.5M819.7 492.2q0.1 -2.3 -0.9 -3.9M819.7 492.2q-0.3 -1.3 -0.8 -2.1M819.7 492.2q-0.2 -2.8 1.0 -4.7M820.5 492.2q-0.3 -2.3 -0.4 -3.9M820.5 492.2q0.3 -2.8 -0.2 -4.7M820.5 492.2q0.2 -2.7 1.6 -4.6M820.5 492.2q0.3 -1.3 1.5 -2.1M821.2 492.2q-0.6 -1.6 -1.7 -2.7M821.2 492.2q-0.6 -3.0 0.3 -5.0M822.5 492.2q-0.2 -1.3 1.5 -2.2M822.5 492.2q0.1 -1.9 -0.1 -3.1M822.5 492.2q-0.7 -0.9 -1.3 -1.5M823.3 492.2q0.2 -1.2 -1.6 -2.0M823.3 492.2q-0.7 -2.9 0.1 -4.8" fill="none" stroke="#5a5a5a" stroke-width="0.28"/>
<path d="M749.1 490.5l0.2 0.2M750.3 489.9l0.8 0.5M751.0 488.4l1.2 -1.0M751.8 489.2l1.1 0.3M752.4 488.4l-1.1 -0.3M753.4 489.2l-0.7 -1.0M754.5 488.6l-0.5 -0.8M755.8 491.6l-0.0 0.1M756.6 488.6l-0.3 -0.5M757.4 491.0l-0.4 0.8M758.4 488.8l0.6 0.6M759.7 490.3l0.3 -1.0M760.5 490.8l0.4 0.1M761.5 491.1l-1.1 -1.1M762.0 489.1l0.1 0.3M763.3 489.2l1.2 0.7M764.3 489.4l0.7 0.6M765.4 488.8l0.8 1.1M766.6 490.6l-0.8 0.0M767.7 491.4l-0.3 0.3M768.9 491.2l-0.2 -1.1M769.6 490.2l-0.2 1.1M770.3 488.9l-0.7 -1.0M771.4 489.5l1.1 0.0M772.2 488.2l0.9 -0.5M773.3 489.8l0.3 0.8M774.2 490.7l-1.4 0.0M775.4 491.1l1.5 0.9M776.7 491.3l-1.2 0.2M777.8 489.0l-0.7 0.9M778.5 489.6l-0.4 -0.7M779.3 488.8l1.0 1.1M780.2 488.0l-0.0 -0.1M781.3 491.4l0.1 -0.4M782.5 490.4l-0.5 0.7M783.8 491.5l-0.4 -0.4M784.6 490.3l-0.1 -0.6M785.8 489.4l-1.0 -0.6M786.3 489.4l0.3 0.4M787.2 491.2l-1.4 -0.1M787.8 489.2l-0.9 -1.2M788.4 491.3l1.2 -0.8M789.3 488.0l-0.5 0.2M790.0 488.4l0.4 -0.2M791.0 490.9l1.0 0.1M792.2 489.6l-0.2 0.8M793.0 488.6l-0.2 -1.2M794.3 490.8l0.9 -0.9M795.6 489.2l0.3 0.0M796.2 488.8l1.3 0.5M797.2 488.9l0.3 -0.4M797.9 491.0l-0.6 -0.4M799.0 488.2l-0.2 1.0M800.4 490.8l-0.6 0.8M801.1 491.1l-1.1 0.6M802.5 490.9l-1.3 0.1M803.3 488.1l0.5 0.2M804.2 488.2l-0.2 -0.5M805.5 489.3l-0.8 0.9M806.0 491.4l1.0 -0.8M807.2 490.1l0.3 -0.7M808.2 489.0l-0.0 -1.0M809.5 488.2l-0.0 -0.4M810.6 488.9l0.8 0.8M811.1 490.3l1.1 0.6M812.0 489.3l0.1 -1.1M812.5 489.6l-0.5 -0.7M813.6 491.1l0.2 -0.8M814.3 490.3l1.0 0.3M815.1 488.2l-1.2 0.3M816.1 489.5l0.0 -1.1M817.1 488.9l1.2 0.2M818.0 491.4l-1.5 -0.8M818.6 491.1l-1.4 -0.6M819.2 491.5l-1.4 -0.8M820.4 490.6l-0.8 0.4M821.7 488.9l-0.4 -0.7M822.9 491.1l-1.1 1.1" fill="none" stroke="#666" stroke-width="0.32"/>
<line x1="750.60" y1="492.20" x2="821.80" y2="492.20" stroke="#444" stroke-width="0.6"/>
<line x1="750.60" y1="494.00" x2="821.80" y2="494.00" stroke="#666" stroke-width="0.6"/>
<line x1="750.60" y1="497.40" x2="821.80" y2="497.40" stroke="#666" stroke-width="0.6"/>
<path d="M749.1 507.6q-0.5 -1.6 -0.9 -2.7M749.1 507.6q0.2 -1.3 -1.4 -2.1M749.1 507.6q-0.5 -2.1 -1.0 -3.5M749.1 507.6q0.8 -2.0 1.6 -3.4M750.0 507.6q0.5 -2.1 1.1 -3.5M750.0 507.6q0.1 -2.7 -0.4 -4.4M750.0 507.6q-0.4 -1.3 -0.4 -2.1M751.0 507.6q-0.3 -1.7 0.2 -2.8M751.0 507.6q-0.4 -1.7 -1.4 -2.9M751.7 507.6q0.6 -2.0 0.3 -3.4M751.7 507.6q0.1 -1.2 0.1 -2.0M751.7 507.6q0.4 -1.4 1.1 -2.3M751.7 507.6q-0.4 -1.2 -0.3 -2.0M752.7 507.6q0.4 -1.0 0.7 -1.7M752.7 507.6q-0.1 -1.4 0.8 -2.4M752.7 507.6q-0.2 -1.6 1.5 -2.6M753.7 507.6q-0.2 -1.5 1.1 -2.6M753.7 507.6q-0.1 -2.9 0.7 -4.8M755.0 507.6q-0.2 -1.8 0.4 -3.0M755.0 507.6q0.2 -1.4 -0.4 -2.3M755.0 507.6q0.2 -2.9 -1.7 -4.8M755.0 507.6q0.1 -2.0 -0.3 -3.4M756.0 507.6q0.1 -3.0 -1.6 -5.0M756.0 507.6q1.1 -1.4 1.3 -2.4M756.0 507.6q0.5 -1.7 -1.0 -2.9M756.0 507.6q-0.2 -2.0 1.3 -3.3M757.4 507.6q-0.1 -0.9 1.4 -1.4M757.4 507.6q-0.4 -1.3 -1.7 -2.2M757.4 507.6q0.9 -1.5 0.6 -2.5M758.7 507.6q0.6 -2.0 0.5 -3.3M758.7 507.6q-0.3 -2.4 -0.6 -4.0M758.7 507.6q0.4 -2.6 1.6 -4.3M758.7 507.6q0.4 -1.5 1.3 -2.6M759.9 507.6q-0.2 -1.6 -0.9 -2.6M759.9 507.6q0.4 -2.1 0.7 -3.6M759.9 507.6q-0.9 -1.8 -1.8 -2.9M760.8 507.6q0.1 -2.1 1.4 -3.5M760.8 507.6q-0.5 -2.4 -1.8 -4.0M760.8 507.6q-0.6 -2.3 -1.5 -3.8M762.1 507.6q-0.5 -2.1 -1.7 -3.5M762.1 507.6q0.0 -3.0 0.6 -5.0M763.0 507.6q0.2 -1.0 -0.6 -1.7M763.0 507.6q-0.7 -1.9 -0.6 -3.2M763.0 507.6q0.1 -2.6 1.5 -4.4M763.0 507.6q0.3 -1.4 1.7 -2.4M764.3 507.6q-0.5 -1.0 0.7 -1.6M764.3 507.6q-0.8 -2.0 -1.5 -3.4M764.3 507.6q0.4 -2.4 -0.1 -4.0M764.3 507.6q0.9 -1.3 0.3 -2.2M765.1 507.6q0.7 -2.1 -0.2 -3.5M765.1 507.6q0.9 -1.1 1.7 -1.9M765.1 507.6q-0.1 -1.2 0.9 -2.0M765.8 507.6q-1.1 -1.5 -1.6 -2.6M765.8 507.6q0.6 -2.6 0.4 -4.4M766.9 507.6q-0.9 -1.0 -1.7 -1.7M766.9 507.6q-0.0 -2.0 -1.4 -3.3M766.9 507.6q0.1 -1.5 1.8 -2.6M766.9 507.6q-0.6 -2.3 -1.1 -3.9M768.0 507.6q0.4 -2.2 0.7 -3.7M768.0 507.6q0.0 -2.3 0.4 -3.8M769.1 507.6q-0.4 -1.3 -1.5 -2.2M769.1 507.6q0.0 -2.1 -0.2 -3.4M770.3 507.6q-0.2 -1.3 1.1 -2.2M770.3 507.6q-0.3 -2.5 -1.7 -4.1M770.3 507.6q0.4 -1.9 0.9 -3.1M771.5 507.6q-0.2 -1.5 0.7 -2.4M771.5 507.6q-0.5 -3.0 -0.7 -5.0M771.5 507.6q0.0 -1.7 -0.3 -2.8M772.8 507.6q1.2 -2.8 1.6 -4.7M772.8 507.6q-1.0 -1.5 -1.6 -2.5M772.8 507.6q-0.9 -1.5 -0.7 -2.4M774.1 507.6q0.1 -3.0 -0.3 -5.0M774.1 507.6q0.0 -2.1 -0.8 -3.4M774.1 507.6q0.1 -1.5 1.3 -2.6M774.1 507.6q-0.0 -1.4 0.6 -2.3M775.1 507.6q0.1 -2.5 -1.0 -4.1M775.1 507.6q-0.4 -2.4 -0.9 -4.1M776.5 507.6q-0.1 -1.7 0.8 -2.9M776.5 507.6q-0.1 -1.9 1.7 -3.1M776.5 507.6q0.5 -2.9 1.6 -4.8M777.2 507.6q-1.1 -3.0 -1.4 -5.1M777.2 507.6q-0.3 -1.6 -0.8 -2.6M777.2 507.6q0.2 -1.4 1.5 -2.4M778.6 507.6q0.3 -2.7 -0.5 -4.6M778.6 507.6q-0.3 -2.3 -1.0 -3.9M779.9 507.6q0.7 -2.2 0.0 -3.7M779.9 507.6q0.9 -3.1 1.4 -5.1M779.9 507.6q-0.8 -1.8 -0.7 -3.0M780.7 507.6q-0.4 -2.5 -0.8 -4.1M780.7 507.6q0.3 -1.4 0.1 -2.4M781.5 507.6q-0.9 -2.5 -0.9 -4.2M781.5 507.6q-0.8 -1.5 -1.6 -2.6M781.5 507.6q0.4 -2.3 0.5 -3.9M782.4 507.6q-0.3 -2.6 1.4 -4.3M782.4 507.6q-0.0 -2.8 -1.0 -4.7M783.3 507.6q0.4 -1.5 0.3 -2.5M783.3 507.6q0.4 -1.5 1.0 -2.5M784.3 507.6q-0.5 -1.8 -1.1 -3.0M784.3 507.6q0.3 -1.9 0.3 -3.1M784.3 507.6q0.0 -1.3 -1.3 -2.1M784.3 507.6q-0.9 -2.9 -1.4 -4.8M785.3 507.6q0.2 -1.6 -0.5 -2.7M785.3 507.6q-0.3 -1.5 0.1 -2.5M785.3 507.6q-0.5 -1.4 -0.1 -2.4M786.6 507.6q0.8 -1.8 0.6 -3.0M786.6 507.6q0.9 -2.5 0.8 -4.2M787.8 507.6q0.1 -1.3 1.0 -2.2M787.8 507.6q1.2 -1.9 1.7 -3.2M787.8 507.6q1.1 -1.4 1.2 -2.3M788.5 507.6q-0.2 -1.8 1.5 -3.0M788.5 507.6q0.3 -1.5 -1.5 -2.5M788.5 507.6q0.6 -0.9 -0.1 -1.5M788.5 507.6q-0.1 -2.6 -1.3 -4.3M789.9 507.6q0.4 -2.9 1.1 -4.9M789.9 507.6q0.7 -1.3 1.3 -2.2M789.9 507.6q-0.3 -3.0 -0.7 -5.0M789.9 507.6q0.3 -1.3 -0.5 -2.2M791.0 507.6q0.4 -2.7 0.2 -4.5M791.0 507.6q-0.0 -2.8 -0.7 -4.6M791.0 507.6q0.9 -1.4 0.7 -2.4M791.0 507.6q-0.7 -1.6 -0.9 -2.7M792.4 507.6q-0.5 -0.9 -0.6 -1.5M792.4 507.6q0.9 -2.7 0.4 -4.5M793.4 507.6q0.0 -1.9 -1.4 -3.2M793.4 507.6q0.3 -1.5 1.6 -2.5M793.4 507.6q-0.1 -1.8 -0.8 -3.0M793.4 507.6q0.1 -2.8 1.6 -4.6M794.5 507.6q0.1 -1.5 1.1 -2.5M794.5 507.6q0.1 -1.2 -1.6 -2.0M795.9 507.6q-0.1 -2.6 -0.7 -4.3M795.9 507.6q-0.1 -2.1 -1.0 -3.6M795.9 507.6q0.7 -1.7 1.4 -2.9M795.9 507.6q-0.4 -2.6 0.6 -4.3M797.2 507.6q0.3 -1.7 -1.1 -2.8M797.2 507.6q0.0 -3.0 1.5 -4.9M798.6 507.6q0.3 -2.7 1.1 -4.5M798.6 507.6q-0.7 -3.0 -0.6 -5.1M798.6 507.6q0.3 -2.6 -1.2 -4.4M799.8 507.6q0.3 -2.3 -0.0 -3.8M799.8 507.6q-0.3 -2.1 1.2 -3.5M799.8 507.6q-0.4 -1.9 -0.7 -3.1M800.8 507.6q0.0 -2.0 1.7 -3.4M800.8 507.6q-0.6 -2.0 -1.8 -3.3M800.8 507.6q0.8 -2.7 0.8 -4.6M802.3 507.6q0.5 -1.8 0.9 -3.1M802.3 507.6q-0.6 -2.1 -1.1 -3.6M802.3 507.6q0.4 -3.1 -0.5 -5.1M803.1 507.6q0.6 -1.8 1.1 -2.9M803.1 507.6q0.2 -1.6 0.7 -2.7M804.3 507.6q0.1 -2.9 -0.8 -4.8M804.3 507.6q-0.6 -3.1 -1.0 -5.1M805.2 507.6q-0.3 -2.4 0.5 -4.0M805.2 507.6q-0.4 -2.8 -1.0 -4.7M806.6 507.6q0.4 -1.7 -0.5 -2.8M806.6 507.6q0.5 -2.1 0.8 -3.5M807.4 507.6q0.4 -2.2 0.7 -3.6M807.4 507.6q0.4 -2.1 1.4 -3.4M807.4 507.6q-0.9 -2.2 -0.8 -3.7M807.4 507.6q0.1 -2.7 -0.5 -4.6M808.9 507.6q-0.0 -1.0 1.5 -1.6M808.9 507.6q-0.1 -2.3 1.5 -3.9M808.9 507.6q-0.3 -1.8 0.1 -3.1M808.9 507.6q-0.8 -1.9 -0.7 -3.2M810.0 507.6q-0.2 -1.9 0.4 -3.2M810.0 507.6q-0.1 -2.0 -0.7 -3.4M810.0 507.6q0.2 -2.6 0.9 -4.4M810.0 507.6q0.5 -2.7 0.3 -4.5M811.0 507.6q-0.7 -2.9 0.0 -4.8M811.0 507.6q0.5 -2.5 0.6 -4.2M811.0 507.6q-0.3 -2.4 -1.7 -3.9M811.0 507.6q0.3 -1.5 0.4 -2.4M812.0 507.6q0.4 -1.0 1.7 -1.7M812.0 507.6q0.7 -1.3 0.9 -2.2M812.0 507.6q-0.9 -1.9 -0.4 -3.1M812.0 507.6q1.1 -1.3 1.6 -2.2M813.4 507.6q-0.4 -1.1 0.9 -1.9M813.4 507.6q1.1 -1.4 1.2 -2.4M813.4 507.6q-0.2 -2.4 1.1 -4.0M814.6 507.6q0.2 -1.8 -0.5 -3.0M814.6 507.6q-0.2 -1.4 1.2 -2.3M815.7 507.6q-0.2 -1.7 -0.1 -2.8M815.7 507.6q-0.1 -1.9 -0.4 -3.2M815.7 507.6q0.1 -3.1 -1.4 -5.1M815.7 507.6q0.1 -1.4 1.2 -2.3M816.9 507.6q0.5 -1.5 1.4 -2.5M816.9 507.6q-0.2 -1.8 0.7 -3.0M817.9 507.6q-0.5 -1.5 0.2 -2.6M817.9 507.6q-0.0 -1.9 0.1 -3.1M819.1 507.6q0.8 -1.9 -0.0 -3.2M819.1 507.6q-0.6 -1.5 -0.3 -2.5M819.1 507.6q0.4 -1.7 0.2 -2.8M819.8 507.6q0.5 -2.0 1.6 -3.4M819.8 507.6q0.4 -1.7 -0.4 -2.8M819.8 507.6q-0.1 -2.9 -1.2 -4.9M820.8 507.6q-0.3 -2.1 -1.7 -3.5M820.8 507.6q0.3 -1.8 -1.0 -3.0M820.8 507.6q-0.5 -2.7 0.3 -4.5M821.9 507.6q1.0 -1.8 1.8 -3.1M821.9 507.6q-0.1 -2.1 0.7 -3.5M821.9 507.6q0.6 -1.8 0.4 -3.0M823.2 507.6q-0.9 -2.8 -1.7 -4.7M823.2 507.6q1.1 -2.4 1.8 -4.0" fill="none" stroke="#5a5a5a" stroke-width="0.28"/>
<path d="M749.1 503.6l0.1 0.3M749.8 506.3l-0.6 1.1M750.5 503.4l1.2 -0.9M751.8 503.9l1.4 -0.6M753.2 504.6l1.2 0.7M754.1 507.1l0.7 0.1M755.2 505.4l1.0 -0.4M756.3 504.8l0.4 0.7M757.3 506.5l-1.2 -0.8M758.4 504.4l0.3 0.6M759.7 506.0l1.4 0.1M760.9 506.7l0.5 0.1M762.1 503.6l1.1 0.5M762.8 504.8l-1.0 -0.2M764.1 504.0l1.5 0.8M764.7 505.8l0.4 1.1M765.5 506.7l0.2 0.1M766.6 504.4l-0.8 -0.5M767.3 504.5l-0.6 0.4M768.2 504.4l0.2 1.1M769.1 507.0l0.3 -0.5M770.4 505.4l-1.4 0.6M771.5 504.6l-1.1 0.2M772.0 506.7l-0.2 0.8M773.2 505.5l0.2 -0.9M774.2 504.0l-0.6 1.1M774.9 504.0l-0.8 -0.3M775.7 506.1l-0.5 0.1M776.5 506.5l-0.6 0.6M777.1 506.7l0.5 0.8M778.1 505.1l-0.4 0.3M778.9 505.8l1.2 1.2M779.5 506.0l-1.5 0.9M780.7 506.3l1.3 0.4M781.4 504.0l0.5 0.8M781.9 503.7l1.3 1.0M782.7 503.9l-0.7 0.0M783.3 505.2l-1.0 1.2M783.9 504.0l0.4 0.1M784.7 506.7l0.7 -1.1M785.2 506.7l-1.4 -0.1M786.3 506.5l-0.6 -0.6M787.3 504.6l-0.1 0.9M787.9 505.5l-0.4 0.4M788.5 504.5l1.1 -0.3M789.9 505.7l-0.3 1.0M791.3 503.8l-1.4 0.4M791.9 505.8l0.6 -0.6M793.1 505.9l0.5 -0.5M794.4 505.0l-0.9 0.8M795.7 503.8l0.7 0.8M796.5 503.5l0.0 -0.1M797.1 503.8l1.4 -0.1M798.0 506.6l-1.1 -0.8M799.2 506.7l0.1 0.4M800.2 504.6l-0.1 -0.1M801.5 505.8l0.9 -1.0M802.1 504.0l1.4 -0.1M802.7 505.9l-0.3 -1.1M803.8 506.4l-0.7 -0.3M804.9 504.8l-0.2 -0.6M805.6 504.4l-0.2 -0.5M806.2 505.8l0.2 0.6M806.7 504.3l0.3 -1.1M807.5 505.7l-0.8 0.9M808.3 506.9l-0.2 -0.5M809.5 506.7l0.8 0.3M810.7 503.7l0.6 0.2M811.3 504.4l-0.5 0.0M812.3 505.8l1.3 -0.4M812.8 505.1l-0.5 0.4M813.4 505.6l0.9 1.1M814.1 503.7l0.6 -0.6M815.4 504.2l-0.1 1.0M816.3 505.0l0.2 1.0M817.1 506.7l1.0 -0.3M817.9 504.7l0.4 -0.4M819.1 505.7l1.4 1.1M820.0 503.6l-0.5 0.0M821.3 504.4l-1.3 0.8M822.6 506.2l-0.9 0.9" fill="none" stroke="#666" stroke-width="0.32"/>
<line x1="750.60" y1="507.60" x2="821.80" y2="507.60" stroke="#444" stroke-width="0.6"/>
<line x1="750.60" y1="509.40" x2="821.80" y2="509.40" stroke="#666" stroke-width="0.6"/>
<line x1="750.60" y1="512.80" x2="821.80" y2="512.80" stroke="#666" stroke-width="0.6"/>
<path d="M749.1 523.0q0.7 -1.5 0.4 -2.5M749.1 523.0q0.3 -1.3 0.8 -2.2M749.1 523.0q-0.6 -2.4 -0.4 -3.9M750.5 523.0q0.5 -2.9 0.3 -4.8M750.5 523.0q0.5 -2.6 1.3 -4.4M750.5 523.0q0.0 -1.7 1.7 -2.9M750.5 523.0q-0.5 -2.9 -0.6 -4.8M751.5 523.0q-0.4 -1.9 -0.7 -3.2M751.5 523.0q-0.5 -1.7 0.4 -2.8M751.5 523.0q0.7 -1.4 0.7 -2.4M752.2 523.0q-0.6 -1.6 0.6 -2.7M752.2 523.0q-0.2 -0.9 1.7 -1.5M752.2 523.0q-0.9 -2.9 -1.3 -4.9M753.3 523.0q-0.2 -1.3 -0.1 -2.2M753.3 523.0q-0.6 -1.3 0.1 -2.1M753.3 523.0q0.1 -1.7 -1.5 -2.8M754.3 523.0q-0.2 -1.5 0.3 -2.5M754.3 523.0q1.0 -1.9 1.6 -3.1M754.3 523.0q-0.1 -2.6 0.6 -4.4M755.6 523.0q-0.3 -2.6 0.6 -4.3M755.6 523.0q-0.4 -1.4 0.6 -2.4M755.6 523.0q-0.4 -2.1 0.7 -3.5M756.7 523.0q-0.3 -3.1 0.1 -5.2M756.7 523.0q-0.6 -1.1 -1.4 -1.8M756.7 523.0q-0.0 -1.5 1.3 -2.5M757.7 523.0q-0.7 -2.3 -1.0 -3.9M757.7 523.0q-0.2 -0.9 -1.1 -1.5M757.7 523.0q0.3 -2.0 0.2 -3.4M759.0 523.0q0.8 -2.5 0.4 -4.2M759.0 523.0q0.1 -2.6 1.8 -4.4M759.8 523.0q-1.0 -2.9 -1.1 -4.8M759.8 523.0q0.5 -2.0 1.7 -3.3M759.8 523.0q-0.3 -1.0 1.4 -1.6M759.8 523.0q0.4 -1.1 -0.2 -1.8M760.7 523.0q0.2 -1.3 1.5 -2.2M760.7 523.0q-0.8 -2.1 -1.6 -3.4M760.7 523.0q-0.3 -1.0 -0.9 -1.6M760.7 523.0q0.3 -2.0 -1.5 -3.3M761.8 523.0q-0.3 -1.4 -0.5 -2.4M761.8 523.0q0.6 -1.4 1.5 -2.4M761.8 523.0q-0.6 -3.1 -1.3 -5.1M762.6 523.0q0.2 -2.1 -0.3 -3.5M762.6 523.0q-0.6 -1.9 -0.5 -3.2M762.6 523.0q-0.9 -1.6 -1.2 -2.7M764.0 523.0q-0.6 -1.1 -0.4 -1.8M764.0 523.0q0.0 -1.5 1.4 -2.6M764.8 523.0q-0.1 -2.1 -0.8 -3.4M764.8 523.0q0.5 -2.0 1.0 -3.4M764.8 523.0q0.3 -3.0 -0.8 -5.1M766.2 523.0q1.1 -3.0 1.2 -4.9M766.2 523.0q0.9 -2.1 0.9 -3.6M766.2 523.0q-0.4 -1.6 -1.3 -2.7M766.2 523.0q0.4 -2.0 1.2 -3.4M767.5 523.0q-0.6 -1.2 -1.4 -2.0M767.5 523.0q0.3 -1.9 0.6 -3.1M768.5 523.0q0.3 -2.9 -1.4 -4.8M768.5 523.0q0.5 -0.9 0.3 -1.4M768.5 523.0q-0.3 -1.5 -1.7 -2.4M769.8 523.0q-0.4 -1.9 0.4 -3.2M769.8 523.0q-0.1 -1.7 1.2 -2.8M769.8 523.0q-0.2 -1.9 -0.2 -3.2M769.8 523.0q-0.5 -3.0 0.3 -5.0M771.3 523.0q-0.2 -1.7 -1.3 -2.9M771.3 523.0q0.6 -1.9 -0.2 -3.2M771.3 523.0q0.6 -2.1 0.8 -3.5M771.3 523.0q0.1 -1.0 1.1 -1.6M772.2 523.0q1.0 -2.2 1.5 -3.7M772.2 523.0q-0.4 -2.1 0.3 -3.5M773.3 523.0q0.3 -2.4 -0.1 -4.0M773.3 523.0q-0.7 -2.3 -1.0 -3.9M773.3 523.0q0.8 -1.0 1.0 -1.7M773.3 523.0q0.2 -2.6 -1.7 -4.3M774.4 523.0q-0.3 -2.8 -0.9 -4.7M774.4 523.0q0.0 -2.1 0.1 -3.5M774.4 523.0q-0.6 -2.8 -1.4 -4.7M774.4 523.0q0.6 -1.0 -0.1 -1.6M775.8 523.0q-0.4 -2.9 -0.6 -4.8M775.8 523.0q0.1 -2.1 0.8 -3.6M775.8 523.0q-0.9 -2.2 -1.2 -3.7M775.8 523.0q0.5 -1.1 -0.5 -1.9M776.5 523.0q-0.2 -2.4 -1.3 -4.0M776.5 523.0q-0.6 -2.0 -1.1 -3.3M778.0 523.0q0.8 -1.6 0.3 -2.6M778.0 523.0q-0.0 -2.8 -0.5 -4.7M778.0 523.0q0.5 -1.9 -0.6 -3.2M779.0 523.0q-0.2 -2.8 0.8 -4.7M779.0 523.0q-0.9 -2.3 -1.2 -3.8M780.3 523.0q-0.1 -2.3 1.1 -3.8M780.3 523.0q-0.4 -2.8 1.1 -4.7M781.1 523.0q0.4 -2.9 1.3 -4.8M781.1 523.0q0.4 -1.5 -0.2 -2.5M781.1 523.0q0.5 -1.2 0.6 -2.0M781.8 523.0q-0.6 -1.5 -0.6 -2.4M781.8 523.0q-0.0 -1.8 0.9 -3.0M781.8 523.0q-0.4 -1.2 -0.1 -2.0M783.1 523.0q-0.8 -1.8 -0.5 -3.0M783.1 523.0q-0.7 -2.6 -1.2 -4.4M784.2 523.0q0.4 -2.5 -0.5 -4.2M784.2 523.0q-0.3 -1.2 1.2 -1.9M784.2 523.0q0.0 -2.4 -1.1 -4.0M785.1 523.0q-1.3 -2.3 -1.8 -3.9M785.1 523.0q-0.4 -2.1 -0.4 -3.4M785.1 523.0q0.1 -1.7 -0.9 -2.8M786.2 523.0q0.2 -1.2 0.4 -2.1M786.2 523.0q0.1 -3.1 0.1 -5.1M786.2 523.0q0.8 -2.1 0.3 -3.5M786.2 523.0q-0.4 -1.2 -0.6 -2.0M787.0 523.0q0.6 -1.4 -0.4 -2.4M787.0 523.0q-0.8 -2.5 -1.3 -4.2M787.0 523.0q0.2 -2.6 0.8 -4.3M787.0 523.0q0.0 -1.1 -0.1 -1.8M788.0 523.0q-0.8 -1.6 -0.5 -2.6M788.0 523.0q-0.5 -1.6 -1.2 -2.6M788.9 523.0q0.0 -1.7 -0.2 -2.8M788.9 523.0q-0.2 -1.3 1.5 -2.2M788.9 523.0q-0.9 -0.9 -1.1 -1.6M789.7 523.0q0.1 -2.3 0.5 -3.8M789.7 523.0q-0.2 -3.0 0.7 -5.1M790.8 523.0q0.5 -2.9 -0.9 -4.8M790.8 523.0q-0.1 -1.8 -1.5 -2.9M790.8 523.0q-0.2 -1.3 1.7 -2.2M792.0 523.0q-1.1 -2.2 -1.0 -3.6M792.0 523.0q-0.2 -2.8 -0.6 -4.7M793.3 523.0q1.2 -2.0 1.6 -3.3M793.3 523.0q-0.7 -1.6 -1.5 -2.6M794.2 523.0q-0.6 -2.3 0.2 -3.8M794.2 523.0q-0.8 -2.5 -0.8 -4.2M795.3 523.0q0.0 -1.9 1.3 -3.1M795.3 523.0q0.4 -1.9 -0.6 -3.2M796.0 523.0q0.7 -1.9 -0.4 -3.1M796.0 523.0q1.0 -1.9 1.5 -3.2M796.8 523.0q-0.6 -1.7 -0.7 -2.9M796.8 523.0q-0.2 -1.8 -1.8 -3.0M796.8 523.0q-0.6 -1.5 -0.3 -2.5M796.8 523.0q0.7 -1.6 0.1 -2.6M797.6 523.0q-0.7 -2.3 -1.4 -3.8M797.6 523.0q-0.4 -2.3 -0.4 -3.8M797.6 523.0q0.5 -2.6 1.7 -4.3M797.6 523.0q0.0 -1.3 0.6 -2.1M798.7 523.0q-0.5 -1.0 0.6 -1.6M798.7 523.0q0.3 -1.0 1.0 -1.6M798.7 523.0q-0.5 -1.1 -0.7 -1.9M800.0 523.0q0.1 -1.3 -1.3 -2.2M800.0 523.0q-0.4 -2.9 1.0 -4.9M800.0 523.0q0.9 -2.5 0.9 -4.2M800.7 523.0q-0.3 -2.5 0.2 -4.1M800.7 523.0q0.9 -2.1 1.1 -3.5M800.7 523.0q0.7 -2.6 1.0 -4.4M802.2 523.0q0.6 -2.9 -0.5 -4.8M802.2 523.0q0.5 -2.2 1.1 -3.7M803.3 523.0q-0.8 -2.5 -1.7 -4.1M803.3 523.0q0.0 -2.7 -1.4 -4.5M804.6 523.0q0.7 -1.1 1.5 -1.8M804.6 523.0q0.7 -2.9 -0.3 -4.9M805.8 523.0q-1.1 -1.9 -1.5 -3.2M805.8 523.0q-0.3 -3.0 -1.7 -4.9M807.2 523.0q0.1 -1.7 -1.2 -2.9M807.2 523.0q0.6 -2.8 1.4 -4.6M808.4 523.0q-0.5 -2.5 -1.2 -4.1M808.4 523.0q-0.9 -1.5 -1.0 -2.5M808.4 523.0q-0.4 -2.0 1.1 -3.3M808.4 523.0q-0.5 -2.9 0.6 -4.8M809.4 523.0q0.0 -1.5 -0.8 -2.4M809.4 523.0q-0.1 -2.9 1.2 -4.8M809.4 523.0q0.1 -2.5 -0.4 -4.1M809.4 523.0q-0.2 -2.1 0.5 -3.5M810.4 523.0q0.6 -2.6 1.6 -4.4M810.4 523.0q0.9 -1.4 1.5 -2.4M811.8 523.0q0.1 -1.9 0.3 -3.2M811.8 523.0q-0.4 -2.0 -1.1 -3.4M811.8 523.0q-0.4 -1.3 0.5 -2.2M811.8 523.0q-0.4 -2.9 0.8 -4.9M812.8 523.0q0.9 -1.1 0.5 -1.8M812.8 523.0q0.8 -3.0 0.3 -5.0M814.1 523.0q-0.6 -1.8 -1.8 -3.0M814.1 523.0q-0.7 -2.8 -0.3 -4.6M814.1 523.0q0.0 -1.3 0.9 -2.1M814.1 523.0q-1.0 -1.8 -1.1 -2.9M815.4 523.0q0.0 -2.7 0.6 -4.5M815.4 523.0q-0.1 -1.5 1.7 -2.5M815.4 523.0q-0.9 -2.0 -1.6 -3.3M816.6 523.0q-0.3 -1.4 -1.2 -2.3M816.6 523.0q0.2 -2.9 1.7 -4.8M816.6 523.0q0.3 -1.2 1.0 -2.0M816.6 523.0q-1.0 -2.5 -1.2 -4.1M817.5 523.0q-0.3 -0.9 0.4 -1.6M817.5 523.0q-0.6 -1.6 0.7 -2.7M819.0 523.0q-0.8 -2.9 -1.6 -4.8M819.0 523.0q-0.1 -1.4 -0.9 -2.3M819.0 523.0q-0.7 -1.4 -0.1 -2.3M819.0 523.0q1.0 -2.6 1.4 -4.3M819.8 523.0q0.4 -1.6 -1.2 -2.6M819.8 523.0q-0.9 -1.4 -0.8 -2.4M819.8 523.0q-0.4 -1.7 -1.6 -2.9M819.8 523.0q0.6 -2.4 0.8 -4.0M820.8 523.0q0.1 -1.6 1.6 -2.7M820.8 523.0q0.3 -1.0 -1.7 -1.6M820.8 523.0q-0.1 -1.8 -1.4 -3.1M822.1 523.0q0.5 -2.8 1.1 -4.7M822.1 523.0q1.0 -1.6 1.1 -2.7" fill="none" stroke="#5a5a5a" stroke-width="0.28"/>
<path d="M749.1 519.6l-0.0 -0.8M750.3 519.6l-1.3 0.4M751.5 519.0l0.4 -0.3M752.6 521.2l-1.3 -0.1M753.5 520.7l0.8 -0.6M754.2 520.7l-0.2 -1.1M755.6 520.3l1.3 1.1M756.6 521.4l-1.3 -0.6M757.3 521.0l0.1 1.0M758.5 520.2l-0.0 0.9M759.9 519.9l0.4 -0.7M760.6 519.2l0.6 -0.4M761.7 522.0l-1.4 0.1M763.0 520.6l1.4 -0.8M763.7 521.5l-0.3 1.2M764.7 521.8l0.8 1.0M766.0 521.9l0.7 0.9M767.1 522.5l-1.4 1.1M767.6 520.6l0.1 -0.7M768.4 522.4l0.0 0.8M769.1 521.5l-1.5 -0.3M770.3 521.3l1.1 -1.2M771.4 522.4l-1.1 0.6M772.7 519.8l0.0 1.2M773.3 521.0l-0.1 1.2M774.3 520.9l0.7 -1.0M775.4 519.0l1.3 -0.2M776.3 520.8l-0.1 -0.6M777.0 522.5l-1.0 0.3M777.9 522.3l-0.8 0.4M778.4 521.3l-0.1 -0.4M779.3 522.4l0.7 -0.4M779.9 520.1l0.9 -1.1M780.9 521.5l0.2 0.7M782.0 519.8l-1.2 1.0M783.0 521.5l-0.5 0.1M783.7 522.3l-0.1 1.1M784.3 520.7l0.0 0.9M785.6 521.5l-1.0 -1.1M786.1 521.8l0.7 0.2M786.9 519.2l0.1 -0.5M788.2 519.3l0.8 -0.7M789.0 522.2l0.6 0.2M789.8 522.4l-0.3 -0.2M790.7 519.5l-0.3 -0.2M791.3 522.3l-0.6 0.5M792.6 520.1l0.6 0.6M793.5 519.6l0.5 -0.7M794.6 519.8l-0.3 -0.6M795.8 519.9l0.2 1.2M796.8 520.4l0.6 0.9M798.1 521.2l0.5 0.5M799.1 521.5l-0.1 -0.2M800.4 521.9l-1.1 1.1M801.1 520.6l1.0 -0.7M802.4 520.0l0.1 0.8M803.5 520.0l-0.7 0.2M804.2 519.8l0.7 -0.2M805.1 519.7l-0.3 -0.4M805.9 519.6l1.3 -0.9M807.0 521.2l-0.9 -0.7M808.3 519.8l1.5 -1.0M808.8 520.6l1.4 -1.1M809.5 520.0l-1.0 -0.4M810.3 522.5l-0.2 0.1M811.0 520.6l-0.1 1.1M811.8 519.5l1.1 -1.1M813.2 520.5l-0.7 -0.0M814.2 521.2l0.7 -1.0M815.0 520.0l-0.3 -0.4M816.1 520.7l0.3 -0.0M816.7 521.9l-0.3 -1.1M817.5 520.1l0.0 -0.2M818.1 522.3l-0.5 -1.2M818.9 520.2l0.1 -1.1M820.0 519.3l-1.3 -1.0M820.6 520.7l-1.1 0.3M821.4 519.7l-0.2 1.0M822.2 519.3l0.3 -0.4" fill="none" stroke="#666" stroke-width="0.32"/>
<line x1="750.60" y1="523.00" x2="821.80" y2="523.00" stroke="#444" stroke-width="0.6"/>
<line x1="750.60" y1="524.80" x2="821.80" y2="524.80" stroke="#666" stroke-width="0.6"/>
<line x1="750.60" y1="528.20" x2="821.80" y2="528.20" stroke="#666" stroke-width="0.6"/>
<path d="M749.1 538.2q-0.1 -3.0 -1.6 -5.0M749.1 538.2q0.2 -1.4 1.4 -2.3M750.5 538.2q-0.8 -1.5 -1.0 -2.5M750.5 538.2q0.3 -1.7 1.6 -2.9M751.4 538.2q-0.8 -2.3 -1.3 -3.8M751.4 538.2q-0.5 -2.5 -1.3 -4.2M751.4 538.2q-0.2 -3.1 -0.9 -5.2M751.4 538.2q0.9 -0.9 1.8 -1.5M752.7 538.2q-0.4 -1.3 0.4 -2.1M752.7 538.2q0.4 -1.9 -1.0 -3.1M752.7 538.2q-0.4 -0.9 1.0 -1.5M753.7 538.2q-0.2 -1.9 -1.2 -3.2M753.7 538.2q0.2 -3.1 -1.5 -5.2M753.7 538.2q-0.0 -1.6 -0.9 -2.6M754.7 538.2q0.4 -3.0 -1.1 -5.0M754.7 538.2q-0.3 -1.4 1.4 -2.3M754.7 538.2q-0.1 -2.1 -0.9 -3.5M754.7 538.2q0.5 -1.4 -0.1 -2.4M755.7 538.2q-0.3 -2.6 1.1 -4.3M755.7 538.2q0.6 -0.8 0.9 -1.4M755.7 538.2q-0.4 -2.2 1.1 -3.6M757.1 538.2q0.0 -1.7 -1.1 -2.8M757.1 538.2q-0.7 -1.1 0.3 -1.8M758.3 538.2q0.6 -1.0 0.6 -1.6M758.3 538.2q-0.7 -1.2 -0.8 -2.0M758.3 538.2q-0.7 -2.9 -0.6 -4.9M758.3 538.2q0.1 -2.2 0.2 -3.7M759.4 538.2q-0.1 -2.6 1.1 -4.3M759.4 538.2q0.3 -1.5 -0.4 -2.6M760.1 538.2q1.2 -2.8 1.4 -4.7M760.1 538.2q-0.6 -2.1 -1.0 -3.4M760.1 538.2q-0.3 -3.1 0.5 -5.2M760.1 538.2q0.7 -1.9 -0.1 -3.1M761.6 538.2q-0.5 -1.4 -0.8 -2.3M761.6 538.2q-0.7 -2.4 0.2 -3.9M762.7 538.2q-0.0 -2.0 1.5 -3.3M762.7 538.2q0.2 -1.7 0.3 -2.9M762.7 538.2q1.1 -2.9 1.4 -4.8M762.7 538.2q-0.2 -2.1 -1.6 -3.5M763.9 538.2q-0.1 -1.9 0.2 -3.2M763.9 538.2q-0.5 -2.4 0.9 -4.0M763.9 538.2q-0.3 -1.6 0.7 -2.7M765.4 538.2q-0.1 -2.9 -1.7 -4.8M765.4 538.2q-0.6 -2.4 -0.9 -3.9M765.4 538.2q0.8 -1.2 0.1 -2.1M766.2 538.2q-1.1 -1.5 -0.8 -2.6M766.2 538.2q0.3 -1.4 0.5 -2.4M766.2 538.2q0.2 -1.4 -1.6 -2.3M767.1 538.2q0.4 -2.0 1.1 -3.3M767.1 538.2q-0.1 -3.1 -0.7 -5.1M767.8 538.2q-0.4 -1.0 -1.5 -1.7M767.8 538.2q0.3 -1.8 0.9 -3.0M767.8 538.2q0.3 -1.9 -1.4 -3.1M767.8 538.2q0.3 -1.1 1.5 -1.9M769.3 538.2q-0.8 -1.6 -0.5 -2.7M769.3 538.2q-0.4 -2.2 -0.2 -3.7M770.6 538.2q0.6 -1.8 -0.2 -3.0M770.6 538.2q-0.5 -2.4 0.2 -4.0M770.6 538.2q-0.6 -2.5 -1.3 -4.2M770.6 538.2q0.0 -1.7 0.4 -2.9M771.6 538.2q0.2 -1.4 0.7 -2.3M771.6 538.2q0.6 -1.5 0.7 -2.5M771.6 538.2q-0.1 -1.2 1.5 -2.0M771.6 538.2q-0.4 -2.2 1.0 -3.7M772.8 538.2q0.8 -1.1 0.5 -1.9M772.8 538.2q0.5 -2.6 1.5 -4.3M772.8 538.2q-0.9 -2.0 -0.9 -3.3M774.2 538.2q0.1 -2.9 -0.5 -4.9M774.2 538.2q-0.4 -3.1 -1.4 -5.2M775.3 538.2q-0.5 -1.1 -0.5 -1.8M775.3 538.2q0.1 -1.3 -1.7 -2.1M776.5 538.2q-0.2 -2.0 0.4 -3.4M776.5 538.2q0.3 -2.8 1.5 -4.6M777.8 538.2q-0.3 -2.5 1.3 -4.2M777.8 538.2q0.1 -1.0 0.8 -1.7M777.8 538.2q0.9 -3.1 0.4 -5.1M777.8 538.2q-0.3 -1.6 -1.7 -2.7M778.8 538.2q-0.5 -2.6 -1.7 -4.4M778.8 538.2q0.4 -2.0 0.5 -3.3M778.8 538.2q-0.1 -2.2 0.2 -3.7M778.8 538.2q-0.6 -2.0 -0.4 -3.3M780.1 538.2q-0.2 -0.9 0.3 -1.5M780.1 538.2q0.5 -2.5 0.2 -4.2M780.1 538.2q-0.6 -1.2 0.1 -2.0M780.8 538.2q-0.2 -1.2 1.2 -2.0M780.8 538.2q0.6 -2.4 -0.4 -4.0M780.8 538.2q0.5 -2.0 -0.9 -3.4M782.0 538.2q0.2 -2.8 0.7 -4.7M782.0 538.2q-0.5 -1.2 0.3 -2.0M782.0 538.2q0.8 -2.1 1.8 -3.5M783.3 538.2q-0.9 -2.4 -1.0 -4.0M783.3 538.2q-0.6 -1.6 -0.6 -2.6M783.3 538.2q0.3 -2.0 0.2 -3.3M784.7 538.2q0.6 -3.1 0.7 -5.1M784.7 538.2q-0.1 -2.1 0.9 -3.6M784.7 538.2q-0.5 -2.8 0.4 -4.6M785.8 538.2q0.2 -1.4 1.2 -2.4M785.8 538.2q0.0 -1.8 -0.5 -3.0M786.9 538.2q0.4 -1.5 0.5 -2.5M786.9 538.2q-0.7 -2.8 -0.0 -4.7M786.9 538.2q0.1 -1.8 1.1 -3.0M787.8 538.2q-0.3 -2.7 0.5 -4.5M787.8 538.2q0.1 -2.6 1.6 -4.4M787.8 538.2q-0.3 -1.0 1.0 -1.7M787.8 538.2q-0.1 -2.9 -0.5 -4.8M788.9 538.2q0.1 -2.9 -0.5 -4.8M788.9 538.2q0.6 -2.2 -0.3 -3.6M788.9 538.2q-0.2 -2.8 0.2 -4.7M789.9 538.2q0.4 -1.3 0.0 -2.2M789.9 538.2q0.0 -1.7 -0.8 -2.9M789.9 538.2q-0.1 -2.5 -0.0 -4.2M791.1 538.2q0.7 -2.8 0.1 -4.6M791.1 538.2q-0.0 -1.6 0.3 -2.7M791.1 538.2q0.2 -1.7 0.7 -2.9M792.1 538.2q0.7 -2.5 1.5 -4.1M792.1 538.2q-0.1 -2.3 -0.0 -3.9M792.1 538.2q-0.9 -2.0 -1.4 -3.3M793.0 538.2q0.3 -1.4 -1.1 -2.4M793.0 538.2q0.5 -1.5 0.4 -2.5M794.2 538.2q-0.2 -1.9 1.2 -3.2M794.2 538.2q0.4 -2.8 -0.2 -4.7M794.2 538.2q-0.0 -2.6 0.3 -4.4M795.3 538.2q-0.5 -2.3 -1.2 -3.8M795.3 538.2q1.0 -1.3 1.5 -2.1M796.6 538.2q-0.1 -2.7 0.6 -4.6M796.6 538.2q-0.3 -2.3 0.5 -3.9M796.6 538.2q0.2 -2.4 -1.0 -4.0M798.0 538.2q0.0 -2.6 1.7 -4.4M798.0 538.2q0.4 -3.1 1.2 -5.1M799.1 538.2q0.9 -2.5 1.2 -4.1M799.1 538.2q-0.3 -1.3 1.0 -2.2M799.1 538.2q-0.6 -2.2 -0.6 -3.6M800.3 538.2q-0.1 -1.5 -1.6 -2.5M800.3 538.2q-0.0 -2.2 -1.7 -3.7M801.5 538.2q0.7 -1.5 1.8 -2.5M801.5 538.2q0.6 -2.6 0.1 -4.3M801.5 538.2q-0.6 -3.0 -0.1 -5.0M802.6 538.2q-0.7 -1.3 0.1 -2.1M802.6 538.2q0.5 -2.1 0.5 -3.5M802.6 538.2q-0.1 -1.4 -1.4 -2.3M803.9 538.2q0.3 -2.0 0.7 -3.4M803.9 538.2q0.0 -1.8 0.3 -3.0M805.3 538.2q0.9 -0.9 0.8 -1.5M805.3 538.2q0.1 -1.9 -1.5 -3.1M805.3 538.2q-0.4 -2.5 -0.3 -4.2M805.3 538.2q-0.5 -2.8 0.8 -4.7M806.7 538.2q0.5 -2.2 1.4 -3.7M806.7 538.2q-1.1 -2.3 -1.2 -3.9M806.7 538.2q-0.3 -2.0 -0.9 -3.4M806.7 538.2q0.8 -1.8 1.1 -3.0M808.1 538.2q-0.5 -1.2 -0.8 -2.0M808.1 538.2q0.5 -1.2 0.3 -2.0M808.1 538.2q0.5 -2.1 0.1 -3.5M809.4 538.2q1.0 -2.3 1.0 -3.9M809.4 538.2q-0.1 -1.6 1.0 -2.7M809.4 538.2q-0.3 -2.0 1.4 -3.3M810.8 538.2q-0.5 -1.6 -1.1 -2.6M810.8 538.2q-0.2 -2.3 -0.5 -3.8M810.8 538.2q-0.3 -2.0 1.6 -3.3M811.8 538.2q-0.4 -3.1 -1.1 -5.1M811.8 538.2q-0.1 -3.1 0.8 -5.2M811.8 538.2q-0.4 -2.0 -0.9 -3.3M811.8 538.2q0.4 -1.0 0.9 -1.7M813.3 538.2q-0.5 -2.8 0.5 -4.7M813.3 538.2q-0.5 -1.9 -1.1 -3.2M813.3 538.2q0.7 -1.3 0.6 -2.2M814.3 538.2q-0.1 -2.0 0.3 -3.3M814.3 538.2q-0.8 -1.6 -1.6 -2.7M814.3 538.2q-0.0 -1.6 -0.1 -2.6M815.5 538.2q0.2 -1.6 -1.1 -2.7M815.5 538.2q0.5 -3.1 0.8 -5.2M815.5 538.2q0.8 -1.4 0.2 -2.3M816.3 538.2q-0.2 -3.0 1.6 -5.0M816.3 538.2q-0.4 -2.9 -0.9 -4.9M817.4 538.2q-0.7 -1.8 -1.5 -3.0M817.4 538.2q0.7 -1.3 1.7 -2.1M817.4 538.2q-0.9 -2.2 -1.1 -3.7M818.2 538.2q-0.3 -1.7 -0.6 -2.8M818.2 538.2q0.3 -2.2 1.3 -3.6M818.2 538.2q-0.7 -2.1 0.1 -3.4M819.7 538.2q-0.6 -2.1 -1.6 -3.5M819.7 538.2q0.1 -2.4 -0.9 -3.9M819.7 538.2q-0.2 -1.9 0.3 -3.2M821.1 538.2q0.5 -2.5 1.0 -4.1M821.1 538.2q-0.4 -1.7 -1.1 -2.8M821.1 538.2q-0.4 -1.3 0.6 -2.2M821.1 538.2q0.2 -2.5 -0.1 -4.2M821.9 538.2q0.4 -1.8 -0.8 -2.9M821.9 538.2q0.6 -2.7 0.6 -4.5M822.6 538.2q0.4 -1.8 -0.6 -3.1M822.6 538.2q-1.0 -1.7 -1.2 -2.8M822.6 538.2q-0.4 -0.9 0.1 -1.4M822.6 538.2q0.1 -1.4 0.8 -2.3" fill="none" stroke="#5a5a5a" stroke-width="0.28"/>
<path d="M749.1 535.2l0.6 -0.0M749.7 537.0l-0.1 0.0M750.5 534.3l-1.1 -0.4M751.5 536.9l-0.7 0.9M752.5 536.1l0.7 -0.2M753.0 534.0l1.3 0.9M754.2 535.1l0.4 -0.6M754.9 536.8l0.7 -0.1M755.9 534.7l-1.4 -1.1M756.6 535.2l1.0 -0.1M758.0 535.0l0.3 -0.6M759.2 534.7l0.4 -0.2M760.3 534.3l0.4 -1.1M761.1 535.4l1.3 -0.3M762.5 534.8l-0.9 0.8M763.6 534.3l-0.6 -0.5M764.9 537.2l-0.5 0.8M766.2 536.8l0.5 0.3M767.2 536.4l0.8 0.3M767.7 536.1l1.0 -0.3M768.3 534.0l0.9 -0.8M769.4 537.5l1.2 1.2M770.5 535.3l-1.2 -0.8M771.3 535.9l0.0 1.2M772.3 534.1l-1.5 -0.5M772.8 534.5l0.5 -0.8M774.1 534.7l0.9 -0.3M775.2 535.8l-0.2 -1.0M775.8 535.7l0.3 -0.1M776.4 536.5l-0.5 1.0M777.4 535.4l-1.1 0.9M778.1 534.5l-0.0 -0.6M779.2 537.0l0.6 -1.1M780.1 535.1l-1.2 0.9M780.7 534.8l0.9 0.4M781.9 536.5l-0.4 -0.9M782.7 536.2l0.5 0.6M783.8 535.3l-0.5 -0.5M784.6 537.3l-0.5 0.4M785.6 534.7l-0.4 0.4M786.7 536.0l0.9 0.9M788.1 537.1l-1.2 1.2M789.0 536.4l-0.5 -0.0M789.8 536.6l0.2 0.0M790.7 535.0l-1.1 -1.2M791.4 535.0l-0.6 -0.8M792.6 535.8l1.4 -0.7M793.4 537.6l0.2 -1.0M794.6 534.0l-1.2 -0.3M795.2 534.0l-1.2 -0.7M796.1 535.2l1.1 -0.0M796.7 537.3l0.2 -0.3M797.7 534.0l1.5 -0.7M798.8 536.2l0.4 0.7M799.6 536.3l0.6 0.9M800.5 534.6l-0.3 -0.8M801.6 537.4l0.3 -1.1M802.8 534.0l1.2 -1.1M803.9 535.1l0.9 -0.6M805.1 534.9l-0.4 -0.6M806.4 536.1l-0.4 -0.2M807.1 537.6l-1.4 -0.5M808.0 534.1l1.2 -0.4M809.3 536.2l0.1 -0.9M810.2 536.3l-1.3 -0.5M811.3 535.5l-1.1 0.9M812.2 536.9l-1.1 0.9M812.9 535.2l-0.7 -0.8M813.5 534.7l0.2 0.5M814.0 537.3l0.6 -0.0M815.4 535.1l1.0 1.1M816.2 534.7l1.0 0.6M816.9 537.5l-0.4 -0.9M818.3 535.5l1.0 1.0M818.9 536.2l-0.5 0.3M819.8 534.2l0.5 1.1M820.5 535.7l-1.4 -0.4M821.7 534.6l-0.5 -0.2M822.7 534.6l-0.0 0.8" fill="none" stroke="#666" stroke-width="0.32"/>
<line x1="750.60" y1="538.20" x2="821.80" y2="538.20" stroke="#444" stroke-width="0.6"/>
<line x1="750.60" y1="540.00" x2="821.80" y2="540.00" stroke="#666" stroke-width="0.6"/>
<line x1="750.60" y1="543.40" x2="821.80" y2="543.40" stroke="#666" stroke-width="0.6"/>
<line x1="750.60" y1="548.00" x2="821.80" y2="548.00" stroke="#888" stroke-width="0.6"/>
<line x1="750.60" y1="436.00" x2="750.60" y2="574.00" stroke="#888" stroke-width="0.7"/>
<line x1="821.80" y1="436.00" x2="821.80" y2="574.00" stroke="#aaa" stroke-width="0.6"/>
<rect x="514.60" y="467.40" width="5.60" height="80.60" fill="#fff" stroke="#777" stroke-width="0.6"/>
<line x1="818.60" y1="467.00" x2="818.60" y2="548.00" stroke="#aaa" stroke-width="0.5"/>
<line x1="467.50" y1="467.00" x2="467.50" y2="548.00" stroke="#bbb" stroke-width="0.5"/>
<rect x="468.60" y="549.80" width="27.00" height="24.20" fill="#e2e2e2" stroke="#b8b8b8" stroke-width="0.5"/>
<g stroke="#cacaca" stroke-width="0.5">
<line x1="468.6" y1="551.0" x2="495.6" y2="551.0"/>
<line x1="468.6" y1="552.6" x2="495.6" y2="552.6"/>
<line x1="468.6" y1="554.2" x2="495.6" y2="554.2"/>
<line x1="468.6" y1="555.8" x2="495.6" y2="555.8"/>
<line x1="468.6" y1="557.4" x2="495.6" y2="557.4"/>
<line x1="468.6" y1="559.0" x2="495.6" y2="559.0"/>
<line x1="468.6" y1="560.6" x2="495.6" y2="560.6"/>
<line x1="468.6" y1="562.2" x2="495.6" y2="562.2"/>
<line x1="468.6" y1="563.8" x2="495.6" y2="563.8"/>
<line x1="468.6" y1="565.4" x2="495.6" y2="565.4"/>
<line x1="468.6" y1="567.0" x2="495.6" y2="567.0"/>
<line x1="468.6" y1="568.6" x2="495.6" y2="568.6"/>
<line x1="468.6" y1="570.2" x2="495.6" y2="570.2"/>
<line x1="468.6" y1="571.8" x2="495.6" y2="571.8"/>
<line x1="468.6" y1="573.4" x2="495.6" y2="573.4"/>
</g>
<rect x="791.30" y="550.00" width="25.40" height="28.60" fill="#e2e2e2" stroke="#b8b8b8" stroke-width="0.5"/>
<g stroke="#cacaca" stroke-width="0.5">
<line x1="791.3" y1="551.2" x2="816.7" y2="551.2"/>
<line x1="791.3" y1="552.8" x2="816.7" y2="552.8"/>
<line x1="791.3" y1="554.4" x2="816.7" y2="554.4"/>
<line x1="791.3" y1="556.0" x2="816.7" y2="556.0"/>
<line x1="791.3" y1="557.6" x2="816.7" y2="557.6"/>
<line x1="791.3" y1="559.2" x2="816.7" y2="559.2"/>
<line x1="791.3" y1="560.8" x2="816.7" y2="560.8"/>
<line x1="791.3" y1="562.4" x2="816.7" y2="562.4"/>
<line x1="791.3" y1="564.0" x2="816.7" y2="564.0"/>
<line x1="791.3" y1="565.6" x2="816.7" y2="565.6"/>
<line x1="791.3" y1="567.2" x2="816.7" y2="567.2"/>
<line x1="791.3" y1="568.8" x2="816.7" y2="568.8"/>
<line x1="791.3" y1="570.4" x2="816.7" y2="570.4"/>
<line x1="791.3" y1="572.0" x2="816.7" y2="572.0"/>
<line x1="791.3" y1="573.6" x2="816.7" y2="573.6"/>
<line x1="791.3" y1="575.2" x2="816.7" y2="575.2"/>
<line x1="791.3" y1="576.8" x2="816.7" y2="576.8"/>
<line x1="791.3" y1="578.4" x2="816.7" y2="578.4"/>
</g>
<line x1="465.30" y1="566.00" x2="465.30" y2="574.00" stroke="#555" stroke-width="0.9"/>
<line x1="820.60" y1="566.00" x2="820.60" y2="578.50" stroke="#555" stroke-width="0.9"/>
<g stroke="#777" stroke-width="0.45">
<line x1="503" y1="548" x2="503" y2="574"/>
<line x1="509" y1="548" x2="509" y2="574"/>
<line x1="515" y1="548" x2="515" y2="574"/>
<line x1="521" y1="548" x2="521" y2="574"/>
<line x1="527" y1="548" x2="527" y2="574"/>
<line x1="533" y1="548" x2="533" y2="574"/>
<line x1="757.4" y1="548" x2="757.4" y2="574"/>
<line x1="763.6" y1="548" x2="763.6" y2="574"/>
<line x1="769.3" y1="548" x2="769.3" y2="574"/>
<line x1="775.7" y1="548" x2="775.7" y2="574"/>
<line x1="782.9" y1="548" x2="782.9" y2="574"/>
<line x1="751" y1="558.3" x2="789" y2="558.3"/>
<line x1="497" y1="558.3" x2="536" y2="558.3"/>
</g>
<line x1="497.30" y1="548.00" x2="497.30" y2="574.00" stroke="#555" stroke-width="0.7"/>
<line x1="789.60" y1="548.00" x2="789.60" y2="574.00" stroke="#555" stroke-width="0.7"/>
<line x1="788.00" y1="560.00" x2="788.00" y2="578.00" stroke="#666" stroke-width="0.7"/>
<line x1="497.00" y1="548.00" x2="790.00" y2="548.00" stroke="#555" stroke-width="0.6"/>
<rect x="612.90" y="559.30" width="11.40" height="14.50" fill="none" stroke="#666" stroke-width="0.45"/>
<line x1="612.90" y1="559.30" x2="618.60" y2="573.80" stroke="#777" stroke-width="0.4"/>
<line x1="618.60" y1="559.30" x2="612.90" y2="573.80" stroke="#777" stroke-width="0.4"/>
<line x1="618.60" y1="559.30" x2="624.30" y2="573.80" stroke="#777" stroke-width="0.4"/>
<line x1="624.30" y1="559.30" x2="618.60" y2="573.80" stroke="#777" stroke-width="0.4"/>
<rect x="663.30" y="559.30" width="11.40" height="14.50" fill="none" stroke="#666" stroke-width="0.45"/>
<line x1="663.30" y1="559.30" x2="669.00" y2="573.80" stroke="#777" stroke-width="0.4"/>
<line x1="669.00" y1="559.30" x2="663.30" y2="573.80" stroke="#777" stroke-width="0.4"/>
<line x1="669.00" y1="559.30" x2="674.70" y2="573.80" stroke="#777" stroke-width="0.4"/>
<line x1="674.70" y1="559.30" x2="669.00" y2="573.80" stroke="#777" stroke-width="0.4"/>
<rect x="496.70" y="416.00" width="39.50" height="5.70" fill="#fff" stroke="#bbb" stroke-width="0.6"/>
<line x1="506.20" y1="416.00" x2="506.20" y2="421.70" stroke="#bbb" stroke-width="0.6"/>
<line x1="515.70" y1="416.00" x2="515.70" y2="421.70" stroke="#bbb" stroke-width="0.6"/>
<line x1="525.20" y1="416.00" x2="525.20" y2="421.70" stroke="#bbb" stroke-width="0.6"/>
<rect x="496.70" y="421.70" width="39.50" height="14.30" fill="#fff" stroke="#bbb" stroke-width="0.6"/>
<rect x="468.00" y="427.20" width="16.00" height="8.80" fill="#fff" stroke="#bbb" stroke-width="0.6"/>
<rect x="474.50" y="424.30" width="9.50" height="6.50" fill="none" stroke="#ccc" stroke-width="0.5"/>
<line x1="468.00" y1="430.50" x2="484.00" y2="430.50" stroke="#999" stroke-width="0.8"/>
<line x1="484.00" y1="436.00" x2="484.00" y2="424.00" stroke="#bbb" stroke-width="0.6"/>
<line x1="484.00" y1="430.00" x2="496.70" y2="421.70" stroke="#999" stroke-width="0.5"/>
<line x1="484.00" y1="427.00" x2="496.70" y2="436.00" stroke="#bbb" stroke-width="0.5"/>
<path d="M545.5 574.5L545.5 524.5M545.5 561.5L539.9 556.9M545.5 562.8L550.2 558.9M545.5 557.1L537.3 550.8M545.5 557.5L552.7 549.7M545.5 550.8L536.1 542.6M545.5 550.6L552.9 543.9M545.5 548.0L537.4 540.6M545.5 547.0L553.5 540.1M545.5 544.5L538.0 538.2M545.5 543.1L553.3 538.1M545.5 539.6L537.2 530.7M545.5 541.4L554.8 534.8M545.5 538.1L537.4 531.3M545.5 537.1L552.3 531.4M545.5 533.7L538.5 529.0M545.5 534.7L552.4 527.1M545.5 531.1L539.6 526.7M545.5 530.7L551.7 525.4M545.5 529.0L542.2 527.0M545.5 529.0L549.0 525.4" fill="none" stroke="#2a2a2a" stroke-width="0.4" stroke-linecap="round"/>
<path d="M541.1 557.8L537.8 557.4M537.8 557.4L536.2 556.8M537.8 557.4L536.3 558.0M540.9 557.7L539.9 555.7M539.9 555.7L539.2 555.0M539.9 555.7L539.1 555.4M549.8 559.2L552.6 555.8M552.6 555.8L553.6 556.1M552.6 555.8L552.7 554.7M549.5 559.4L552.2 559.3M552.2 559.3L553.0 560.1M552.2 559.3L553.0 560.0M541.2 553.8L536.8 553.7M536.8 553.7L536.1 552.3M536.8 553.7L536.0 554.8M542.1 554.5L539.7 553.7M539.7 553.7L539.3 552.1M539.7 553.7L538.2 554.1M549.7 552.9L551.8 552.1M551.8 552.1L553.5 552.0M551.8 552.1L552.1 551.2M551.3 551.2L554.8 549.4M554.8 549.4L556.5 549.7M554.8 549.4L555.8 549.8M548.5 554.2L552.2 551.9M552.2 551.9L552.9 550.7M552.2 551.9L553.8 551.4M541.9 547.7L538.9 544.7M538.9 544.7L539.1 543.4M538.9 544.7L538.5 543.4M537.4 543.7L533.1 544.0M533.1 544.0L531.5 543.8M533.1 544.0L532.1 545.0M536.7 543.1L536.4 540.5M536.4 540.5L536.6 539.7M536.4 540.5L536.0 539.3M550.2 546.3L552.6 545.2M552.6 545.2L553.4 545.3M552.6 545.2L553.5 545.8M548.7 547.7L550.5 546.0M550.5 546.0L551.5 545.5M550.5 546.0L551.8 546.2M551.6 545.0L554.3 544.0M554.3 544.0L555.6 544.1M554.3 544.0L555.3 544.3M540.7 543.6L540.0 539.7M540.0 539.7L539.3 538.6M540.0 539.7L540.0 538.8M541.7 544.5L540.1 542.7M540.1 542.7L539.6 541.3M540.1 542.7L538.9 542.2M541.6 544.5L540.5 540.4M540.5 540.4L540.7 539.1M540.5 540.4L539.7 539.8M548.7 544.3L552.8 544.1M552.8 544.1L553.8 544.5M552.8 544.1L553.5 544.9M551.6 541.8L555.0 540.9M555.0 540.9L555.7 540.2M555.0 540.9L556.1 541.2M550.6 542.6L553.0 540.1M553.0 540.1L553.4 538.9M553.0 540.1L553.9 539.3M540.0 539.9L537.8 539.3M537.8 539.3L537.1 540.1M537.8 539.3L536.6 538.6M540.1 540.0L537.0 540.1M537.0 540.1L535.8 540.8M537.0 540.1L535.9 540.5M541.9 541.5L540.1 539.9M540.1 539.9L538.9 540.4M540.1 539.9L538.8 539.4M551.7 539.1L552.8 535.2M552.8 535.2L553.7 534.2M552.8 535.2L553.0 534.0M549.1 540.8L551.1 539.8M551.1 539.8L551.0 538.2M551.1 539.8L551.4 538.8M552.0 539.0L555.2 537.3M555.2 537.3L555.8 536.4M555.2 537.3L555.9 536.8M540.3 534.0L539.3 530.8M539.3 530.8L540.0 530.1M539.3 530.8L538.8 529.4M540.6 534.3L539.2 532.3M539.2 532.3L539.7 531.2M539.2 532.3L538.3 531.9M553.5 535.7L554.4 532.8M554.4 532.8L555.2 531.6M554.4 532.8L555.4 532.2M552.1 536.7L554.4 535.8M554.4 535.8L556.0 535.9M554.4 535.8L555.8 535.0M540.1 533.6L537.9 531.1M537.9 531.1L538.1 529.4M537.9 531.1L538.2 530.2M538.2 532.0L534.1 530.2M534.1 530.2L532.5 530.3M534.1 530.2L532.9 529.1M549.2 534.0L552.6 532.0M552.6 532.0L554.0 532.9M552.6 532.0L552.6 530.9M549.3 533.8L551.5 533.6M551.5 533.6L552.2 533.1M551.5 533.6L551.7 532.8M550.5 532.9L551.8 530.7M551.8 530.7L552.0 529.2M551.8 530.7L552.8 530.6M538.8 529.2L535.9 529.5M535.9 529.5L534.9 528.8M535.9 529.5L535.2 529.8M542.8 531.8L541.1 529.4M541.1 529.4L541.0 528.0M541.1 529.4L540.1 528.9M549.2 530.6L552.4 528.3M552.4 528.3L553.5 527.9M552.4 528.3L553.3 527.0M549.1 530.8L549.0 528.8M549.0 528.8L549.4 527.6M549.0 528.8L549.6 527.4M551.3 528.4L551.6 524.5M551.6 524.5L551.2 524.2M551.6 524.5L552.6 524.0M541.5 528.2L538.0 526.4M538.0 526.4L536.8 525.2M538.0 526.4L536.4 526.7M541.6 528.2L540.0 526.5M540.0 526.5L538.3 526.3M540.0 526.5L538.7 525.5M550.2 526.7L552.1 525.2M552.1 525.2L552.6 523.9M552.1 525.2L553.1 525.7M549.1 527.6L549.7 525.4M549.7 525.4L548.3 524.4M549.7 525.4L548.4 524.5M542.3 527.1L540.1 527.5M540.1 527.5L538.7 526.8M540.1 527.5L539.2 528.0M543.6 527.9L540.1 525.8M540.1 525.8L539.8 525.0M540.1 525.8L539.4 524.6M543.6 527.9L540.9 527.2M540.9 527.2L539.8 528.3M540.9 527.2L540.3 526.2M547.1 527.4L550.3 526.8M550.3 526.8L551.1 525.4M550.3 526.8L551.2 525.4M548.7 525.6L551.6 525.0M551.6 525.0L553.0 525.4M551.6 525.0L552.8 525.0M548.1 526.3L551.4 526.2M551.4 526.2L552.1 525.5M551.4 526.2L552.3 527.4" fill="none" stroke="#333" stroke-width="0.3" stroke-linecap="round"/>
<path d="M593 574.5L593 524.5M593.0 561.3L587.5 557.9M593.0 561.9L598.2 558.4M593.0 555.8L586.4 551.2M593.0 557.1L599.8 552.4M593.0 550.7L583.6 544.9M593.0 552.3L601.2 546.6M593.0 547.0L585.5 540.7M593.0 546.7L600.4 541.7M593.0 544.1L583.4 534.6M593.0 544.4L600.7 536.2M593.0 540.8L583.8 532.9M593.0 540.1L602.3 534.3M593.0 538.2L585.7 532.3M593.0 537.1L601.2 528.0M593.0 533.6L586.4 528.8M593.0 535.0L600.5 528.5M593.0 531.5L587.8 527.5M593.0 532.0L598.7 526.4M593.0 529.5L589.1 526.3M593.0 528.6L596.6 525.9" fill="none" stroke="#2a2a2a" stroke-width="0.4" stroke-linecap="round"/>
<path d="M589.4 559.1L587.1 558.5M587.1 558.5L585.4 558.5M587.1 558.5L586.3 558.9M590.0 559.5L588.9 555.9M588.9 555.9L587.7 555.2M588.9 555.9L589.6 555.2M595.0 560.5L597.4 558.4M597.4 558.4L597.6 556.6M597.4 558.4L598.7 558.0M596.9 559.3L600.3 557.3M600.3 557.3L600.3 555.7M600.3 557.3L601.3 558.0M587.5 552.0L586.4 550.2M586.4 550.2L586.3 549.0M586.4 550.2L586.0 549.0M587.0 551.6L584.9 547.9M584.9 547.9L584.5 546.8M584.9 547.9L583.8 547.2M596.6 554.6L600.1 553.3M600.1 553.3L600.4 552.4M600.1 553.3L600.2 552.2M598.6 553.3L600.4 551.2M600.4 551.2L600.3 549.4M600.4 551.2L600.9 549.7M585.3 546.0L582.9 542.5M582.9 542.5L581.8 542.7M582.9 542.5L583.3 540.8M588.4 547.9L584.3 548.3M584.3 548.3L583.3 548.5M584.3 548.3L582.7 547.5M600.1 547.3L601.1 545.4M601.1 545.4L600.3 544.3M601.1 545.4L600.6 544.6M596.8 549.6L598.2 547.5M598.2 547.5L597.9 546.3M598.2 547.5L599.8 547.3M589.4 544.0L587.2 543.7M587.2 543.7L585.9 544.5M587.2 543.7L586.7 542.8M585.5 540.7L583.0 540.8M583.0 540.8L582.1 541.5M583.0 540.8L581.3 540.9M589.5 544.0L587.1 540.3M587.1 540.3L587.3 539.2M587.1 540.3L585.5 539.8M598.0 543.3L600.7 541.7M600.7 541.7L600.7 540.6M600.7 541.7L602.1 540.7M598.9 542.7L599.4 540.4M599.4 540.4L600.0 539.9M599.4 540.4L600.4 539.5M588.3 539.4L584.7 536.8M584.7 536.8L583.6 536.8M584.7 536.8L583.2 537.7M584.6 535.8L582.7 533.6M582.7 533.6L581.5 533.6M582.7 533.6L582.3 532.9M596.2 541.0L597.3 537.2M597.3 537.2L598.7 536.9M597.3 537.2L598.1 536.7M595.8 541.4L597.0 539.6M597.0 539.6L598.0 539.2M597.0 539.6L598.0 538.7M598.9 538.1L599.4 536.2M599.4 536.2L598.9 535.2M599.4 536.2L599.0 535.4M587.8 536.3L584.7 533.2M584.7 533.2L584.0 532.7M584.7 533.2L584.3 531.8M588.0 536.5L585.7 534.5M585.7 534.5L585.0 533.9M585.7 534.5L585.1 533.0M586.8 535.5L582.6 535.0M582.6 535.0L581.6 533.6M582.6 535.0L581.5 534.6M598.6 536.6L600.9 533.4M600.9 533.4L602.0 532.6M600.9 533.4L601.7 533.3M598.5 536.7L600.0 535.4M600.0 535.4L601.8 535.5M600.0 535.4L600.8 535.7M588.5 534.5L587.6 530.6M587.6 530.6L588.5 529.9M587.6 530.6L588.4 529.6M586.3 532.7L583.2 530.0M583.2 530.0L582.3 529.0M583.2 530.0L583.1 529.1M587.9 534.0L586.2 530.5M586.2 530.5L586.6 529.4M586.2 530.5L585.4 529.6M600.6 528.7L602.6 524.7M602.6 524.7L602.8 524.2M602.6 524.7L602.0 523.9M596.1 533.7L597.3 531.0M597.3 531.0L597.0 529.5M597.3 531.0L598.4 531.0M587.6 529.7L584.6 529.8M584.6 529.8L583.2 528.8M584.6 529.8L583.4 530.3M590.6 531.9L588.7 531.1M588.7 531.1L588.6 529.9M588.7 531.1L587.2 531.8M586.8 529.1L583.9 527.8M583.9 527.8L583.2 527.2M583.9 527.8L582.7 527.5M599.6 529.2L602.5 526.3M602.5 526.3L602.1 525.2M602.5 526.3L603.7 526.5M599.2 529.6L601.3 526.2M601.3 526.2L601.6 525.4M601.3 526.2L602.2 525.7M596.2 532.2L597.0 529.7M597.0 529.7L596.9 528.0M597.0 529.7L598.2 528.7M588.1 527.8L585.7 527.9M585.7 527.9L584.8 527.9M585.7 527.9L584.4 527.2M590.7 529.7L587.1 528.1M587.1 528.1L585.9 528.0M587.1 528.1L587.1 526.7M588.3 527.9L585.7 526.6M585.7 526.6L584.7 527.3M585.7 526.6L585.3 525.1M595.1 529.9L595.2 526.8M595.2 526.8L594.8 525.3M595.2 526.8L593.8 526.0M596.5 528.5L597.6 526.5M597.6 526.5L598.3 525.1M597.6 526.5L597.7 525.7M590.0 527.0L587.3 526.9M587.3 526.9L585.7 526.4M587.3 526.9L586.9 525.9M590.4 527.4L587.8 524.8M587.8 524.8L586.7 523.7M587.8 524.8L586.8 523.9M589.9 526.9L588.4 524.0M588.4 524.0L587.7 524.3M588.4 524.0L587.4 523.6M594.6 527.4L596.6 526.1M596.6 526.1L598.0 526.3M596.6 526.1L598.0 525.0M595.2 527.0L598.6 525.7M598.6 525.7L599.7 526.7M598.6 525.7L600.0 526.1" fill="none" stroke="#333" stroke-width="0.3" stroke-linecap="round"/>
<path d="M643.3 574.5L643.3 524.5M643.3 561.6L637.7 555.3M643.3 562.4L647.7 558.4M643.3 555.8L635.7 549.1M643.3 555.6L650.2 548.8M643.3 552.1L635.3 547.1M643.3 552.2L651.8 546.6M643.3 548.3L634.7 542.6M643.3 547.1L651.2 540.4M643.3 543.7L634.8 535.7M643.3 544.5L651.3 536.2M643.3 540.8L634.4 534.4M643.3 540.3L651.8 534.1M643.3 537.1L635.1 529.3M643.3 537.2L650.4 531.2M643.3 535.0L637.1 531.0M643.3 535.3L650.7 527.7M643.3 530.8L638.5 527.7M643.3 531.8L649.4 527.4M643.3 528.2L639.4 523.9M643.3 529.4L646.6 525.8" fill="none" stroke="#2a2a2a" stroke-width="0.4" stroke-linecap="round"/>
<path d="M640.8 558.8L638.0 555.4M638.0 555.4L636.9 555.7M638.0 555.4L638.1 554.5M640.3 558.2L639.4 554.7M639.4 554.7L640.4 553.5M639.4 554.7L638.9 553.0M639.2 556.9L637.8 554.6M637.8 554.6L636.2 554.5M637.8 554.6L637.1 553.9M645.9 560.1L646.8 558.3M646.8 558.3L647.2 556.8M646.8 558.3L648.5 558.1M645.9 560.1L646.8 556.0M646.8 556.0L646.2 555.1M646.8 556.0L648.0 555.6M647.6 558.5L650.5 557.2M650.5 557.2L651.4 556.9M650.5 557.2L651.0 555.9M636.7 550.0L634.5 547.6M634.5 547.6L634.7 546.7M634.5 547.6L633.6 547.9M638.7 551.8L635.8 549.5M635.8 549.5L634.6 549.0M635.8 549.5L635.5 548.6M637.9 551.1L635.3 550.3M635.3 550.3L634.1 549.7M635.3 550.3L634.7 551.0M646.4 552.5L648.4 551.6M648.4 551.6L649.2 550.9M648.4 551.6L649.9 551.0M649.7 549.3L654.0 549.2M654.0 549.2L654.8 548.8M654.0 549.2L655.1 548.6M636.8 548.0L633.5 548.6M633.5 548.6L632.3 548.8M633.5 548.6L632.1 549.6M637.5 548.4L633.8 547.3M633.8 547.3L632.5 547.0M633.8 547.3L632.7 548.3M651.5 546.8L654.2 545.9M654.2 545.9L655.1 545.5M654.2 545.9L655.3 546.7M647.0 549.8L651.3 549.9M651.3 549.9L652.0 549.3M651.3 549.9L652.6 549.2M637.7 544.6L635.1 543.7M635.1 543.7L634.4 543.4M635.1 543.7L633.6 543.6M640.2 546.2L635.8 546.5M635.8 546.5L634.9 547.7M635.8 546.5L634.6 546.4M650.6 540.9L654.1 541.0M654.1 541.0L654.9 540.8M654.1 541.0L655.3 541.0M646.6 544.3L648.8 542.8M648.8 542.8L649.7 541.9M648.8 542.8L650.4 543.5M649.6 541.8L652.3 541.1M652.3 541.1L653.4 542.2M652.3 541.1L654.0 541.2M638.7 539.4L636.3 536.5M636.3 536.5L636.4 535.4M636.3 536.5L635.4 535.3M635.2 536.2L633.4 533.1M633.4 533.1L633.8 531.4M633.4 533.1L634.1 531.6M646.8 540.9L648.0 539.2M648.0 539.2L648.8 538.8M648.0 539.2L647.4 538.2M649.5 538.1L652.6 536.2M652.6 536.2L654.1 536.8M652.6 536.2L653.7 536.3M639.1 537.8L637.8 535.8M637.8 535.8L638.2 534.8M637.8 535.8L637.5 534.2M636.8 536.2L635.6 533.8M635.6 533.8L636.3 532.4M635.6 533.8L634.6 532.5M648.9 536.2L650.4 534.4M650.4 534.4L651.4 533.4M650.4 534.4L651.7 534.2M647.6 537.2L649.6 533.3M649.6 533.3L650.5 532.6M649.6 533.3L650.6 532.9M639.1 533.1L637.0 530.3M637.0 530.3L636.5 528.7M637.0 530.3L636.4 528.8M636.9 531.0L636.4 528.5M636.4 528.5L635.9 527.1M636.4 528.5L636.5 527.5M646.1 534.8L648.6 533.2M648.6 533.2L649.8 533.7M648.6 533.2L649.3 532.0M650.1 531.4L653.9 530.2M653.9 530.2L655.1 531.1M653.9 530.2L655.0 531.5M650.1 531.4L652.0 530.6M652.0 530.6L653.2 531.0M652.0 530.6L652.2 528.9M639.7 532.7L636.8 531.9M636.8 531.9L636.1 532.7M636.8 531.9L636.0 531.5M637.3 531.1L636.3 527.2M636.3 527.2L634.7 526.4M636.3 527.2L635.3 525.9M640.8 533.4L638.0 531.8M638.0 531.8L636.9 530.8M638.0 531.8L636.7 531.5M647.7 530.7L649.4 527.1M649.4 527.1L650.8 527.1M649.4 527.1L650.3 526.9M649.7 528.7L652.3 527.7M652.3 527.7L653.6 528.3M652.3 527.7L654.0 528.2M646.7 531.8L647.6 529.5M647.6 529.5L646.7 528.4M647.6 529.5L647.7 527.9M641.5 529.7L637.7 528.2M637.7 528.2L637.6 527.0M637.7 528.2L636.8 528.5M639.1 528.1L637.1 526.4M637.1 526.4L635.3 526.3M637.1 526.4L637.4 525.5M645.8 530.0L646.7 527.8M646.7 527.8L647.4 527.3M646.7 527.8L646.0 526.9M646.3 529.6L649.4 530.0M649.4 530.0L650.0 531.0M649.4 530.0L650.0 530.9M639.6 524.1L639.1 524.3M639.1 519.9L639.4 523.7M639.1 519.9L639.0 524.3M640.1 524.7L638.6 524.5M638.6 522.8L637.7 523.6M638.6 522.8L639.1 523.9M640.5 525.1L636.9 524.5M636.9 522.8L635.8 523.9M636.9 522.8L635.7 523.6M646.2 526.3L649.7 523.7M649.7 523.7L650.9 523.6M649.7 523.7L649.9 524.4M645.6 526.9L646.3 524.0M646.3 524.0L647.4 524.1M646.3 524.0L645.9 524.3" fill="none" stroke="#333" stroke-width="0.3" stroke-linecap="round"/>
<path d="M693 574.5L693 524.5M693.0 561.9L687.7 557.1M693.0 561.9L697.7 557.0M693.0 557.2L684.8 548.2M693.0 557.0L699.8 552.8M693.0 551.4L683.5 544.5M693.0 551.9L700.4 543.8M693.0 548.1L685.3 541.1M693.0 546.9L700.5 541.3M693.0 543.6L685.2 534.7M693.0 543.2L702.0 534.4M693.0 539.8L684.2 531.7M693.0 540.3L702.2 533.7M693.0 536.9L685.2 531.3M693.0 538.4L700.7 533.1M693.0 534.5L686.2 527.9M693.0 534.9L699.6 528.4M693.0 531.2L687.8 527.7M693.0 531.1L698.8 525.0M693.0 528.5L689.4 524.8M693.0 528.1L696.4 525.2" fill="none" stroke="#2a2a2a" stroke-width="0.4" stroke-linecap="round"/>
<path d="M689.8 559.0L688.3 557.8M688.3 557.8L688.0 556.6M688.3 557.8L688.3 556.0M691.0 560.1L688.7 558.4M688.7 558.4L687.1 559.3M688.7 558.4L687.2 559.3M695.1 559.7L697.9 558.3M697.9 558.3L698.9 556.9M697.9 558.3L698.1 557.5M696.6 558.1L697.4 555.5M697.4 555.5L697.8 554.5M697.4 555.5L698.3 554.6M695.0 559.8L696.2 556.9M696.2 556.9L696.0 555.8M696.2 556.9L696.8 556.5M687.7 551.3L685.4 549.6M685.4 549.6L685.6 548.0M685.4 549.6L684.5 550.0M686.6 550.1L684.7 549.2M684.7 549.2L683.5 549.4M684.7 549.2L684.2 547.9M685.6 549.0L682.8 545.7M682.8 545.7L682.8 544.1M682.8 545.7L682.9 543.9M696.7 554.7L699.2 551.0M699.2 551.0L700.5 550.6M699.2 551.0L698.5 549.6M697.8 554.0L699.4 551.0M699.4 551.0L701.0 551.1M699.4 551.0L700.4 550.8M683.9 544.8L683.1 542.7M683.1 542.7L682.7 541.5M683.1 542.7L682.8 541.6M689.6 548.9L686.1 548.0M686.1 548.0L684.9 546.9M686.1 548.0L685.3 547.4M700.2 544.0L701.8 541.4M701.8 541.4L702.0 540.3M701.8 541.4L702.5 540.8M698.2 546.2L701.0 544.7M701.0 544.7L702.2 545.1M701.0 544.7L702.1 544.6M687.2 542.9L685.1 538.9M685.1 538.9L685.7 537.4M685.1 538.9L685.6 537.7M685.9 541.6L682.8 540.3M682.8 540.3L682.1 539.3M682.8 540.3L682.2 539.2M698.0 543.1L701.3 541.5M701.3 541.5L701.5 540.6M701.3 541.5L702.1 540.4M699.4 542.0L701.4 540.1M701.4 540.1L700.9 538.8M701.4 540.1L701.7 538.8M700.2 541.5L702.4 540.3M702.4 540.3L702.8 538.8M702.4 540.3L702.8 539.6M689.5 539.6L689.6 536.0M689.6 536.0L688.8 535.5M689.6 536.0L691.2 535.3M689.0 539.0L687.5 535.9M687.5 535.9L686.4 534.6M687.5 535.9L686.8 535.2M690.3 540.5L689.1 536.4M689.1 536.4L688.5 535.1M689.1 536.4L689.6 534.9M696.4 539.8L698.6 536.2M698.6 536.2L698.2 534.9M698.6 536.2L700.2 535.6M700.8 535.6L703.0 533.6M703.0 533.6L704.6 533.7M703.0 533.6L703.1 532.7M696.3 540.0L698.7 538.6M698.7 538.6L699.1 537.7M698.7 538.6L699.4 537.1M684.9 532.4L682.9 531.6M682.9 531.6L681.4 531.9M682.9 531.6L681.6 532.5M684.9 532.4L684.7 529.5M684.7 529.5L685.1 528.3M684.7 529.5L684.9 528.5M686.8 534.1L683.3 533.8M683.3 533.8L682.5 534.6M683.3 533.8L682.6 532.6M700.5 534.9L703.2 533.5M703.2 533.5L703.6 532.5M703.2 533.5L704.1 534.2M700.8 534.7L704.2 532.9M704.2 532.9L704.8 531.9M704.2 532.9L705.0 531.8M689.9 534.6L687.3 534.1M687.3 534.1L686.8 533.4M687.3 534.1L686.9 532.4M686.5 532.3L685.7 529.2M685.7 529.2L685.9 528.1M685.7 529.2L685.0 528.2M687.7 533.1L683.6 533.2M683.6 533.2L682.0 532.8M683.6 533.2L682.1 532.4M696.1 536.2L697.2 533.8M697.2 533.8L698.3 533.1M697.2 533.8L698.5 532.6M697.8 535.0L699.4 531.4M699.4 531.4L699.4 530.2M699.4 531.4L698.8 529.9M686.9 528.6L684.0 526.7M684.0 526.7L682.4 527.1M684.0 526.7L682.6 527.2M689.2 530.9L685.5 530.1M685.5 530.1L684.1 530.5M685.5 530.1L685.3 529.2M687.8 529.5L687.2 525.8M687.2 525.8L687.6 525.0M687.2 525.8L686.4 525.5M696.3 531.7L699.9 531.3M699.9 531.3L701.3 531.5M699.9 531.3L700.5 530.5M695.4 532.6L696.0 529.4M696.0 529.4L695.6 527.7M696.0 529.4L696.9 529.0M690.1 529.3L685.8 529.1M685.8 529.1L684.7 529.4M685.8 529.1L684.6 529.2M690.0 529.2L687.5 527.8M687.5 527.8L685.8 527.1M687.5 527.8L686.2 528.7M696.3 527.6L697.6 525.4M697.6 525.4L698.5 525.5M697.6 525.4L698.7 524.3M698.2 525.6L700.1 524.3M700.1 524.3L700.4 523.6M700.1 524.3L699.8 524.5M696.0 528.0L698.2 527.4M698.2 527.4L698.7 526.4M698.2 527.4L699.6 526.7M690.3 525.8L687.8 523.6M687.8 523.6L687.1 524.3M687.8 523.6L687.9 524.5M689.6 525.1L689.2 523.8M689.2 523.0L688.3 523.7M689.2 523.0L689.6 524.0M690.8 526.3L689.3 524.0M689.3 524.0L688.3 524.2M689.3 524.0L688.6 524.1M696.4 525.3L699.9 525.1M699.9 525.1L701.2 524.9M699.9 525.1L701.0 525.0M694.3 527.0L695.0 524.0M695.0 523.1L694.3 524.0M695.0 523.1L694.6 523.6M696.1 525.5L699.0 525.5M699.0 525.5L700.1 526.1M699.0 525.5L699.3 526.4" fill="none" stroke="#333" stroke-width="0.3" stroke-linecap="round"/>
<path d="M741.5 574.5L741.5 524.5M741.5 562.6L737.0 559.5M741.5 561.3L746.4 555.8M741.5 556.2L735.1 549.5M741.5 555.9L749.1 549.3M741.5 550.6L732.5 541.6M741.5 552.3L750.7 544.0M741.5 547.9L732.8 540.8M741.5 547.1L750.8 538.1M741.5 543.4L733.8 536.7M741.5 545.0L749.8 539.6M741.5 539.9L732.4 532.7M741.5 541.1L749.3 536.3M741.5 537.8L734.3 533.6M741.5 537.1L749.1 529.2M741.5 535.1L735.3 530.2M741.5 534.4L749.1 529.7M741.5 532.2L736.4 527.4M741.5 531.7L747.3 527.3M741.5 529.1L738.1 526.3M741.5 529.0L745.1 526.7" fill="none" stroke="#2a2a2a" stroke-width="0.4" stroke-linecap="round"/>
<path d="M738.9 560.7L736.4 561.0M736.4 561.0L735.4 561.8M736.4 561.0L735.3 561.5M738.8 560.7L735.2 558.2M735.2 558.2L734.5 557.4M735.2 558.2L734.1 557.8M743.4 559.2L744.7 555.9M744.7 555.9L744.0 555.0M744.7 555.9L744.9 555.1M744.9 557.5L747.2 555.0M747.2 555.0L747.2 553.3M747.2 555.0L747.6 553.5M735.4 549.8L733.8 547.9M733.8 547.9L733.7 546.3M733.8 547.9L733.5 546.9M737.5 552.0L734.5 549.8M734.5 549.8L733.4 549.7M734.5 549.8L734.4 548.4M746.2 551.8L747.0 549.0M747.0 549.0L745.8 547.8M747.0 549.0L746.1 548.0M748.2 550.1L752.0 550.0M752.0 550.0L752.9 550.2M752.0 550.0L753.4 550.3M748.2 550.1L749.0 546.0M749.0 546.0L749.4 544.8M749.0 546.0L750.2 545.0M733.9 543.0L730.3 541.6M730.3 541.6L729.3 541.7M730.3 541.6L729.0 541.5M733.8 542.9L732.8 539.4M732.8 539.4L733.3 538.6M732.8 539.4L732.5 538.4M750.0 544.6L751.4 541.7M751.4 541.7L750.6 540.9M751.4 541.7L750.8 540.2M750.3 544.3L751.1 540.1M751.1 540.1L750.0 539.1M751.1 540.1L752.1 539.0M738.1 545.1L735.7 545.1M735.7 545.1L735.3 545.9M735.7 545.1L734.1 544.5M734.9 542.5L731.9 540.2M731.9 540.2L730.8 540.5M731.9 540.2L730.4 540.5M750.5 538.4L752.8 535.2M752.8 535.2L752.6 533.9M752.8 535.2L753.6 533.6M746.0 542.7L748.0 542.0M748.0 542.0L748.7 541.1M748.0 542.0L748.2 540.3M746.2 542.6L750.2 542.5M750.2 542.5L750.8 541.7M750.2 542.5L750.7 541.4M736.4 539.0L733.6 537.8M733.6 537.8L732.9 536.8M733.6 537.8L732.0 538.2M737.6 540.1L736.3 537.9M736.3 537.9L735.9 537.1M736.3 537.9L737.0 536.9M749.6 539.8L753.1 538.3M753.1 538.3L753.5 537.2M753.1 538.3L754.4 538.8M749.2 540.0L751.9 537.6M751.9 537.6L751.8 536.3M751.9 537.6L752.4 536.8M737.9 537.1L735.0 536.6M735.0 536.6L734.2 535.8M735.0 536.6L733.9 537.7M733.5 533.6L731.7 531.5M731.7 531.5L731.5 530.5M731.7 531.5L730.9 530.9M747.5 537.5L748.6 534.8M748.6 534.8L749.4 534.4M748.6 534.8L750.4 534.7M747.5 537.4L749.1 535.6M749.1 535.6L749.8 534.9M749.1 535.6L749.8 534.0M745.2 538.8L746.2 535.7M746.2 535.7L745.5 534.4M746.2 535.7L746.9 535.0M736.2 534.7L733.8 534.2M733.8 534.2L732.8 533.0M733.8 534.2L733.1 533.6M736.4 534.8L733.3 534.6M733.3 534.6L732.5 535.2M733.3 534.6L732.0 533.8M737.2 535.2L735.3 531.5M735.3 531.5L734.8 529.9M735.3 531.5L734.5 530.8M747.4 531.0L751.3 529.2M751.3 529.2L751.9 527.5M751.3 529.2L752.2 529.4M744.2 534.3L745.0 530.6M745.0 530.6L745.2 529.8M745.0 530.6L745.7 529.6M744.6 533.9L745.9 531.8M745.9 531.8L745.9 530.7M745.9 531.8L745.0 530.2M736.5 531.2L733.4 529.6M733.4 529.6L733.3 528.6M733.4 529.6L732.8 528.8M735.7 530.5L731.8 530.2M731.8 530.2L730.9 529.4M731.8 530.2L731.2 528.8M744.5 532.6L746.0 529.9M746.0 529.9L747.0 529.0M746.0 529.9L746.2 529.1M746.0 531.6L749.4 532.4M749.4 532.4L750.1 533.7M749.4 532.4L751.2 532.6M739.2 530.1L737.5 528.2M737.5 528.2L736.2 527.1M737.5 528.2L737.2 527.4M738.6 529.5L737.8 526.2M737.8 526.2L738.7 525.1M737.8 526.2L739.0 525.3M744.2 529.6L747.2 528.8M747.2 528.8L748.5 529.4M747.2 528.8L747.7 527.9M744.1 529.8L746.9 528.1M746.9 528.1L748.3 527.2M746.9 528.1L747.7 528.2M746.6 527.8L747.1 525.0M747.1 525.0L746.4 523.5M747.1 525.0L747.6 524.1M738.6 526.8L737.2 524.3M737.2 524.3L736.2 523.6M737.2 524.3L736.5 524.0M739.2 527.3L736.9 526.3M736.9 526.3L736.4 525.4M736.9 526.3L735.8 525.8M743.5 527.8L745.6 524.9M745.6 524.9L745.4 524.3M745.6 524.9L745.1 524.0M744.7 527.0L747.2 526.1M747.2 526.1L748.3 526.8M747.2 526.1L748.8 526.5M743.4 527.8L745.9 527.5M745.9 527.5L747.0 526.7M745.9 527.5L746.9 527.1" fill="none" stroke="#333" stroke-width="0.3" stroke-linecap="round"/>
<path d="M490 436L490 392M490 433l-5-5M490 433l5-5M490 429l-6-6M490 429l6-6" fill="none" stroke="#333" stroke-width="0.45"/>
<path d="M490.0 425.8L483.8 419.1M486.9 422.4L483.3 420.6M483.3 420.6L482.1 420.5M485.7 421.1L482.2 420.5M482.2 420.5L481.3 419.2M490.0 426.0L495.9 419.4M493.1 422.5L495.0 418.2M494.7 418.7L496.9 417.3M496.9 417.3L497.6 417.3M493.9 420.7L493.7 418.5M493.7 418.5L492.6 418.0M494.6 418.9L496.5 417.8M496.5 417.8L497.8 417.9M493.3 422.3L496.5 421.3M495.5 421.6L496.2 420.3M496.2 420.3L497.3 419.9M495.8 421.5L496.7 420.2M496.7 420.2L497.7 420.4M495.3 421.6L497.2 421.3M497.2 421.3L498.5 420.6M495.6 419.7L499.1 417.8M496.9 419.0L498.9 418.6M498.9 418.6L499.4 418.1M497.6 418.6L499.4 418.3M499.4 418.3L500.2 417.2M490.0 423.9L484.2 417.5M485.0 418.4L483.0 413.9M483.1 414.2L483.2 411.5M483.2 411.5L482.0 410.6M484.3 416.8L482.1 415.0M482.1 415.0L481.3 414.6M484.3 417.7L482.7 413.8M483.3 415.3L483.5 412.8M483.5 412.8L484.3 412.5M482.9 414.2L481.7 413.1M481.7 413.1L480.9 412.7M483.3 415.3L481.7 413.4M481.7 413.4L480.7 413.7M490.0 423.5L495.7 417.9M492.6 421.0L493.8 417.5M493.8 417.5L494.7 416.7M493.2 420.3L494.4 416.3M494.4 416.3L494.9 415.4M490.0 421.6L484.6 413.7M487.9 418.6L483.3 416.1M483.3 416.1L482.5 416.5M488.3 419.1L485.0 416.6M485.0 416.6L484.3 416.6M490.0 421.7L496.6 416.1M496.5 416.2L498.3 412.2M497.8 413.4L497.2 411.2M497.2 411.2L497.3 409.9M497.8 413.4L499.5 411.7M499.5 411.7L500.4 412.2M492.2 419.8L494.3 415.0M494.3 415.0L496.8 413.4M496.8 413.4L497.5 413.7M493.9 415.9L493.4 413.5M493.4 413.5L493.1 412.4M494.1 415.5L495.7 414.1M495.7 414.1L496.0 412.6M495.1 417.4L499.2 416.2M498.2 416.5L499.9 416.2M499.9 416.2L501.1 416.7M496.7 416.9L498.2 415.4M498.2 415.4L499.4 415.9M490.0 419.5L482.8 413.6M483.9 414.5L481.8 409.6M481.8 409.6L479.4 408.4M479.4 408.4L478.5 408.5M482.6 411.4L482.7 408.3M482.7 408.3L482.8 407.5M483.4 414.1L479.9 413.5M482.0 413.9L480.2 413.6M480.2 413.6L479.7 414.3M481.9 413.8L480.2 412.7M480.2 412.7L479.6 411.7M487.4 417.3L485.1 412.0M486.4 414.9L484.0 413.2M484.0 413.2L483.2 412.7M486.6 415.6L486.5 412.6M486.5 412.6L486.0 411.9M490.0 419.5L496.8 413.0M492.3 417.3L496.0 415.6M496.0 415.6L497.3 414.9M496.2 413.6L496.5 409.4M496.5 409.4L497.0 408.5M495.4 414.4L499.0 413.3M499.0 413.3L499.8 413.8M490.0 417.6L482.8 411.7M486.5 414.7L482.9 414.1M482.9 414.1L482.4 414.6M485.0 413.4L480.3 411.6M480.3 411.6L479.4 411.2M490.0 418.2L496.3 411.1M496.1 411.4L497.4 407.0M497.4 407.0L498.8 406.8M495.0 412.5L499.0 410.8M499.0 410.8L499.1 409.5M496.3 411.1L500.2 410.3M500.2 410.3L500.7 408.9M490.0 416.5L483.4 409.7M484.3 410.6L480.3 409.9M480.3 409.9L479.5 410.2M484.0 410.3L480.4 409.7M480.4 409.7L478.9 409.5M490.0 416.2L496.5 409.3M493.7 412.2L499.0 411.3M499.0 411.3L499.8 411.8M493.9 412.0L498.3 409.8M498.3 409.8L499.5 410.9M490.0 413.7L483.3 407.2M484.8 408.7L481.1 407.8M481.1 407.8L479.7 407.5M487.8 411.6L483.2 410.8M483.2 410.8L482.4 411.1M490.0 414.9L495.6 407.2M492.9 410.9L497.7 408.2M497.7 408.2L498.4 407.4M492.3 411.8L496.4 410.7M496.4 410.7L497.0 411.1M490.0 412.1L483.6 405.1M488.0 409.9L483.5 407.8M483.5 407.8L482.7 406.8M483.7 405.2L482.3 400.9M482.3 400.9L481.1 400.5M485.2 406.8L485.2 402.4M485.2 402.4L486.2 401.8M490.0 412.3L497.4 406.7M496.7 407.2L500.9 406.1M500.9 406.1L501.8 405.4M497.2 406.8L501.5 406.1M501.5 406.1L502.0 405.5M494.9 408.6L497.1 403.8M497.1 403.8L498.1 403.8M490.0 410.3L483.1 403.9M483.8 404.6L479.4 402.8M479.4 402.8L478.1 403.0M485.0 405.7L480.1 404.8M480.1 404.8L479.8 403.6M485.2 405.8L480.6 405.0M480.6 405.0L479.6 405.7M490.0 410.2L496.0 402.8M492.6 407.0L496.9 406.0M496.1 406.2L498.2 405.8M498.2 405.8L499.1 406.2M495.6 406.3L498.1 405.9M498.1 405.9L498.8 406.8M496.3 406.1L498.9 405.7M498.9 405.7L499.9 406.1M494.3 404.9L498.8 403.1M496.3 404.1L497.5 401.5M497.5 401.5L498.9 401.0M497.2 403.7L499.5 403.3M499.5 403.3L500.3 403.3M497.4 403.7L499.0 401.6M499.0 401.6L499.7 401.2M490.0 408.4L484.8 400.3M488.3 405.7L486.7 400.2M486.7 400.2L486.6 399.3M487.3 404.3L482.3 402.7M482.3 402.7L481.2 402.4M487.9 405.1L486.6 400.3M486.6 400.3L487.0 399.1M490.0 409.1L496.9 402.7M496.4 403.1L500.1 401.9M499.1 402.2L499.9 400.6M499.9 400.6L499.7 399.5M498.7 402.3L499.7 400.4M499.7 400.4L499.6 399.1M499.8 402.0L501.7 401.7M501.7 401.7L503.0 402.2M496.3 403.2L499.7 401.7M498.7 402.2L499.6 400.3M499.6 400.3L499.2 399.6M498.5 402.2L499.6 400.6M499.6 400.6L500.2 399.7M493.5 405.8L494.6 400.4M494.2 402.3L493.8 399.4M493.8 399.4L492.9 399.0M493.8 404.1L492.5 401.3M492.5 401.3L492.0 400.0M494.0 403.3L492.8 400.8M492.8 400.8L492.7 399.3M490.0 407.4L483.5 402.2M486.9 404.9L483.1 404.2M483.1 404.2L482.4 404.7M483.8 402.4L479.9 401.7M479.9 401.7L478.7 400.7M490.0 407.2L495.7 399.5M493.3 402.6L496.8 400.4M496.8 400.4L496.7 398.9M492.9 403.3L496.7 401.6M496.7 401.6L497.7 401.5M492.4 403.9L492.6 398.2M492.6 398.2L493.0 397.3M490.0 405.3L484.1 399.7M486.6 402.1L486.1 397.3M486.1 397.3L485.6 396.3M487.7 403.1L486.7 398.5M486.7 398.5L486.2 397.8M487.7 403.1L487.1 399.5M487.1 399.5L488.2 398.3M490.0 405.8L496.6 399.6M493.6 402.5L494.1 397.2M493.8 400.2L494.7 398.2M494.7 398.2L494.6 396.8M493.8 399.9L492.4 397.7M492.4 397.7L491.1 397.7M494.7 401.4L499.5 400.6M499.2 400.6L500.6 398.9M500.6 398.9L502.0 398.6M498.6 400.7L501.1 400.3M501.1 400.3L501.7 399.1M490.0 403.5L484.8 395.4M487.8 400.1L483.8 399.0M483.8 399.0L483.0 397.9M485.7 396.7L484.8 392.1M484.8 392.1L484.3 391.5M485.0 395.6L485.1 390.3M485.1 390.3L484.3 389.2M490.0 402.7L494.4 399.4M492.2 401.0L493.6 397.9M493.6 397.9L494.2 397.0M494.3 399.4L495.0 396.6M495.0 396.6L494.6 395.5" fill="none" stroke="#222" stroke-width="0.32" stroke-linecap="round"/>
<path d="M796.7 436L796.7 390" fill="none" stroke="#333" stroke-width="0.45"/>
<path d="M796.7 422.3L791.0 413.2M793.2 416.8L793.0 411.4M793.2 414.9L791.9 412.1M791.9 412.1L791.3 410.8M793.0 412.4L792.0 409.9M792.0 409.9L791.2 408.9M793.1 413.3L791.8 411.3M791.8 411.3L790.2 411.2M792.9 416.3L788.7 413.9M789.0 414.0L788.1 411.1M788.1 411.1L787.0 409.9M789.5 414.3L787.0 413.9M787.0 413.9L785.6 415.0M789.3 414.2L786.6 413.7M786.6 413.7L785.6 413.9M793.0 416.3L792.7 410.5M792.9 414.2L791.2 411.9M791.2 411.9L791.3 410.8M792.8 412.2L794.3 409.3M794.3 409.3L793.5 407.7M792.8 414.1L791.5 411.2M791.5 411.2L791.1 410.0M796.7 423.0L803.2 414.7M802.0 416.2L804.0 410.4M804.0 410.4L805.2 410.0M799.0 420.0L800.7 414.8M800.7 414.8L800.3 413.2M796.7 421.0L790.5 412.4M792.9 415.8L788.2 414.6M788.2 414.6L787.6 413.6M794.6 418.1L789.4 417.2M789.4 417.2L788.4 417.6M790.7 412.7L790.8 408.0M790.8 408.0L791.9 406.9M796.7 420.2L803.5 412.2M798.8 417.8L799.9 412.3M799.9 412.3L800.4 411.1M799.7 416.7L801.2 410.3M801.2 410.3L801.6 408.8M796.7 419.4L790.1 411.2M793.2 415.1L789.7 413.3M789.7 413.3L788.5 414.1M792.8 414.6L790.6 408.6M790.6 408.6L789.8 408.4M796.7 419.2L802.6 410.2M799.0 415.7L803.8 412.5M803.8 412.5L805.3 411.7M799.1 415.6L799.1 409.7M799.1 409.7L799.2 408.3M796.7 416.0L791.3 406.7M793.2 410.0L788.9 407.6M788.9 407.6L788.7 405.6M792.2 408.3L788.6 406.5M788.6 406.5L787.2 406.8M792.1 408.1L791.8 401.5M791.8 401.5L790.6 401.0M796.7 416.2L803.4 408.2M801.4 410.6L806.0 409.8M806.0 409.8L806.9 409.9M802.5 409.3L802.9 403.3M802.9 403.3L802.6 402.4M796.7 415.0L789.4 407.6M793.8 412.1L790.9 406.4M791.2 406.9L789.0 405.2M789.0 405.2L788.1 404.6M792.0 408.6L792.4 405.9M792.4 405.9L792.3 404.0M791.8 410.0L789.9 405.1M789.9 405.2L790.2 402.5M790.2 402.5L790.9 401.6M790.4 406.3L788.7 404.5M788.7 404.5L788.0 403.7M796.7 413.6L802.6 404.7M801.9 405.8L801.7 400.3M801.7 400.3L801.0 399.7M800.4 407.9L801.3 402.1M801.3 402.1L801.2 400.8M801.9 405.8L807.0 403.5M807.0 403.5L807.9 402.7M796.7 412.8L790.5 404.2M792.0 406.3L790.5 400.6M791.5 404.3L789.5 402.3M789.5 402.3L789.7 401.0M791.4 403.9L790.0 402.1M790.0 402.1L789.2 401.5M794.3 409.5L790.4 407.8M791.3 408.2L790.0 405.8M790.0 405.8L789.3 405.7M791.5 408.3L790.2 406.7M790.2 406.7L790.1 405.5M796.7 412.9L803.7 405.1M802.8 406.1L807.5 404.8M807.5 404.8L808.5 404.7M801.0 408.1L802.3 403.4M802.3 403.4L802.1 402.0M800.9 408.3L802.3 402.8M802.3 402.8L802.5 401.1M796.7 410.0L790.2 401.7M793.9 406.4L788.5 405.2M788.5 405.2L787.8 405.5M792.4 404.5L791.1 399.1M791.1 399.1L791.3 397.7M792.8 405.1L787.6 404.1M787.6 404.1L786.7 405.2M796.7 409.5L803.0 401.0M801.9 402.5L805.4 400.1M803.7 401.3L804.3 398.9M804.3 398.9L804.2 397.1M803.8 401.2L806.0 400.8M806.0 400.8L807.1 400.1M803.6 401.3L805.9 400.9M805.9 400.9L807.3 401.8M798.7 406.8L803.5 404.5M801.4 405.5L803.6 405.1M803.6 405.1L804.5 403.6M803.0 404.7L803.9 402.1M803.9 402.1L804.7 401.1M801.4 403.2L802.8 397.2M802.6 398.2L801.4 395.4M801.4 395.4L801.9 394.3M801.9 400.9L801.5 398.5M801.5 398.5L800.3 397.1M802.0 400.6L804.1 398.5M804.1 398.5L805.2 398.0M796.7 407.3L789.1 400.3M790.8 401.8L786.8 401.1M787.3 401.2L785.0 400.8M785.0 400.8L784.2 402.2M788.4 401.4L787.0 399.3M787.0 399.3L785.8 399.6M792.9 403.8L791.3 398.6M792.0 401.0L790.3 399.9M790.3 399.9L789.7 398.1M792.0 400.8L790.5 399.1M790.5 399.1L790.1 398.2M794.2 404.9L793.2 400.5M793.4 401.4L794.1 399.4M794.1 399.4L795.0 398.7M793.3 400.8L791.9 398.7M791.9 398.7L792.2 396.8M796.7 408.6L802.9 399.9M801.3 402.1L805.2 401.1M805.2 401.1L805.7 400.0M799.2 405.1L800.6 399.0M800.6 399.0L801.7 397.6M796.7 406.3L789.3 399.1M790.1 399.9L788.1 395.7M788.1 395.7L787.0 395.7M792.3 402.0L789.9 397.5M789.9 397.5L790.4 396.2M796.7 405.4L803.2 397.0M800.8 400.1L804.6 397.8M804.6 397.8L805.6 397.5M799.1 402.3L803.8 400.6M803.8 400.6L804.4 399.9M799.4 401.9L803.8 399.0M803.8 399.0L804.6 397.9M796.7 404.4L790.2 396.4M791.5 398.0L786.3 395.6M787.2 396.0L785.5 393.3M785.5 393.3L785.0 392.2M788.9 396.8L786.6 396.4M786.6 396.4L785.5 397.2M793.0 399.9L791.1 394.3M791.9 396.6L789.7 394.5M789.7 394.5L788.8 393.3M792.3 397.8L792.8 394.7M792.8 394.7L791.9 393.9M796.7 404.2L804.3 397.3M801.0 400.3L806.1 399.4M806.1 399.4L806.7 398.9M802.4 399.1L803.8 392.6M803.8 392.6L805.4 392.1M800.7 400.6L801.5 395.8M801.5 395.8L801.9 394.9M796.7 402.4L790.3 393.9M793.0 397.4L791.4 392.0M791.4 392.0L791.5 390.7M792.2 396.4L791.2 391.8M791.2 391.8L791.0 390.3M796.7 402.0L803.4 393.9M803.3 393.9L803.7 387.4M803.7 387.4L802.7 386.8M800.5 397.4L804.5 395.3M804.5 395.3L805.4 396.1M796.7 399.0L789.9 392.8M794.3 396.8L790.9 396.0M792.1 396.3L790.0 395.9M790.0 395.9L788.6 396.9M792.8 396.5L790.7 396.1M790.7 396.1L790.0 396.3M793.2 396.6L791.3 396.2M791.3 396.2L790.6 397.4M791.8 394.5L790.3 388.9M790.8 390.9L791.7 388.7M791.7 388.7L791.2 386.9M790.9 391.1L791.6 388.6M791.6 388.6L791.7 387.1M791.3 392.6L792.0 389.3M792.0 389.3L791.1 388.0M796.7 399.7L802.9 393.9M802.4 394.4L806.2 392.8M805.7 393.0L806.8 390.5M806.8 390.5L808.3 390.3M806.1 392.8L807.3 391.0M807.3 391.0L808.6 390.7M800.6 396.0L801.3 392.4M801.2 392.5L802.5 391.5M802.5 391.5L802.8 390.7M801.0 394.0L802.4 392.8M802.4 392.8L804.0 392.7M800.4 396.3L804.5 394.4M804.3 394.5L806.7 394.1M806.7 394.1L807.6 392.5M804.3 394.5L806.2 392.6M806.2 392.6L805.9 391.5M803.5 394.9L804.5 392.5M804.5 392.5L805.3 392.4M796.7 397.6L791.2 389.3M794.0 393.5L789.6 390.2M789.6 390.2L788.5 390.7M794.3 393.9L794.1 389.3M794.1 389.3L794.6 387.4M796.7 397.6L802.4 392.8M800.2 394.7L801.5 390.6M801.5 390.6L803.0 390.2M800.2 394.7L803.8 393.5M803.8 393.5L804.1 392.3" fill="none" stroke="#222" stroke-width="0.32" stroke-linecap="round"/>
<rect x="536.50" y="31.60" width="214.50" height="41.40" fill="rgb(228,238,220)" style="mix-blend-mode:multiply"/>
<rect x="536.50" y="31.60" width="214.50" height="41.40" fill="rgb(179,220,189)" fill-opacity="0.329"/>
<rect x="536.50" y="73.00" width="214.50" height="28.20" fill="rgb(188,216,224)" style="mix-blend-mode:multiply"/>
<rect x="536.50" y="73.00" width="214.50" height="28.20" fill="rgb(153,184,197)" fill-opacity="0.347"/>
<rect x="536.50" y="101.20" width="214.50" height="141.30" fill="rgb(195,186,205)" style="mix-blend-mode:multiply"/>
<rect x="536.50" y="101.20" width="214.50" height="141.30" fill="rgb(183,164,194)" fill-opacity="0.451"/>
<rect x="536.50" y="242.50" width="214.50" height="20.00" fill="rgb(226,215,228)" style="mix-blend-mode:multiply"/>
<rect x="536.50" y="242.50" width="214.50" height="20.00" fill="rgb(190,166,204)" fill-opacity="0.342"/>
<rect x="463.60" y="440.80" width="359.60" height="23.60" fill="rgb(224,173,120)" style="mix-blend-mode:multiply"/>
<rect x="463.60" y="440.80" width="359.60" height="23.60" fill="rgb(194,128,78)" fill-opacity="0.335"/>
<rect x="497.00" y="547.00" width="293.00" height="27.00" fill="rgb(237,186,202)" style="mix-blend-mode:multiply"/>
<rect x="497.00" y="547.00" width="293.00" height="27.00" fill="rgb(239,46,91)" fill-opacity="0.515"/>
<line x1="497.00" y1="547.20" x2="790.00" y2="547.20" stroke="#a03050" stroke-width="0.6"/>
<g font-family="'Liberation Sans',sans-serif" font-size="3.8" fill="#3a3a3a">
<text x="640.4" y="30.3" textLength="36" lengthAdjust="spacingAndGlyphs">NPT+188.230 (553.380)</text>
<text x="499.4" y="435.1" textLength="34.3" lengthAdjust="spacingAndGlyphs">NPT+27.330 (552.480)</text>
<text x="753.3" y="435.1" textLength="33.7" lengthAdjust="spacingAndGlyphs">NPT+27.330 (552.480)</text>
</g>
<path d="M642.4 29.3l1.3 1.9 1.3-1.9z M500.9 434l1.3 1.9 1.3-1.9z M754.5 434l1.3 1.9 1.3-1.9z" fill="#111"/>
<g font-family="'Liberation Sans',sans-serif" font-weight="bold" fill="#1c1c1c">
<text y="614.0" font-size="9.3" stroke="#1c1c1c" stroke-width="0.3"><tspan x="444.8" textLength="43.4" lengthAdjust="spacingAndGlyphs">FACHADA</tspan> <tspan x="491.4" textLength="15.6" lengthAdjust="spacingAndGlyphs">SUR</tspan> <tspan x="510.2" textLength="8.6" lengthAdjust="spacingAndGlyphs">F1</tspan></text>
</g>
<text x="444.8" y="617.3" font-family="'Liberation Sans',sans-serif" font-size="2.4" fill="#777" textLength="16.5" lengthAdjust="spacingAndGlyphs">ESCALA 1:500</text>
<g font-family="'Liberation Sans',sans-serif" font-weight="bold" fill="#141414" stroke="#141414" stroke-width="0.3">
<rect x="44.1" y="512.3" width="34.9" height="12.5" fill="#f4a9b6" stroke="#e29da9" stroke-width="0.5"/>
<text y="523.1" font-size="11.9" ><tspan x="83.7" textLength="48.3" lengthAdjust="spacingAndGlyphs">PLANTA</tspan> <tspan x="138" textLength="29.5" lengthAdjust="spacingAndGlyphs">BAJA</tspan> <tspan x="174.5" textLength="69.7" lengthAdjust="spacingAndGlyphs">COMERCIO</tspan> <tspan x="249.8" textLength="7.5" lengthAdjust="spacingAndGlyphs">Y</tspan> <tspan x="264" textLength="48.0" lengthAdjust="spacingAndGlyphs">PLANTA</tspan> <tspan x="319" textLength="74.2" lengthAdjust="spacingAndGlyphs">MEZZANINE</tspan></text>
<rect x="44.1" y="534.2" width="34.9" height="12.5" fill="#ecae7a" stroke="#dba171" stroke-width="0.5"/>
<text y="544.1" font-size="11.9" ><tspan x="83.7" textLength="120.1" lengthAdjust="spacingAndGlyphs">ESTACIONAMIENTO</tspan> <tspan x="212" textLength="59.5" lengthAdjust="spacingAndGlyphs">OFICINAS</tspan></text>
<rect x="44.1" y="555.4" width="34.9" height="12.5" fill="#c9a6d1" stroke="#ba9ac2" stroke-width="0.5"/>
<text y="566.8" font-size="11.9" ><tspan x="83.7" textLength="47.6" lengthAdjust="spacingAndGlyphs">PLANTA</tspan> <tspan x="138" textLength="27.0" lengthAdjust="spacingAndGlyphs">TIPO</tspan> <tspan x="172.5" textLength="60.0" lengthAdjust="spacingAndGlyphs">OFICINAS</tspan></text>
<rect x="44.1" y="574.6" width="34.9" height="12.5" fill="#6bbdd1" stroke="#63afc2" stroke-width="0.5"/>
<text y="586.5" font-size="11.9" ><tspan x="83.7" textLength="31.3" lengthAdjust="spacingAndGlyphs">PENT</tspan> <tspan x="121.3" textLength="42.5" lengthAdjust="spacingAndGlyphs">HOUSE</tspan> <tspan x="170.5" textLength="60.0" lengthAdjust="spacingAndGlyphs">OFICINAS</tspan></text>
<rect x="44.1" y="594.6" width="34.9" height="12.5" fill="#a9d5a9" stroke="#9dc69d" stroke-width="0.5"/>
<text y="606.3" font-size="11.9" ><tspan x="83.7" textLength="34.3" lengthAdjust="spacingAndGlyphs">ROOF</tspan> <tspan x="125" textLength="53.0" lengthAdjust="spacingAndGlyphs">GARDEN</tspan></text>
</g>
</svg>
</body></html>
